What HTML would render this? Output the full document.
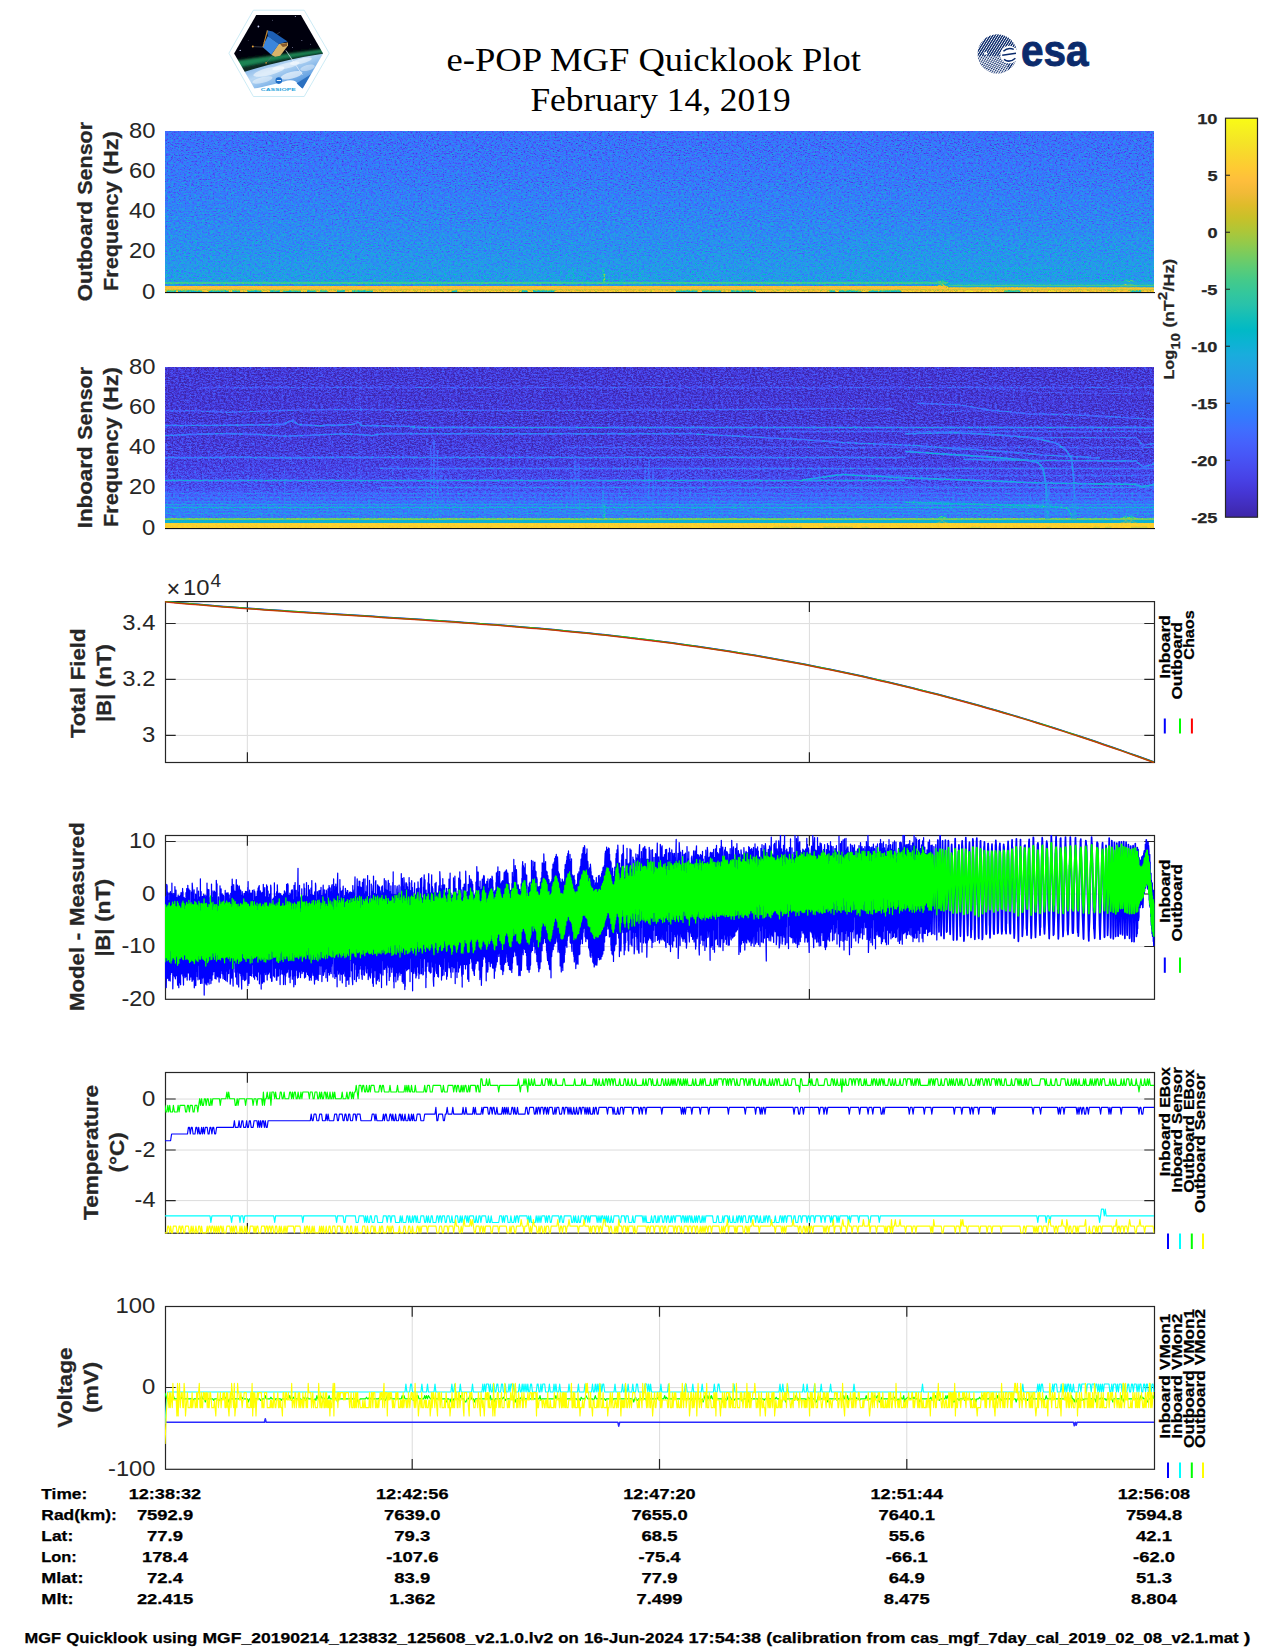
<!DOCTYPE html>
<html lang="en"><head><meta charset="utf-8"><title>e-POP MGF Quicklook Plot - February 14, 2019</title>
<style>
html,body{margin:0;padding:0;background:#fff;}
body{width:1275px;height:1650px;overflow:hidden;font-family:"Liberation Sans",sans-serif;}
svg{display:block;position:absolute;left:0;top:0;}
svg text{font-family:"Liberation Sans",sans-serif;}
svg text.serif{font-family:"Liberation Serif",serif;}
</style></head><body>
<svg width="1275" height="1650" viewBox="0 0 1275 1650">
<defs>
<linearGradient id="cbar" x1="0" y1="0" x2="0" y2="1"><stop offset="0.0000" stop-color="#f9fb15"/><stop offset="0.0312" stop-color="#f6ef20"/><stop offset="0.0625" stop-color="#f5e327"/><stop offset="0.0938" stop-color="#f9d62d"/><stop offset="0.1250" stop-color="#feca33"/><stop offset="0.1562" stop-color="#febe3c"/><stop offset="0.1875" stop-color="#f1ba37"/><stop offset="0.2188" stop-color="#debc2a"/><stop offset="0.2500" stop-color="#c8c129"/><stop offset="0.2812" stop-color="#afc637"/><stop offset="0.3125" stop-color="#94ca4a"/><stop offset="0.3438" stop-color="#77cc60"/><stop offset="0.3750" stop-color="#5ccc76"/><stop offset="0.4062" stop-color="#44ca8a"/><stop offset="0.4375" stop-color="#34c79c"/><stop offset="0.4688" stop-color="#28c2ab"/><stop offset="0.5000" stop-color="#12beb9"/><stop offset="0.5312" stop-color="#01b9c6"/><stop offset="0.5625" stop-color="#0cb3d3"/><stop offset="0.5938" stop-color="#1aacdd"/><stop offset="0.6250" stop-color="#21a3e3"/><stop offset="0.6562" stop-color="#269ae9"/><stop offset="0.6875" stop-color="#2c90f0"/><stop offset="0.7188" stop-color="#2e85f8"/><stop offset="0.7500" stop-color="#347afd"/><stop offset="0.7812" stop-color="#3f6efe"/><stop offset="0.8125" stop-color="#4562fc"/><stop offset="0.8438" stop-color="#4757f7"/><stop offset="0.8750" stop-color="#484cef"/><stop offset="0.9062" stop-color="#4741e5"/><stop offset="0.9375" stop-color="#4536d5"/><stop offset="0.9688" stop-color="#422ebf"/><stop offset="1.0000" stop-color="#3e26a8"/></linearGradient>
<linearGradient id="sg1" gradientUnits="userSpaceOnUse" x1="0" y1="131" x2="0" y2="292"><stop offset="0.0000" stop-color="#424242"/><stop offset="0.2422" stop-color="#474747"/><stop offset="0.4907" stop-color="#505050"/><stop offset="0.7081" stop-color="#595959"/><stop offset="0.8323" stop-color="#5f5f5f"/><stop offset="0.9255" stop-color="#636363"/><stop offset="0.9342" stop-color="#606060"/><stop offset="0.9373" stop-color="#959595"/><stop offset="0.9478" stop-color="#959595"/><stop offset="0.9503" stop-color="#5f5f5f"/><stop offset="0.9609" stop-color="#5f5f5f"/><stop offset="0.9634" stop-color="#d8d8d8"/><stop offset="0.9839" stop-color="#d8d8d8"/><stop offset="0.9857" stop-color="#bababa"/><stop offset="0.9882" stop-color="#bababa"/><stop offset="0.9901" stop-color="#dbdbdb"/><stop offset="1.0000" stop-color="#dedede"/></linearGradient>
<linearGradient id="sg2" gradientUnits="userSpaceOnUse" x1="0" y1="367" x2="0" y2="528"><stop offset="0.0000" stop-color="#1a1a1a"/><stop offset="0.3913" stop-color="#1b1b1b"/><stop offset="0.5776" stop-color="#202020"/><stop offset="0.7019" stop-color="#272727"/><stop offset="0.7640" stop-color="#303030"/><stop offset="0.8261" stop-color="#3a3a3a"/><stop offset="0.8882" stop-color="#434343"/><stop offset="0.9366" stop-color="#4c4c4c"/><stop offset="0.9398" stop-color="#a8a8a8"/><stop offset="0.9503" stop-color="#a8a8a8"/><stop offset="0.9528" stop-color="#717171"/><stop offset="0.9665" stop-color="#717171"/><stop offset="0.9696" stop-color="#e6e6e6"/><stop offset="0.9876" stop-color="#e8e8e8"/><stop offset="1.0000" stop-color="#dbdbdb"/></linearGradient>
<filter id="nz1" filterUnits="userSpaceOnUse" x="165" y="131" width="989" height="161" color-interpolation-filters="sRGB">
<feTurbulence type="fractalNoise" baseFrequency="0.38 0.62" numOctaves="2" seed="7" result="t1"/>
<feTurbulence type="fractalNoise" baseFrequency="0.83 0.97" numOctaves="1" seed="18" result="t2"/>
<feComposite in="t1" in2="t2" operator="arithmetic" k1="0" k2="0.62" k3="0.62" k4="-0.12" result="t"/>
<feColorMatrix in="t" type="matrix" values="1 0 0 0 0  1 0 0 0 0  1 0 0 0 0  0 0 0 0 1" result="g"/>
<feComponentTransfer in="g" result="n"><feFuncR type="table" tableValues="0.294 0.316 0.354 0.420 0.481 0.536 0.588 0.633 0.663 0.679 0.690"/><feFuncG type="table" tableValues="0.294 0.316 0.354 0.420 0.481 0.536 0.588 0.633 0.663 0.679 0.690"/><feFuncB type="table" tableValues="0.294 0.316 0.354 0.420 0.481 0.536 0.588 0.633 0.663 0.679 0.690"/></feComponentTransfer>
<feComposite in="SourceGraphic" in2="n" operator="arithmetic" k1="0" k2="1" k3="1" k4="-0.5" result="s"/>
<feComponentTransfer in="s"><feFuncR type="table" tableValues="0.242 0.250 0.258 0.265 0.271 0.275 0.278 0.280 0.281 0.281 0.280 0.276 0.270 0.260 0.244 0.221 0.196 0.183 0.179 0.176 0.169 0.154 0.146 0.138 0.125 0.111 0.095 0.069 0.030 0.004 0.007 0.043 0.096 0.141 0.172 0.194 0.216 0.247 0.291 0.341 0.391 0.446 0.504 0.562 0.617 0.672 0.724 0.774 0.820 0.863 0.903 0.939 0.973 0.996 0.997 0.995 0.989 0.979 0.968 0.961 0.960 0.963 0.969 0.977"/><feFuncG type="table" tableValues="0.150 0.165 0.182 0.198 0.215 0.234 0.256 0.278 0.301 0.323 0.345 0.367 0.389 0.412 0.436 0.460 0.485 0.507 0.529 0.550 0.570 0.590 0.609 0.628 0.646 0.663 0.680 0.695 0.708 0.720 0.731 0.741 0.750 0.758 0.767 0.776 0.784 0.792 0.797 0.801 0.803 0.802 0.799 0.794 0.788 0.779 0.770 0.760 0.750 0.741 0.733 0.729 0.730 0.743 0.766 0.789 0.814 0.839 0.864 0.889 0.913 0.937 0.961 0.984"/><feFuncB type="table" tableValues="0.660 0.708 0.751 0.795 0.836 0.871 0.899 0.922 0.941 0.958 0.972 0.983 0.991 0.995 0.999 0.997 0.989 0.980 0.968 0.952 0.936 0.922 0.908 0.897 0.888 0.876 0.860 0.839 0.816 0.792 0.766 0.739 0.712 0.684 0.655 0.625 0.592 0.557 0.519 0.479 0.435 0.391 0.348 0.304 0.261 0.223 0.191 0.165 0.153 0.160 0.177 0.210 0.239 0.237 0.220 0.203 0.189 0.177 0.164 0.154 0.142 0.127 0.106 0.081"/><feFuncA type="linear" slope="0" intercept="1"/></feComponentTransfer>
</filter>
<filter id="nz2" filterUnits="userSpaceOnUse" x="165" y="367" width="989" height="161" color-interpolation-filters="sRGB">
<feTurbulence type="fractalNoise" baseFrequency="0.38 0.62" numOctaves="2" seed="23" result="t1"/>
<feTurbulence type="fractalNoise" baseFrequency="0.83 0.97" numOctaves="1" seed="34" result="t2"/>
<feComposite in="t1" in2="t2" operator="arithmetic" k1="0" k2="0.62" k3="0.62" k4="-0.12" result="t"/>
<feColorMatrix in="t" type="matrix" values="1 0 0 0 0  1 0 0 0 0  1 0 0 0 0  0 0 0 0 1" result="g"/>
<feComponentTransfer in="g" result="n"><feFuncR type="table" tableValues="0.360 0.370 0.391 0.428 0.475 0.528 0.575 0.612 0.638 0.654 0.659"/><feFuncG type="table" tableValues="0.360 0.370 0.391 0.428 0.475 0.528 0.575 0.612 0.638 0.654 0.659"/><feFuncB type="table" tableValues="0.360 0.370 0.391 0.428 0.475 0.528 0.575 0.612 0.638 0.654 0.659"/></feComponentTransfer>
<feComposite in="SourceGraphic" in2="n" operator="arithmetic" k1="0" k2="1" k3="1" k4="-0.5" result="s"/>
<feComponentTransfer in="s"><feFuncR type="table" tableValues="0.242 0.250 0.258 0.265 0.271 0.275 0.278 0.280 0.281 0.281 0.280 0.276 0.270 0.260 0.244 0.221 0.196 0.183 0.179 0.176 0.169 0.154 0.146 0.138 0.125 0.111 0.095 0.069 0.030 0.004 0.007 0.043 0.096 0.141 0.172 0.194 0.216 0.247 0.291 0.341 0.391 0.446 0.504 0.562 0.617 0.672 0.724 0.774 0.820 0.863 0.903 0.939 0.973 0.996 0.997 0.995 0.989 0.979 0.968 0.961 0.960 0.963 0.969 0.977"/><feFuncG type="table" tableValues="0.150 0.165 0.182 0.198 0.215 0.234 0.256 0.278 0.301 0.323 0.345 0.367 0.389 0.412 0.436 0.460 0.485 0.507 0.529 0.550 0.570 0.590 0.609 0.628 0.646 0.663 0.680 0.695 0.708 0.720 0.731 0.741 0.750 0.758 0.767 0.776 0.784 0.792 0.797 0.801 0.803 0.802 0.799 0.794 0.788 0.779 0.770 0.760 0.750 0.741 0.733 0.729 0.730 0.743 0.766 0.789 0.814 0.839 0.864 0.889 0.913 0.937 0.961 0.984"/><feFuncB type="table" tableValues="0.660 0.708 0.751 0.795 0.836 0.871 0.899 0.922 0.941 0.958 0.972 0.983 0.991 0.995 0.999 0.997 0.989 0.980 0.968 0.952 0.936 0.922 0.908 0.897 0.888 0.876 0.860 0.839 0.816 0.792 0.766 0.739 0.712 0.684 0.655 0.625 0.592 0.557 0.519 0.479 0.435 0.391 0.348 0.304 0.261 0.223 0.191 0.165 0.153 0.160 0.177 0.210 0.239 0.237 0.220 0.203 0.189 0.177 0.164 0.154 0.142 0.127 0.106 0.081"/><feFuncA type="linear" slope="0" intercept="1"/></feComponentTransfer>
</filter>
</defs>
<g filter="url(#nz1)">
<rect x="165" y="131" width="989" height="161" fill="url(#sg1)"/>
<rect x="565" y="275" width="2" height="8.5" fill="#757575" fill-opacity="0.35"/>
<rect x="568" y="271" width="2" height="12.5" fill="#838383" fill-opacity="0.5"/>
<rect x="572" y="267" width="2" height="16.5" fill="#8a8a8a" fill-opacity="0.5"/>
<rect x="577" y="273" width="2" height="10.5" fill="#7c7c7c" fill-opacity="0.4"/>
<rect x="583" y="276" width="2" height="7.5" fill="#757575" fill-opacity="0.3"/>
<rect x="602.3" y="268" width="2.4" height="15.5" fill="#999999" fill-opacity="0.6"/>
<rect x="603.6" y="274" width="1.8" height="9.5" fill="#bdbdbd" fill-opacity="0.7"/>
<rect x="608" y="274" width="2" height="9.5" fill="#7c7c7c" fill-opacity="0.35"/>
<rect x="612" y="271" width="2" height="12.5" fill="#838383" fill-opacity="0.4"/>
<rect x="621" y="273" width="2" height="10.5" fill="#7c7c7c" fill-opacity="0.35"/>
<rect x="630" y="275" width="2" height="8.5" fill="#7c7c7c" fill-opacity="0.35"/>
<rect x="638.9" y="269" width="2.2" height="14.5" fill="#838383" fill-opacity="0.4"/>
<rect x="644" y="274" width="2" height="9.5" fill="#757575" fill-opacity="0.3"/>
<rect x="654" y="275" width="2" height="8.5" fill="#757575" fill-opacity="0.3"/>
<rect x="436" y="276" width="2" height="7.5" fill="#757575" fill-opacity="0.3"/>
<rect x="431" y="278" width="2" height="5.5" fill="#757575" fill-opacity="0.25"/>
<rect x="660" y="277" width="2" height="6.5" fill="#757575" fill-opacity="0.25"/>
<rect x="850" y="236" width="304" height="46" fill="#6a6a6a" fill-opacity="0.22"/>
<rect x="948" y="281.4" width="206" height="3.2" fill="#606060"/>
<rect x="948" y="284.6" width="206" height="1.4" fill="#999999"/>
<rect x="948" y="286.0" width="206" height="1.3" fill="#666666"/>
<rect x="960" y="267" width="102" height="3" fill="#717171" fill-opacity="0.16"/>
<rect x="960" y="268" width="102" height="1" fill="#777777" fill-opacity="0.53"/>
<rect x="930" y="269" width="170" height="3" fill="#626262" fill-opacity="0.14"/>
<rect x="930" y="270" width="170" height="1" fill="#686868" fill-opacity="0.47"/>
<rect x="930" y="282" width="224" height="3" fill="#a8a8a8" fill-opacity="0.13"/>
<rect x="930" y="283" width="224" height="1" fill="#adadad" fill-opacity="0.42"/>
<path d="M936 282.8L940 281.4L942 280.4L944 281.4L948 282.8" fill="none" stroke="#9d9d9d" stroke-width="1.5" stroke-opacity="0.9" stroke-linejoin="round"/>
<path d="M936 287L940 285.6L942 284.6L944 285.6L948 287" fill="none" stroke="#d0d0d0" stroke-width="1.6" stroke-opacity="0.9" stroke-linejoin="round"/>
<path d="M1120 282.8L1124 281.4L1126 280.4L1128 281.4L1132 282.8" fill="none" stroke="#9d9d9d" stroke-width="1.5" stroke-opacity="0.9" stroke-linejoin="round"/>
<path d="M1120 287L1124 285.6L1126 284.6L1128 285.6L1132 287" fill="none" stroke="#d0d0d0" stroke-width="1.6" stroke-opacity="0.9" stroke-linejoin="round"/>
<path d="M1125 282.8L1129 281.4L1131 280.4L1133 281.4L1137 282.8" fill="none" stroke="#9d9d9d" stroke-width="1.5" stroke-opacity="0.9" stroke-linejoin="round"/>
<path d="M1125 287L1129 285.6L1131 284.6L1133 285.6L1137 287" fill="none" stroke="#d0d0d0" stroke-width="1.6" stroke-opacity="0.9" stroke-linejoin="round"/>
<rect x="167" y="290.4" width="8.9" height="1.7" fill="#888888" fill-opacity="0.9"/>
<rect x="178" y="290.4" width="24.2" height="1.7" fill="#7f7f7f" fill-opacity="0.9"/>
<rect x="208.3" y="290.4" width="20.8" height="1.7" fill="#808080" fill-opacity="0.9"/>
<rect x="232.1" y="290.4" width="8.1" height="1.7" fill="#767676" fill-opacity="0.9"/>
<rect x="247.6" y="290.4" width="13.7" height="1.7" fill="#787878" fill-opacity="0.9"/>
<rect x="270.1" y="290.4" width="10" height="1.7" fill="#7e7e7e" fill-opacity="0.9"/>
<rect x="283.1" y="290.4" width="17.8" height="1.7" fill="#818181" fill-opacity="0.9"/>
<rect x="306.9" y="290.4" width="9.8" height="1.7" fill="#7a7a7a" fill-opacity="0.9"/>
<rect x="320.1" y="290.4" width="7.2" height="1.7" fill="#8a8a8a" fill-opacity="0.9"/>
<rect x="336.8" y="290.4" width="8.1" height="1.7" fill="#797979" fill-opacity="0.9"/>
<rect x="352" y="290.4" width="21.1" height="1.7" fill="#818181" fill-opacity="0.9"/>
<rect x="451.5" y="290.4" width="5.9" height="1.7" fill="#7a7a7a" fill-opacity="0.9"/>
<rect x="521.5" y="290.4" width="6.1" height="1.7" fill="#757575" fill-opacity="0.9"/>
<rect x="533" y="290.4" width="21.5" height="1.7" fill="#797979" fill-opacity="0.9"/>
<rect x="621.8" y="290.4" width="1.7" height="1.7" fill="#f4f4f4" fill-opacity="0.8"/>
<rect x="675.9" y="290.4" width="21.6" height="1.7" fill="#797979" fill-opacity="0.9"/>
<rect x="702" y="290.4" width="19.5" height="1.7" fill="#7c7c7c" fill-opacity="0.9"/>
<rect x="730.7" y="290.4" width="25" height="1.7" fill="#888888" fill-opacity="0.9"/>
<rect x="829.3" y="290.4" width="5.8" height="1.7" fill="#797979" fill-opacity="0.9"/>
<rect x="838.7" y="290.4" width="21.8" height="1.7" fill="#7e7e7e" fill-opacity="0.9"/>
<rect x="868.7" y="290.4" width="9.8" height="1.7" fill="#7a7a7a" fill-opacity="0.9"/>
<rect x="879.3" y="290.4" width="21.8" height="1.7" fill="#797979" fill-opacity="0.9"/>
<rect x="965.2" y="290.4" width="7.4" height="1.7" fill="#f4f4f4" fill-opacity="0.8"/>
<rect x="989.5" y="290.4" width="5.8" height="1.7" fill="#f4f4f4" fill-opacity="0.8"/>
<rect x="1004.2" y="290.4" width="16" height="1.7" fill="#888888" fill-opacity="0.9"/>
<rect x="1047.6" y="290.4" width="8.5" height="1.7" fill="#f4f4f4" fill-opacity="0.8"/>
<rect x="1114.7" y="290.4" width="5.8" height="1.7" fill="#f4f4f4" fill-opacity="0.8"/>
<rect x="1130.5" y="290.4" width="10.6" height="1.7" fill="#7c7c7c" fill-opacity="0.9"/>
</g>
<rect x="165" y="281.9" width="781" height="1.8" fill="#3eca8f" fill-opacity="0.8"/>
<rect x="950" y="284.7" width="204" height="1.3" fill="#48cb86" fill-opacity="0.8"/>
<rect x="950" y="281.6" width="204" height="2.6" fill="#21a4e3" fill-opacity="0.8"/>
<rect x="950" y="286" width="204" height="1.2" fill="#1caadf" fill-opacity="0.8"/>
<rect x="165" y="286.1" width="781" height="3.5" fill="#febf3b" fill-opacity="0.8"/>
<rect x="950" y="287.4" width="204" height="2.3" fill="#febf3b" fill-opacity="0.8"/>
<rect x="165" y="289.6" width="989" height="0.6" fill="#b7c532" fill-opacity="0.8"/>
<rect x="165" y="292" width="990" height="1.1" fill="#111"/>
<g filter="url(#nz2)">
<rect x="165" y="367" width="989" height="161" fill="url(#sg2)"/>
<rect x="359.2" y="367" width="1.5" height="153" fill="#373737" fill-opacity="0.45"/>
<rect x="284" y="472" width="1.3" height="48" fill="#505050" fill-opacity="0.5"/>
<rect x="430.2" y="445" width="1.6" height="74" fill="#575757" fill-opacity="0.4"/>
<rect x="433.2" y="440" width="1.6" height="79" fill="#5f5f5f" fill-opacity="0.5"/>
<rect x="436.7" y="450" width="1.6" height="69" fill="#575757" fill-opacity="0.45"/>
<rect x="440.2" y="470" width="1.6" height="49" fill="#575757" fill-opacity="0.35"/>
<rect x="425.2" y="480" width="1.6" height="39" fill="#505050" fill-opacity="0.3"/>
<rect x="570.2" y="470" width="1.6" height="49" fill="#575757" fill-opacity="0.35"/>
<rect x="574.2" y="455" width="1.6" height="64" fill="#5f5f5f" fill-opacity="0.45"/>
<rect x="578.2" y="462" width="1.6" height="57" fill="#5f5f5f" fill-opacity="0.45"/>
<rect x="582.2" y="480" width="1.6" height="39" fill="#575757" fill-opacity="0.3"/>
<rect x="602.2" y="490" width="1.6" height="29" fill="#7c7c7c" fill-opacity="0.5"/>
<rect x="603.7" y="505" width="1.6" height="14" fill="#b6b6b6" fill-opacity="0.6"/>
<rect x="621.2" y="495" width="1.6" height="24" fill="#5f5f5f" fill-opacity="0.3"/>
<rect x="644.2" y="470" width="1.6" height="49" fill="#575757" fill-opacity="0.4"/>
<rect x="648.2" y="460" width="1.6" height="59" fill="#5b5b5b" fill-opacity="0.45"/>
<rect x="652.2" y="470" width="1.6" height="49" fill="#575757" fill-opacity="0.4"/>
<rect x="657.2" y="485" width="1.6" height="34" fill="#575757" fill-opacity="0.3"/>
<rect x="667.2" y="470" width="1.6" height="49" fill="#505050" fill-opacity="0.35"/>
<rect x="200" y="386" width="954" height="3" fill="#3a3a3a" fill-opacity="0.19"/>
<rect x="200" y="387" width="954" height="1" fill="#404040" fill-opacity="0.63"/>
<rect x="410" y="426" width="744" height="3" fill="#545454" fill-opacity="0.32"/>
<rect x="410" y="427" width="744" height="1" fill="#5a5a5a" fill-opacity="1.00"/>
<rect x="560" y="446" width="594" height="3" fill="#3e3e3e" fill-opacity="0.21"/>
<rect x="560" y="447" width="594" height="1" fill="#444444" fill-opacity="0.68"/>
<rect x="165" y="456" width="740" height="3" fill="#4c4c4c" fill-opacity="0.29"/>
<rect x="165" y="457" width="740" height="1" fill="#525252" fill-opacity="0.95"/>
<rect x="380" y="467" width="774" height="3" fill="#494949" fill-opacity="0.26"/>
<rect x="380" y="468" width="774" height="1" fill="#4f4f4f" fill-opacity="0.84"/>
<rect x="165" y="479" width="740" height="3" fill="#5f5f5f" fill-opacity="0.32"/>
<rect x="165" y="480" width="740" height="1" fill="#656565" fill-opacity="1.00"/>
<rect x="380" y="486" width="774" height="3" fill="#4c4c4c" fill-opacity="0.26"/>
<rect x="380" y="487" width="774" height="1" fill="#525252" fill-opacity="0.84"/>
<rect x="165" y="492" width="989" height="3" fill="#494949" fill-opacity="0.19"/>
<rect x="165" y="493" width="989" height="1" fill="#4f4f4f" fill-opacity="0.63"/>
<rect x="165" y="496" width="989" height="3" fill="#4c4c4c" fill-opacity="0.19"/>
<rect x="165" y="497" width="989" height="1" fill="#525252" fill-opacity="0.63"/>
<rect x="165" y="500" width="989" height="3" fill="#505050" fill-opacity="0.19"/>
<rect x="165" y="501" width="989" height="1" fill="#565656" fill-opacity="0.63"/>
<rect x="165" y="503" width="989" height="3" fill="#626262" fill-opacity="0.26"/>
<rect x="165" y="504" width="989" height="1" fill="#686868" fill-opacity="0.84"/>
<rect x="165" y="506" width="989" height="3" fill="#6d6d6d" fill-opacity="0.30"/>
<rect x="165" y="507" width="989" height="1" fill="#737373" fill-opacity="1.00"/>
<rect x="165" y="509" width="989" height="3" fill="#5b5b5b" fill-opacity="0.19"/>
<rect x="165" y="510" width="989" height="1" fill="#616161" fill-opacity="0.63"/>
<rect x="165" y="512" width="989" height="3" fill="#5f5f5f" fill-opacity="0.19"/>
<rect x="165" y="513" width="989" height="1" fill="#656565" fill-opacity="0.63"/>
<rect x="780" y="430" width="374" height="3" fill="#454545" fill-opacity="0.19"/>
<rect x="780" y="431" width="374" height="1" fill="#4b4b4b" fill-opacity="0.63"/>
<rect x="850" y="474" width="304" height="3" fill="#454545" fill-opacity="0.16"/>
<rect x="850" y="475" width="304" height="1" fill="#4b4b4b" fill-opacity="0.53"/>
<path d="M165 411L190 410.6L230 412.3L292 410.2L340 409.5L415 410.2L560 410.4L665 410L760 409.2L842 408.6L894 408.7" fill="none" stroke="#454545" stroke-width="1.4" stroke-opacity="0.8" stroke-linejoin="round"/>
<path d="M917 403.2L957 404.8L993 410.5L1032 414L1081 415L1130 418L1154 419" fill="none" stroke="#494949" stroke-width="1.4" stroke-opacity="0.85" stroke-linejoin="round"/>
<path d="M941 411.9L1000 409.8" fill="none" stroke="#3e3e3e" stroke-width="1.2" stroke-opacity="0.6" stroke-linejoin="round"/>
<path d="M165 425.6L230 425.2L283 424.6L289 421.5L293 420.8L298 424.4L320 425.8L352 424.6L358 422L362 425.6L415 426.6" fill="none" stroke="#505050" stroke-width="1.5" stroke-opacity="1.0" stroke-linejoin="round"/>
<path d="M165 435.6L195 434.2L230 433.6L262 434.6L285 436.2L310 435.2L345 433.8L372 435.4L380 434L415 433.7L690 433.7L725 435.6L802 439.5L842 442.5L915 445.6L960 449L1010 452L1042 455L1100 458" fill="none" stroke="#505050" stroke-width="1.5" stroke-opacity="0.95" stroke-linejoin="round"/>
<path d="M165 457.8L240 457.2L290 458.6L340 457L415 457.3" fill="none" stroke="#494949" stroke-width="1.3" stroke-opacity="0.6" stroke-linejoin="round"/>
<path d="M964 385.6L1042 392.5L1120 393.5L1154 394" fill="none" stroke="#3a3a3a" stroke-width="1.2" stroke-opacity="0.6" stroke-linejoin="round"/>
<path d="M905 433.7L954 432.7L993 434.6L1032 437.6L1056 443L1066 450L1071.7 459L1073.6 477L1074.6 500L1075.6 520" fill="none" stroke="#5b5b5b" stroke-width="1.6" stroke-opacity="0.9" stroke-linejoin="round"/>
<path d="M905 451.3L960 455.2L993 457.2L1026 460L1038 462.5L1043 468L1046 484.6L1047 520" fill="none" stroke="#6a6a6a" stroke-width="1.7" stroke-opacity="0.95" stroke-linejoin="round"/>
<path d="M1032 437.6L1136 437.6L1143 445.4L1154 443.5" fill="none" stroke="#505050" stroke-width="1.4" stroke-opacity="0.85" stroke-linejoin="round"/>
<path d="M964 459.5L1040 460.5L1136 461L1143 467L1154 464" fill="none" stroke="#5f5f5f" stroke-width="1.5" stroke-opacity="0.9" stroke-linejoin="round"/>
<path d="M802 480L842 474.5L905 477.8L983 480.7L1042 483L1136 484.3L1142 486.6L1154 484.6" fill="none" stroke="#717171" stroke-width="1.7" stroke-opacity="0.95" stroke-linejoin="round"/>
<path d="M905 502.3L964 503.7L1042 506.2L1062 507.5L1068 509L1071.7 516L1072.5 520" fill="none" stroke="#838383" stroke-width="1.6" stroke-opacity="0.9" stroke-linejoin="round"/>
<rect x="1045" y="486" width="5" height="34" fill="#5b5b5b" fill-opacity="0.45"/>
<rect x="1072" y="505" width="5" height="15" fill="#626262" fill-opacity="0.5"/>
<path d="M936 519.2L940 517.5L942 516.3L944 517.5L948 519.2" fill="none" stroke="#a8a8a8" stroke-width="1.5" stroke-opacity="0.9" stroke-linejoin="round"/>
<path d="M936 523.6L940 522L942 520.8L944 522L948 523.6" fill="none" stroke="#dbdbdb" stroke-width="1.7" stroke-opacity="0.9" stroke-linejoin="round"/>
<path d="M1120 519.2L1124 517.5L1126 516.3L1128 517.5L1132 519.2" fill="none" stroke="#a8a8a8" stroke-width="1.5" stroke-opacity="0.9" stroke-linejoin="round"/>
<path d="M1120 523.6L1124 522L1126 520.8L1128 522L1132 523.6" fill="none" stroke="#dbdbdb" stroke-width="1.7" stroke-opacity="0.9" stroke-linejoin="round"/>
<path d="M1125.5 519.2L1129.5 517.5L1131.5 516.3L1133.5 517.5L1137.5 519.2" fill="none" stroke="#a8a8a8" stroke-width="1.5" stroke-opacity="0.9" stroke-linejoin="round"/>
<path d="M1125.5 523.6L1129.5 522L1131.5 520.8L1133.5 522L1137.5 523.6" fill="none" stroke="#dbdbdb" stroke-width="1.7" stroke-opacity="0.9" stroke-linejoin="round"/>
<rect x="342.6" y="526.2" width="2.1" height="1.7" fill="#f8f8f8" fill-opacity="0.7"/>
<rect x="621.3" y="526.2" width="7.1" height="1.7" fill="#f8f8f8" fill-opacity="0.7"/>
<rect x="578.9" y="526.2" width="5.4" height="1.7" fill="#f8f8f8" fill-opacity="0.7"/>
<rect x="177.6" y="526.2" width="5.4" height="1.7" fill="#f8f8f8" fill-opacity="0.7"/>
<rect x="1092.7" y="526.2" width="8" height="1.7" fill="#f8f8f8" fill-opacity="0.7"/>
<rect x="884" y="526.2" width="2.8" height="1.7" fill="#f8f8f8" fill-opacity="0.7"/>
<rect x="1045.5" y="526.2" width="8" height="1.7" fill="#f8f8f8" fill-opacity="0.7"/>
<rect x="327.6" y="526.2" width="6.4" height="1.7" fill="#f8f8f8" fill-opacity="0.7"/>
<rect x="185.2" y="526.2" width="2.8" height="1.7" fill="#f8f8f8" fill-opacity="0.7"/>
<rect x="476.6" y="526.2" width="3.1" height="1.7" fill="#f8f8f8" fill-opacity="0.7"/>
<rect x="912.6" y="526.2" width="7.7" height="1.7" fill="#f8f8f8" fill-opacity="0.7"/>
<rect x="504.5" y="526.2" width="4.2" height="1.7" fill="#f8f8f8" fill-opacity="0.7"/>
<rect x="275" y="526.2" width="2.6" height="1.7" fill="#f8f8f8" fill-opacity="0.7"/>
<rect x="867" y="526.2" width="6.2" height="1.7" fill="#f8f8f8" fill-opacity="0.7"/>
<rect x="219.8" y="526.2" width="5.4" height="1.7" fill="#f8f8f8" fill-opacity="0.7"/>
<rect x="560.7" y="526.2" width="7.9" height="1.7" fill="#f8f8f8" fill-opacity="0.7"/>
<rect x="872.1" y="526.2" width="6.2" height="1.7" fill="#f8f8f8" fill-opacity="0.7"/>
<rect x="709.1" y="526.2" width="8.6" height="1.7" fill="#f8f8f8" fill-opacity="0.7"/>
<rect x="1136.9" y="526.2" width="4.4" height="1.7" fill="#f8f8f8" fill-opacity="0.7"/>
<rect x="401.3" y="526.2" width="7.6" height="1.7" fill="#f8f8f8" fill-opacity="0.7"/>
<rect x="227.7" y="526.2" width="4.6" height="1.7" fill="#f8f8f8" fill-opacity="0.7"/>
<rect x="234" y="526.2" width="4.2" height="1.7" fill="#f8f8f8" fill-opacity="0.7"/>
<rect x="234.3" y="526.2" width="4" height="1.7" fill="#f8f8f8" fill-opacity="0.7"/>
<rect x="943.2" y="526.2" width="8.3" height="1.7" fill="#f8f8f8" fill-opacity="0.7"/>
<rect x="945.7" y="526.2" width="5.9" height="1.7" fill="#f8f8f8" fill-opacity="0.7"/>
<rect x="771.8" y="526.2" width="4.5" height="1.7" fill="#f8f8f8" fill-opacity="0.7"/>
<rect x="331.3" y="526.2" width="5.1" height="1.7" fill="#f8f8f8" fill-opacity="0.7"/>
<rect x="886.8" y="526.2" width="2.4" height="1.7" fill="#f8f8f8" fill-opacity="0.7"/>
<rect x="185.4" y="526.2" width="7.4" height="1.7" fill="#f8f8f8" fill-opacity="0.7"/>
<rect x="460.5" y="526.2" width="6.9" height="1.7" fill="#f8f8f8" fill-opacity="0.7"/>
<rect x="888.6" y="526.2" width="8.5" height="1.7" fill="#f8f8f8" fill-opacity="0.7"/>
<rect x="559.3" y="526.2" width="4.5" height="1.7" fill="#f8f8f8" fill-opacity="0.7"/>
<rect x="959.5" y="526.2" width="7.4" height="1.7" fill="#f8f8f8" fill-opacity="0.7"/>
<rect x="807.8" y="526.2" width="7.7" height="1.7" fill="#f8f8f8" fill-opacity="0.7"/>
<rect x="797.6" y="526.2" width="8.7" height="1.7" fill="#f8f8f8" fill-opacity="0.7"/>
<rect x="493.9" y="526.2" width="7.2" height="1.7" fill="#f8f8f8" fill-opacity="0.7"/>
<rect x="1100.6" y="526.2" width="4.3" height="1.7" fill="#f8f8f8" fill-opacity="0.7"/>
<rect x="767.5" y="526.2" width="4.6" height="1.7" fill="#f8f8f8" fill-opacity="0.7"/>
<rect x="619.6" y="526.2" width="2.5" height="1.7" fill="#f8f8f8" fill-opacity="0.7"/>
<rect x="184.1" y="526.2" width="7.3" height="1.7" fill="#f8f8f8" fill-opacity="0.7"/>
<rect x="611" y="526.2" width="6.4" height="1.7" fill="#f8f8f8" fill-opacity="0.7"/>
<rect x="893.9" y="526.2" width="4.9" height="1.7" fill="#f8f8f8" fill-opacity="0.7"/>
<rect x="527.1" y="526.2" width="3.2" height="1.7" fill="#f8f8f8" fill-opacity="0.7"/>
<rect x="947" y="526.2" width="7.8" height="1.7" fill="#f8f8f8" fill-opacity="0.7"/>
<rect x="888.2" y="526.2" width="8.1" height="1.7" fill="#f8f8f8" fill-opacity="0.7"/>
<rect x="803.3" y="526.2" width="6.9" height="1.7" fill="#f8f8f8" fill-opacity="0.7"/>
<rect x="355.1" y="526.2" width="7.4" height="1.7" fill="#f8f8f8" fill-opacity="0.7"/>
<rect x="494.1" y="526.2" width="5.1" height="1.7" fill="#f8f8f8" fill-opacity="0.7"/>
<rect x="479.1" y="526.2" width="6" height="1.7" fill="#f8f8f8" fill-opacity="0.7"/>
<rect x="813.8" y="526.2" width="6" height="1.7" fill="#f8f8f8" fill-opacity="0.7"/>
<rect x="478.4" y="526.2" width="3.5" height="1.7" fill="#f8f8f8" fill-opacity="0.7"/>
<rect x="997.3" y="526.2" width="4.1" height="1.7" fill="#f8f8f8" fill-opacity="0.7"/>
<rect x="596.6" y="526.2" width="2.6" height="1.7" fill="#f8f8f8" fill-opacity="0.7"/>
<rect x="461.5" y="526.2" width="2.6" height="1.7" fill="#f8f8f8" fill-opacity="0.7"/>
<rect x="503.6" y="526.2" width="7" height="1.7" fill="#f8f8f8" fill-opacity="0.7"/>
<rect x="1124.4" y="526.2" width="6.4" height="1.7" fill="#f8f8f8" fill-opacity="0.7"/>
<rect x="430.3" y="526.2" width="6.6" height="1.7" fill="#f8f8f8" fill-opacity="0.7"/>
<rect x="782.6" y="526.2" width="7.8" height="1.7" fill="#f8f8f8" fill-opacity="0.7"/>
<rect x="690.7" y="526.2" width="8.4" height="1.7" fill="#f8f8f8" fill-opacity="0.7"/>
<rect x="574.3" y="526.2" width="4" height="1.7" fill="#f8f8f8" fill-opacity="0.7"/>
<rect x="837.4" y="526.7" width="15.9" height="1.3" fill="#8a8a8a" fill-opacity="0.8"/>
<rect x="970.5" y="526.7" width="9.9" height="1.3" fill="#8a8a8a" fill-opacity="0.8"/>
<rect x="823.4" y="526.7" width="12.1" height="1.3" fill="#8a8a8a" fill-opacity="0.8"/>
<rect x="791.1" y="526.7" width="10.7" height="1.3" fill="#8a8a8a" fill-opacity="0.8"/>
<rect x="1131.3" y="526.7" width="16.1" height="1.3" fill="#8a8a8a" fill-opacity="0.8"/>
<rect x="1046.4" y="526.7" width="4.8" height="1.3" fill="#8a8a8a" fill-opacity="0.8"/>
<rect x="861.7" y="526.7" width="8.1" height="1.3" fill="#8a8a8a" fill-opacity="0.8"/>
<rect x="1092.7" y="526.7" width="7.4" height="1.3" fill="#8a8a8a" fill-opacity="0.8"/>
<rect x="1105" y="526.7" width="6.3" height="1.3" fill="#8a8a8a" fill-opacity="0.8"/>
<rect x="773.3" y="526.7" width="16.4" height="1.3" fill="#8a8a8a" fill-opacity="0.8"/>
</g>
<rect x="165" y="518.5" width="989" height="1.6" fill="#78cc5f" fill-opacity="0.75"/>
<rect x="165" y="520.2" width="989" height="2.6" fill="#09b4d1" fill-opacity="0.75"/>
<rect x="165" y="523" width="989" height="5.0" fill="#fbd32e" fill-opacity="0.75"/>
<rect x="165" y="528" width="990" height="1.1" fill="#111"/>
<rect x="1225.5" y="118.2" width="32" height="399" fill="url(#cbar)" stroke="#262626" stroke-width="1.2"/>
<text x="1197.2" y="123.8" font-size="15.38" font-weight="bold" stroke="#262626" stroke-width="0.25" textLength="20.3" lengthAdjust="spacingAndGlyphs" fill="#262626">10</text>
<rect x="1225.5" y="174.7" width="4.5" height="1.1" fill="#262626"/>
<text x="1207.4" y="180.8" font-size="15.38" font-weight="bold" stroke="#262626" stroke-width="0.25" textLength="10.1" lengthAdjust="spacingAndGlyphs" fill="#262626">5</text>
<rect x="1225.5" y="231.7" width="4.5" height="1.1" fill="#262626"/>
<text x="1207.4" y="237.8" font-size="15.38" font-weight="bold" stroke="#262626" stroke-width="0.25" textLength="10.1" lengthAdjust="spacingAndGlyphs" fill="#262626">0</text>
<rect x="1225.5" y="288.7" width="4.5" height="1.1" fill="#262626"/>
<text x="1201.3" y="294.8" font-size="15.38" font-weight="bold" stroke="#262626" stroke-width="0.25" textLength="16.2" lengthAdjust="spacingAndGlyphs" fill="#262626">-5</text>
<rect x="1225.5" y="345.7" width="4.5" height="1.1" fill="#262626"/>
<text x="1191.2" y="351.8" font-size="15.38" font-weight="bold" stroke="#262626" stroke-width="0.25" textLength="26.3" lengthAdjust="spacingAndGlyphs" fill="#262626">-10</text>
<rect x="1225.5" y="402.7" width="4.5" height="1.1" fill="#262626"/>
<text x="1191.2" y="408.8" font-size="15.38" font-weight="bold" stroke="#262626" stroke-width="0.25" textLength="26.3" lengthAdjust="spacingAndGlyphs" fill="#262626">-15</text>
<rect x="1225.5" y="459.7" width="4.5" height="1.1" fill="#262626"/>
<text x="1191.2" y="465.8" font-size="15.38" font-weight="bold" stroke="#262626" stroke-width="0.25" textLength="26.3" lengthAdjust="spacingAndGlyphs" fill="#262626">-20</text>
<text x="1191.2" y="522.8" font-size="15.38" font-weight="bold" stroke="#262626" stroke-width="0.25" textLength="26.3" lengthAdjust="spacingAndGlyphs" fill="#262626">-25</text>
<text x="128.9" y="137.7" font-size="21.98" textLength="26.5" lengthAdjust="spacingAndGlyphs" fill="#262626">80</text>
<text x="128.9" y="177.9" font-size="21.98" textLength="26.5" lengthAdjust="spacingAndGlyphs" fill="#262626">60</text>
<text x="128.9" y="218.2" font-size="21.98" textLength="26.5" lengthAdjust="spacingAndGlyphs" fill="#262626">40</text>
<text x="128.9" y="258.4" font-size="21.98" textLength="26.5" lengthAdjust="spacingAndGlyphs" fill="#262626">20</text>
<text x="142.1" y="298.7" font-size="21.98" textLength="13.3" lengthAdjust="spacingAndGlyphs" fill="#262626">0</text>
<text x="128.9" y="373.7" font-size="21.98" textLength="26.5" lengthAdjust="spacingAndGlyphs" fill="#262626">80</text>
<text x="128.9" y="413.9" font-size="21.98" textLength="26.5" lengthAdjust="spacingAndGlyphs" fill="#262626">60</text>
<text x="128.9" y="454.2" font-size="21.98" textLength="26.5" lengthAdjust="spacingAndGlyphs" fill="#262626">40</text>
<text x="128.9" y="494.4" font-size="21.98" textLength="26.5" lengthAdjust="spacingAndGlyphs" fill="#262626">20</text>
<text x="142.1" y="534.7" font-size="21.98" textLength="13.3" lengthAdjust="spacingAndGlyphs" fill="#262626">0</text>
<text transform="translate(91.9 211.6) rotate(-90)" y="0" font-size="19.78" font-weight="bold" stroke="#262626" stroke-width="0.25" fill="#262626"><tspan x="-89.6" textLength="99.9" lengthAdjust="spacingAndGlyphs">Outboard</tspan> <tspan x="16.8" textLength="72.9" lengthAdjust="spacingAndGlyphs">Sensor</tspan></text>
<text transform="translate(118 211) rotate(-90)" y="0" font-size="19.78" font-weight="bold" stroke="#262626" stroke-width="0.25" fill="#262626"><tspan x="-80" textLength="109.7" lengthAdjust="spacingAndGlyphs">Frequency</tspan> <tspan x="36.3" textLength="43.7" lengthAdjust="spacingAndGlyphs">(Hz)</tspan></text>
<text transform="translate(91.9 447.6) rotate(-90)" y="0" font-size="19.78" font-weight="bold" stroke="#262626" stroke-width="0.25" fill="#262626"><tspan x="-80.7" textLength="81.9" lengthAdjust="spacingAndGlyphs">Inboard</tspan> <tspan x="7.8" textLength="72.9" lengthAdjust="spacingAndGlyphs">Sensor</tspan></text>
<text transform="translate(118 447) rotate(-90)" y="0" font-size="19.78" font-weight="bold" stroke="#262626" stroke-width="0.25" fill="#262626"><tspan x="-80" textLength="109.7" lengthAdjust="spacingAndGlyphs">Frequency</tspan> <tspan x="36.3" textLength="43.7" lengthAdjust="spacingAndGlyphs">(Hz)</tspan></text>
<text transform="translate(1174.2 379.6) rotate(-90)" x="0" y="0" font-size="15.38" font-weight="bold" stroke="#262626" stroke-width="0.25" textLength="29.7" lengthAdjust="spacingAndGlyphs" fill="#262626">Log</text>
<text transform="translate(1179.8 349.4) rotate(-90)" x="0" y="0" font-size="12.31" font-weight="bold" stroke="#262626" stroke-width="0.25" textLength="16.2" lengthAdjust="spacingAndGlyphs" fill="#262626">10</text>
<text transform="translate(1174.2 327.5) rotate(-90)" x="0" y="0" font-size="15.38" font-weight="bold" stroke="#262626" stroke-width="0.25" textLength="27.0" lengthAdjust="spacingAndGlyphs" fill="#262626">(nT</text>
<text transform="translate(1166.8 300.1) rotate(-90)" x="0" y="0" font-size="12.31" font-weight="bold" stroke="#262626" stroke-width="0.25" textLength="8.1" lengthAdjust="spacingAndGlyphs" fill="#262626">2</text>
<text transform="translate(1174.2 291.4) rotate(-90)" x="0" y="0" font-size="15.38" font-weight="bold" stroke="#262626" stroke-width="0.25" textLength="32.7" lengthAdjust="spacingAndGlyphs" fill="#262626">/Hz)</text>
<text transform="translate(84.9 683.3) rotate(-90)" y="0" font-size="19.78" font-weight="bold" stroke="#262626" stroke-width="0.25" fill="#262626"><tspan x="-54.8" textLength="51.2" lengthAdjust="spacingAndGlyphs">Total</tspan> <tspan x="3" textLength="51.8" lengthAdjust="spacingAndGlyphs">Field</tspan></text>
<text transform="translate(111 683) rotate(-90)" y="0" font-size="19.78" font-weight="bold" stroke="#262626" stroke-width="0.25" fill="#262626"><tspan x="-38.9" textLength="28.0" lengthAdjust="spacingAndGlyphs">|B|</tspan> <tspan x="-4.4" textLength="43.3" lengthAdjust="spacingAndGlyphs">(nT)</tspan></text>
<text transform="translate(84.4 916.6) rotate(-90)" y="0" font-size="19.78" font-weight="bold" stroke="#262626" stroke-width="0.25" fill="#262626"><tspan x="-94.4" textLength="64.1" lengthAdjust="spacingAndGlyphs">Model</tspan> <tspan x="-23.8" textLength="7.8" lengthAdjust="spacingAndGlyphs">-</tspan> <tspan x="-9.5" textLength="103.9" lengthAdjust="spacingAndGlyphs">Measured</tspan></text>
<text transform="translate(110.3 917.7) rotate(-90)" y="0" font-size="19.78" font-weight="bold" stroke="#262626" stroke-width="0.25" fill="#262626"><tspan x="-38.9" textLength="28.0" lengthAdjust="spacingAndGlyphs">|B|</tspan> <tspan x="-4.4" textLength="43.3" lengthAdjust="spacingAndGlyphs">(nT)</tspan></text>
<text transform="translate(98.3 1152.5) rotate(-90)" x="-67.4" y="0" font-size="19.78" font-weight="bold" stroke="#262626" stroke-width="0.25" textLength="134.9" lengthAdjust="spacingAndGlyphs" fill="#262626">Temperature</text>
<text transform="translate(124.2 1152.5) rotate(-90)" x="-20.1" y="0" font-size="19.78" font-weight="bold" stroke="#262626" stroke-width="0.25" textLength="40.3" lengthAdjust="spacingAndGlyphs" fill="#262626">(°C)</text>
<text transform="translate(72.2 1387.5) rotate(-90)" x="-40.3" y="0" font-size="19.78" font-weight="bold" stroke="#262626" stroke-width="0.25" textLength="80.5" lengthAdjust="spacingAndGlyphs" fill="#262626">Voltage</text>
<text transform="translate(98.1 1387.5) rotate(-90)" x="-25.6" y="0" font-size="19.78" font-weight="bold" stroke="#262626" stroke-width="0.25" textLength="51.2" lengthAdjust="spacingAndGlyphs" fill="#262626">(mV)</text>
<text x="166.6" y="597.4" font-size="23.5" fill="#262626">×</text>
<text x="183" y="595.3" font-size="21.98" textLength="26.5" lengthAdjust="spacingAndGlyphs" fill="#262626">10</text>
<text x="210.6" y="586.6" font-size="17.58" textLength="10.6" lengthAdjust="spacingAndGlyphs" fill="#262626">4</text>
<text transform="translate(1169.8 678.8) rotate(-90)" x="0" y="0" font-size="15.38" font-weight="bold" stroke="#000" stroke-width="0.25" textLength="63.7" lengthAdjust="spacingAndGlyphs" fill="#000">Inboard</text>
<text transform="translate(1181.8 699.6) rotate(-90)" x="0" y="0" font-size="15.38" font-weight="bold" stroke="#000" stroke-width="0.25" textLength="77.7" lengthAdjust="spacingAndGlyphs" fill="#000">Outboard</text>
<text transform="translate(1193.8 659.8) rotate(-90)" x="0" y="0" font-size="15.38" font-weight="bold" stroke="#000" stroke-width="0.25" textLength="49.6" lengthAdjust="spacingAndGlyphs" fill="#000">Chaos</text>
<rect x="1163.8" y="718.5" width="2" height="15" fill="#0000ff"/>
<rect x="1179" y="718.5" width="2" height="15" fill="#00ff00"/>
<rect x="1190.9" y="718.5" width="2" height="15" fill="#ff0000"/>
<text transform="translate(1169.8 923) rotate(-90)" x="0" y="0" font-size="15.38" font-weight="bold" stroke="#000" stroke-width="0.25" textLength="63.7" lengthAdjust="spacingAndGlyphs" fill="#000">Inboard</text>
<text transform="translate(1181.8 941.6) rotate(-90)" x="0" y="0" font-size="15.38" font-weight="bold" stroke="#000" stroke-width="0.25" textLength="77.7" lengthAdjust="spacingAndGlyphs" fill="#000">Outboard</text>
<rect x="1163.8" y="957.5" width="2" height="15.3" fill="#0000ff"/>
<rect x="1179" y="957.5" width="2" height="15.3" fill="#00ff00"/>
<text transform="translate(1169.8 1176.5) rotate(-90)" y="0" font-size="15.38" font-weight="bold" stroke="#000" stroke-width="0.25" fill="#000"><tspan x="0" textLength="63.7" lengthAdjust="spacingAndGlyphs">Inboard</tspan> <tspan x="68.8" textLength="40.5" lengthAdjust="spacingAndGlyphs">EBox</tspan></text>
<text transform="translate(1181.8 1192.7) rotate(-90)" y="0" font-size="15.38" font-weight="bold" stroke="#000" stroke-width="0.25" fill="#000"><tspan x="0" textLength="63.7" lengthAdjust="spacingAndGlyphs">Inboard</tspan> <tspan x="68.8" textLength="56.7" lengthAdjust="spacingAndGlyphs">Sensor</tspan></text>
<text transform="translate(1193.8 1192.7) rotate(-90)" y="0" font-size="15.38" font-weight="bold" stroke="#000" stroke-width="0.25" fill="#000"><tspan x="0" textLength="77.7" lengthAdjust="spacingAndGlyphs">Outboard</tspan> <tspan x="82.7" textLength="40.5" lengthAdjust="spacingAndGlyphs">EBox</tspan></text>
<text transform="translate(1205.4 1213) rotate(-90)" y="0" font-size="15.38" font-weight="bold" stroke="#000" stroke-width="0.25" fill="#000"><tspan x="0" textLength="77.7" lengthAdjust="spacingAndGlyphs">Outboard</tspan> <tspan x="82.7" textLength="56.7" lengthAdjust="spacingAndGlyphs">Sensor</tspan></text>
<rect x="1167" y="1233.5" width="2" height="15.5" fill="#0000ff"/>
<rect x="1179" y="1233.5" width="2" height="15.5" fill="#00ffff"/>
<rect x="1190.8" y="1233.5" width="2" height="15.5" fill="#00ff00"/>
<rect x="1202" y="1233.5" width="2" height="15.5" fill="#ffff00"/>
<text transform="translate(1169.8 1438.8) rotate(-90)" y="0" font-size="15.38" font-weight="bold" stroke="#000" stroke-width="0.25" fill="#000"><tspan x="0" textLength="63.7" lengthAdjust="spacingAndGlyphs">Inboard</tspan> <tspan x="68.8" textLength="56.3" lengthAdjust="spacingAndGlyphs">VMon1</tspan></text>
<text transform="translate(1181.8 1438.8) rotate(-90)" y="0" font-size="15.38" font-weight="bold" stroke="#000" stroke-width="0.25" fill="#000"><tspan x="0" textLength="63.7" lengthAdjust="spacingAndGlyphs">Inboard</tspan> <tspan x="68.8" textLength="56.3" lengthAdjust="spacingAndGlyphs">VMon2</tspan></text>
<text transform="translate(1193.8 1448) rotate(-90)" y="0" font-size="15.38" font-weight="bold" stroke="#000" stroke-width="0.25" fill="#000"><tspan x="0" textLength="77.7" lengthAdjust="spacingAndGlyphs">Outboard</tspan> <tspan x="82.7" textLength="56.3" lengthAdjust="spacingAndGlyphs">VMon1</tspan></text>
<text transform="translate(1205.4 1448) rotate(-90)" y="0" font-size="15.38" font-weight="bold" stroke="#000" stroke-width="0.25" fill="#000"><tspan x="0" textLength="77.7" lengthAdjust="spacingAndGlyphs">Outboard</tspan> <tspan x="82.7" textLength="56.3" lengthAdjust="spacingAndGlyphs">VMon2</tspan></text>
<rect x="1167" y="1462.5" width="2" height="15.5" fill="#0000ff"/>
<rect x="1179" y="1462.5" width="2" height="15.5" fill="#00ffff"/>
<rect x="1190.8" y="1462.5" width="2" height="15.5" fill="#00ff00"/>
<rect x="1202" y="1462.5" width="2" height="15.5" fill="#ffff00"/>
<text x="41.3" y="1498.6" font-size="15.38" font-weight="bold" stroke="#000" stroke-width="0.25" textLength="45.9" lengthAdjust="spacingAndGlyphs" fill="#000">Time:</text>
<text x="128.7" y="1498.6" font-size="15.38" font-weight="bold" stroke="#000" stroke-width="0.25" textLength="72.5" lengthAdjust="spacingAndGlyphs" fill="#000">12:38:32</text>
<text x="376" y="1498.6" font-size="15.38" font-weight="bold" stroke="#000" stroke-width="0.25" textLength="72.5" lengthAdjust="spacingAndGlyphs" fill="#000">12:42:56</text>
<text x="623.2" y="1498.6" font-size="15.38" font-weight="bold" stroke="#000" stroke-width="0.25" textLength="72.5" lengthAdjust="spacingAndGlyphs" fill="#000">12:47:20</text>
<text x="870.5" y="1498.6" font-size="15.38" font-weight="bold" stroke="#000" stroke-width="0.25" textLength="72.5" lengthAdjust="spacingAndGlyphs" fill="#000">12:51:44</text>
<text x="1117.7" y="1498.6" font-size="15.38" font-weight="bold" stroke="#000" stroke-width="0.25" textLength="72.5" lengthAdjust="spacingAndGlyphs" fill="#000">12:56:08</text>
<text x="41.3" y="1519.6" font-size="15.38" font-weight="bold" stroke="#000" stroke-width="0.25" textLength="75.5" lengthAdjust="spacingAndGlyphs" fill="#000">Rad(km):</text>
<text x="136.9" y="1519.6" font-size="15.38" font-weight="bold" stroke="#000" stroke-width="0.25" textLength="56.3" lengthAdjust="spacingAndGlyphs" fill="#000">7592.9</text>
<text x="384.1" y="1519.6" font-size="15.38" font-weight="bold" stroke="#000" stroke-width="0.25" textLength="56.3" lengthAdjust="spacingAndGlyphs" fill="#000">7639.0</text>
<text x="631.4" y="1519.6" font-size="15.38" font-weight="bold" stroke="#000" stroke-width="0.25" textLength="56.3" lengthAdjust="spacingAndGlyphs" fill="#000">7655.0</text>
<text x="878.6" y="1519.6" font-size="15.38" font-weight="bold" stroke="#000" stroke-width="0.25" textLength="56.3" lengthAdjust="spacingAndGlyphs" fill="#000">7640.1</text>
<text x="1125.9" y="1519.6" font-size="15.38" font-weight="bold" stroke="#000" stroke-width="0.25" textLength="56.3" lengthAdjust="spacingAndGlyphs" fill="#000">7594.8</text>
<text x="41.3" y="1540.6" font-size="15.38" font-weight="bold" stroke="#000" stroke-width="0.25" textLength="31.9" lengthAdjust="spacingAndGlyphs" fill="#000">Lat:</text>
<text x="147" y="1540.6" font-size="15.38" font-weight="bold" stroke="#000" stroke-width="0.25" textLength="36.0" lengthAdjust="spacingAndGlyphs" fill="#000">77.9</text>
<text x="394.3" y="1540.6" font-size="15.38" font-weight="bold" stroke="#000" stroke-width="0.25" textLength="36.0" lengthAdjust="spacingAndGlyphs" fill="#000">79.3</text>
<text x="641.5" y="1540.6" font-size="15.38" font-weight="bold" stroke="#000" stroke-width="0.25" textLength="36.0" lengthAdjust="spacingAndGlyphs" fill="#000">68.5</text>
<text x="888.8" y="1540.6" font-size="15.38" font-weight="bold" stroke="#000" stroke-width="0.25" textLength="36.0" lengthAdjust="spacingAndGlyphs" fill="#000">55.6</text>
<text x="1136" y="1540.6" font-size="15.38" font-weight="bold" stroke="#000" stroke-width="0.25" textLength="36.0" lengthAdjust="spacingAndGlyphs" fill="#000">42.1</text>
<text x="41.3" y="1561.6" font-size="15.38" font-weight="bold" stroke="#000" stroke-width="0.25" textLength="35.5" lengthAdjust="spacingAndGlyphs" fill="#000">Lon:</text>
<text x="141.9" y="1561.6" font-size="15.38" font-weight="bold" stroke="#000" stroke-width="0.25" textLength="46.1" lengthAdjust="spacingAndGlyphs" fill="#000">178.4</text>
<text x="386.2" y="1561.6" font-size="15.38" font-weight="bold" stroke="#000" stroke-width="0.25" textLength="52.2" lengthAdjust="spacingAndGlyphs" fill="#000">-107.6</text>
<text x="638.5" y="1561.6" font-size="15.38" font-weight="bold" stroke="#000" stroke-width="0.25" textLength="42.0" lengthAdjust="spacingAndGlyphs" fill="#000">-75.4</text>
<text x="885.7" y="1561.6" font-size="15.38" font-weight="bold" stroke="#000" stroke-width="0.25" textLength="42.0" lengthAdjust="spacingAndGlyphs" fill="#000">-66.1</text>
<text x="1133" y="1561.6" font-size="15.38" font-weight="bold" stroke="#000" stroke-width="0.25" textLength="42.0" lengthAdjust="spacingAndGlyphs" fill="#000">-62.0</text>
<text x="41.3" y="1582.6" font-size="15.38" font-weight="bold" stroke="#000" stroke-width="0.25" textLength="42.1" lengthAdjust="spacingAndGlyphs" fill="#000">Mlat:</text>
<text x="147" y="1582.6" font-size="15.38" font-weight="bold" stroke="#000" stroke-width="0.25" textLength="36.0" lengthAdjust="spacingAndGlyphs" fill="#000">72.4</text>
<text x="394.3" y="1582.6" font-size="15.38" font-weight="bold" stroke="#000" stroke-width="0.25" textLength="36.0" lengthAdjust="spacingAndGlyphs" fill="#000">83.9</text>
<text x="641.5" y="1582.6" font-size="15.38" font-weight="bold" stroke="#000" stroke-width="0.25" textLength="36.0" lengthAdjust="spacingAndGlyphs" fill="#000">77.9</text>
<text x="888.8" y="1582.6" font-size="15.38" font-weight="bold" stroke="#000" stroke-width="0.25" textLength="36.0" lengthAdjust="spacingAndGlyphs" fill="#000">64.9</text>
<text x="1136" y="1582.6" font-size="15.38" font-weight="bold" stroke="#000" stroke-width="0.25" textLength="36.0" lengthAdjust="spacingAndGlyphs" fill="#000">51.3</text>
<text x="41.3" y="1603.6" font-size="15.38" font-weight="bold" stroke="#000" stroke-width="0.25" textLength="32.3" lengthAdjust="spacingAndGlyphs" fill="#000">Mlt:</text>
<text x="136.9" y="1603.6" font-size="15.38" font-weight="bold" stroke="#000" stroke-width="0.25" textLength="56.3" lengthAdjust="spacingAndGlyphs" fill="#000">22.415</text>
<text x="389.2" y="1603.6" font-size="15.38" font-weight="bold" stroke="#000" stroke-width="0.25" textLength="46.1" lengthAdjust="spacingAndGlyphs" fill="#000">1.362</text>
<text x="636.4" y="1603.6" font-size="15.38" font-weight="bold" stroke="#000" stroke-width="0.25" textLength="46.1" lengthAdjust="spacingAndGlyphs" fill="#000">7.499</text>
<text x="883.7" y="1603.6" font-size="15.38" font-weight="bold" stroke="#000" stroke-width="0.25" textLength="46.1" lengthAdjust="spacingAndGlyphs" fill="#000">8.475</text>
<text x="1130.9" y="1603.6" font-size="15.38" font-weight="bold" stroke="#000" stroke-width="0.25" textLength="46.1" lengthAdjust="spacingAndGlyphs" fill="#000">8.804</text>
<text y="1643.2" font-size="15.38" font-weight="bold" stroke="#000" stroke-width="0.25" fill="#000"><tspan x="24.6" textLength="36.5" lengthAdjust="spacingAndGlyphs">MGF</tspan> <tspan x="66.2" textLength="81.1" lengthAdjust="spacingAndGlyphs">Quicklook</tspan> <tspan x="152.4" textLength="45.0" lengthAdjust="spacingAndGlyphs">using</tspan> <tspan x="202.5" textLength="350.7" lengthAdjust="spacingAndGlyphs">MGF_20190214_123832_125608_v2.1.0.lv2</tspan> <tspan x="558.3" textLength="20.5" lengthAdjust="spacingAndGlyphs">on</tspan> <tspan x="583.9" textLength="99.5" lengthAdjust="spacingAndGlyphs">16-Jun-2024</tspan> <tspan x="688.4" textLength="72.7" lengthAdjust="spacingAndGlyphs">17:54:38</tspan> <tspan x="766.3" textLength="95.3" lengthAdjust="spacingAndGlyphs">(calibration</tspan> <tspan x="866.6" textLength="38.9" lengthAdjust="spacingAndGlyphs">from</tspan> <tspan x="910.6" textLength="328.1" lengthAdjust="spacingAndGlyphs">cas_mgf_7day_cal_2019_02_08_v2.1.mat</tspan> <tspan x="1243.8" textLength="6.7" lengthAdjust="spacingAndGlyphs">)</tspan></text>
<text class="serif" x="446.6" y="71.2" font-size="34.4" textLength="414.4" lengthAdjust="spacingAndGlyphs" fill="#000">e-POP MGF Quicklook Plot</text>
<text class="serif" x="530.4" y="110.9" font-size="34.4" textLength="260.2" lengthAdjust="spacingAndGlyphs" fill="#000">February 14, 2019</text>
<rect x="165" y="623" width="989" height="1.1" fill="#dfdfdf"/>
<rect x="165" y="678.9" width="989" height="1.1" fill="#dfdfdf"/>
<rect x="165" y="734.9" width="989" height="1.1" fill="#dfdfdf"/>
<rect x="246.8" y="601.6" width="1.1" height="160.9" fill="#dfdfdf"/>
<rect x="808.9" y="601.6" width="1.1" height="160.9" fill="#dfdfdf"/>
<path d="M165.5 623.5h10.2M1154.5 623.5h-10.2M165.5 679.4h10.2M1154.5 679.4h-10.2M165.5 735.4h10.2M1154.5 735.4h-10.2M247.4 601.6v10.3M247.4 762.5v-10.3M809.4 601.6v10.3M809.4 762.5v-10.3" stroke="#262626" stroke-width="1.2" fill="none"/>
<rect x="165.5" y="601.6" width="989" height="160.9" fill="none" stroke="#262626" stroke-width="1.2"/>
<text x="122.3" y="630.2" font-size="21.98" textLength="33.1" lengthAdjust="spacingAndGlyphs" fill="#262626">3.4</text>
<text x="122.3" y="686.1" font-size="21.98" textLength="33.1" lengthAdjust="spacingAndGlyphs" fill="#262626">3.2</text>
<text x="142.1" y="742.1" font-size="21.98" textLength="13.3" lengthAdjust="spacingAndGlyphs" fill="#262626">3</text>
<clipPath id="c_tf"><rect x="165" y="601" width="989.6" height="162.3"/></clipPath>
<g clip-path="url(#c_tf)">
<path d="M165 601.7L173.3 602.5L181.6 603.3L189.9 604L198.2 604.7L206.6 605.4L214.9 606.1L223.2 606.8L231.5 607.4L239.8 608L248.1 608.6L256.4 609.2L264.7 609.8L273 610.4L281.4 610.9L289.7 611.5L298 612L306.3 612.6L314.6 613.1L322.9 613.6L331.2 614.2L339.5 614.7L347.8 615.2L356.2 615.7L364.5 616.2L372.8 616.7L381.1 617.3L389.4 617.8L397.7 618.3L406 618.8L414.3 619.4L422.6 619.9L430.9 620.5L439.3 621L447.6 621.6L455.9 622.2L464.2 622.8L472.5 623.4L480.8 624L489.1 624.6L497.4 625.2L505.7 625.9L514.1 626.6L522.4 627.3L530.7 628L539 628.7L547.3 629.4L555.6 630.2L563.9 631L572.2 631.8L580.5 632.6L588.9 633.4L597.2 634.3L605.5 635.2L613.8 636.1L622.1 637L630.4 638L638.7 639L647 640L655.3 641L663.7 642.1L672 643.2L680.3 644.3L688.6 645.5L696.9 646.6L705.2 647.9L713.5 649.1L721.8 650.4L730.1 651.6L738.5 653L746.8 654.3L755.1 655.7L763.4 657.1L771.7 658.6L780 660.1L788.3 661.6L796.6 663.1L804.9 664.7L813.3 666.3L821.6 668L829.9 669.7L838.2 671.4L846.5 673.1L854.8 674.9L863.1 676.7L871.4 678.6L879.7 680.5L888.1 682.4L896.4 684.4L904.7 686.4L913 688.4L921.3 690.5L929.6 692.6L937.9 694.7L946.2 696.9L954.5 699.1L962.8 701.3L971.2 703.6L979.5 705.9L987.8 708.3L996.1 710.6L1004.4 713.1L1012.7 715.5L1021 718L1029.3 720.5L1037.6 723.1L1046 725.7L1054.3 728.3L1062.6 731L1070.9 733.7L1079.2 736.4L1087.5 739.1L1095.8 741.9L1104.1 744.8L1112.4 747.6L1120.8 750.5L1129.1 753.5L1137.4 756.4L1145.7 759.4L1154 762.4" fill="none" stroke="#0000ff" stroke-width="1.5" stroke-linejoin="round" transform="translate(0 -0.35)"/>
<path d="M165 601.7L173.3 602.5L181.6 603.3L189.9 604L198.2 604.7L206.6 605.4L214.9 606.1L223.2 606.8L231.5 607.4L239.8 608L248.1 608.6L256.4 609.2L264.7 609.8L273 610.4L281.4 610.9L289.7 611.5L298 612L306.3 612.6L314.6 613.1L322.9 613.6L331.2 614.2L339.5 614.7L347.8 615.2L356.2 615.7L364.5 616.2L372.8 616.7L381.1 617.3L389.4 617.8L397.7 618.3L406 618.8L414.3 619.4L422.6 619.9L430.9 620.5L439.3 621L447.6 621.6L455.9 622.2L464.2 622.8L472.5 623.4L480.8 624L489.1 624.6L497.4 625.2L505.7 625.9L514.1 626.6L522.4 627.3L530.7 628L539 628.7L547.3 629.4L555.6 630.2L563.9 631L572.2 631.8L580.5 632.6L588.9 633.4L597.2 634.3L605.5 635.2L613.8 636.1L622.1 637L630.4 638L638.7 639L647 640L655.3 641L663.7 642.1L672 643.2L680.3 644.3L688.6 645.5L696.9 646.6L705.2 647.9L713.5 649.1L721.8 650.4L730.1 651.6L738.5 653L746.8 654.3L755.1 655.7L763.4 657.1L771.7 658.6L780 660.1L788.3 661.6L796.6 663.1L804.9 664.7L813.3 666.3L821.6 668L829.9 669.7L838.2 671.4L846.5 673.1L854.8 674.9L863.1 676.7L871.4 678.6L879.7 680.5L888.1 682.4L896.4 684.4L904.7 686.4L913 688.4L921.3 690.5L929.6 692.6L937.9 694.7L946.2 696.9L954.5 699.1L962.8 701.3L971.2 703.6L979.5 705.9L987.8 708.3L996.1 710.6L1004.4 713.1L1012.7 715.5L1021 718L1029.3 720.5L1037.6 723.1L1046 725.7L1054.3 728.3L1062.6 731L1070.9 733.7L1079.2 736.4L1087.5 739.1L1095.8 741.9L1104.1 744.8L1112.4 747.6L1120.8 750.5L1129.1 753.5L1137.4 756.4L1145.7 759.4L1154 762.4" fill="none" stroke="#00ff00" stroke-width="1.5" stroke-linejoin="round" transform="translate(0 -0.15)"/>
<path d="M165 601.7L173.3 602.5L181.6 603.3L189.9 604L198.2 604.7L206.6 605.4L214.9 606.1L223.2 606.8L231.5 607.4L239.8 608L248.1 608.6L256.4 609.2L264.7 609.8L273 610.4L281.4 610.9L289.7 611.5L298 612L306.3 612.6L314.6 613.1L322.9 613.6L331.2 614.2L339.5 614.7L347.8 615.2L356.2 615.7L364.5 616.2L372.8 616.7L381.1 617.3L389.4 617.8L397.7 618.3L406 618.8L414.3 619.4L422.6 619.9L430.9 620.5L439.3 621L447.6 621.6L455.9 622.2L464.2 622.8L472.5 623.4L480.8 624L489.1 624.6L497.4 625.2L505.7 625.9L514.1 626.6L522.4 627.3L530.7 628L539 628.7L547.3 629.4L555.6 630.2L563.9 631L572.2 631.8L580.5 632.6L588.9 633.4L597.2 634.3L605.5 635.2L613.8 636.1L622.1 637L630.4 638L638.7 639L647 640L655.3 641L663.7 642.1L672 643.2L680.3 644.3L688.6 645.5L696.9 646.6L705.2 647.9L713.5 649.1L721.8 650.4L730.1 651.6L738.5 653L746.8 654.3L755.1 655.7L763.4 657.1L771.7 658.6L780 660.1L788.3 661.6L796.6 663.1L804.9 664.7L813.3 666.3L821.6 668L829.9 669.7L838.2 671.4L846.5 673.1L854.8 674.9L863.1 676.7L871.4 678.6L879.7 680.5L888.1 682.4L896.4 684.4L904.7 686.4L913 688.4L921.3 690.5L929.6 692.6L937.9 694.7L946.2 696.9L954.5 699.1L962.8 701.3L971.2 703.6L979.5 705.9L987.8 708.3L996.1 710.6L1004.4 713.1L1012.7 715.5L1021 718L1029.3 720.5L1037.6 723.1L1046 725.7L1054.3 728.3L1062.6 731L1070.9 733.7L1079.2 736.4L1087.5 739.1L1095.8 741.9L1104.1 744.8L1112.4 747.6L1120.8 750.5L1129.1 753.5L1137.4 756.4L1145.7 759.4L1154 762.4" fill="none" stroke="#ff0000" stroke-width="1.5" stroke-linejoin="round" stroke-opacity="0.75" transform="translate(0 0.15)"/>
</g>
<rect x="165" y="841" width="989" height="1.1" fill="#dfdfdf"/>
<rect x="165" y="893.5" width="989" height="1.1" fill="#dfdfdf"/>
<rect x="165" y="946" width="989" height="1.1" fill="#dfdfdf"/>
<rect x="246.8" y="835.5" width="1.1" height="163.8" fill="#dfdfdf"/>
<rect x="808.9" y="835.5" width="1.1" height="163.8" fill="#dfdfdf"/>
<path d="M165.5 841.5h10.2M1154.5 841.5h-10.2M165.5 894h10.2M1154.5 894h-10.2M165.5 946.5h10.2M1154.5 946.5h-10.2M247.4 835.5v10.3M247.4 999.3v-10.3M809.4 835.5v10.3M809.4 999.3v-10.3" stroke="#262626" stroke-width="1.2" fill="none"/>
<rect x="165.5" y="835.5" width="989" height="163.8" fill="none" stroke="#262626" stroke-width="1.2"/>
<text x="128.9" y="848.2" font-size="21.98" textLength="26.5" lengthAdjust="spacingAndGlyphs" fill="#262626">10</text>
<text x="142.1" y="900.7" font-size="21.98" textLength="13.3" lengthAdjust="spacingAndGlyphs" fill="#262626">0</text>
<text x="121.4" y="953.2" font-size="21.98" textLength="34.0" lengthAdjust="spacingAndGlyphs" fill="#262626">-10</text>
<text x="121.4" y="1006" font-size="21.98" textLength="34.0" lengthAdjust="spacingAndGlyphs" fill="#262626">-20</text>
<clipPath id="c_mm"><rect x="165" y="834.9" width="989.6" height="165.2"/></clipPath>
<g clip-path="url(#c_mm)">
<path d="M165 978.5L165.2 896.4L165.8 967.4L166 897.7L166 897.7L166.2 987.5L166.5 972.2L166.7 884.3L167.1 885.9L167.3 973.5L167.6 978.3L167.8 892.3L168.2 894.6L168.4 975.4L168.6 904.1L168.8 980.5L169.3 900.3L169.5 973.1L169.7 893.1L169.9 978.9L170.2 981L170.4 891.7L170.6 974.6L170.8 900.5L171.2 893.7L171.3 969L171.8 972.5L171.9 883.2L172.1 968.7L172.3 893.8L172.6 897.1L172.8 988.8L173.2 970.5L173.4 902.6L173.8 893.5L174 972.1L174.3 975.6L174.5 897.3L174.7 976.8L174.9 886.7L175.2 904.5L175.4 978.8L175.8 963.2L176 890.2L176 892.1L176.2 975.7L176.5 975.4L176.7 897.6L177 898.1L177.2 966.9L177.6 985.1L177.8 897.8L178.2 895.1L178.4 985.5L178.5 899.6L178.8 987.7L179.3 896.3L179.5 982.8L179.5 982.8L179.7 899.5L180.2 967.2L180.4 895.3L180.6 984.7L180.8 895.8L181.1 892.5L181.3 974.1L181.7 972.3L181.9 893L182.1 973.5L182.2 912.7L182.6 888.5L182.8 975.9L183 891.8L183.2 974.9L183.5 985.1L183.8 901.9L184.1 897.3L184.3 975.1L184.5 899.6L184.7 974.7L185 977.7L185.2 898.5L185.8 976.5L186 892.7L186.3 893.4L186.5 967.6L186.7 888.6L186.9 974.7L187.2 980.1L187.4 892.7L187.6 970.4L187.8 885.3L188.4 972.9L188.5 898.7L188.7 967.9L188.9 889L189.3 898.6L189.5 979.9L189.8 979.8L190 900.5L190 890.5L190.2 964.2L190.6 976.9L190.8 907.1L191.3 970L191.5 892.1L191.5 892.1L191.7 975.4L192.1 981.4L192.2 883.2L192.6 889.1L192.8 980.1L193 908.5L193.2 979L193.5 971.8L193.7 895L194.1 889.9L194.3 987.8L194.6 978.5L194.8 903.5L195.2 899.2L195.4 985.1L195.6 894.1L195.8 985.5L196.3 895.1L196.5 971.1L196.5 971.1L196.7 902.6L197.1 887.7L197.2 976.6L197.8 900.5L198 979.8L198 978.5L198.5 891.1L198.5 891.1L198.7 965L199.2 906.6L199.5 979.1L199.7 897.1L199.8 976.7L200.2 969.2L200.4 878.8L200.6 983.4L200.8 902L201.1 891.7L201.3 975.7L201.5 896.7L201.7 969.9L202 983.3L202.2 903.9L202.6 896.4L202.8 978L203.2 971.5L203.3 900.4L203.5 963.9L203.7 894.2L204.2 995L204.4 899.4L204.6 982.8L204.8 896.9L205.2 895.2L205.4 978.4L205.6 896.8L205.8 984L206.1 981.5L206.3 900.2L206.7 895.6L206.9 984.9L207 883.1L207.2 978.7L207.8 889.3L208 982.1L208 978.4L208.1 889.5L208.7 971.8L208.9 889.7L209.1 984.1L209.2 897.4L209.8 978.3L210 903.1L210 903.1L210.2 967.8L210.8 897.3L210.9 983.5L211.3 970.8L211.5 884.1L211.5 884.1L211.7 978.9L212 980.1L212.2 897.9L212.8 974.8L213 890.9L213.3 897.9L213.5 969.5L213.7 892.5L213.9 971.5L214.2 968.2L214.5 891.1L214.8 893L215 978.4L215 978.3L215.2 894.5L215.8 967.6L215.9 892.2L216.1 979L216.3 880.3L216.7 895.9L216.8 964.6L217 883.9L217.2 975.3L217.6 976.9L217.8 904.9L218.3 969.2L218.5 896.9L218.5 896.9L218.7 971.6L219.1 982.1L219.3 903.2L219.8 968.9L220 885.8L220 891L220.2 975.9L220.5 978L220.8 898.9L221.1 888.9L221.3 970.5L221.5 900.5L222 973.5L222 973.5L222.2 893.9L222.6 899.3L222.8 971.8L223.1 978.7L223.3 895.2L223.7 896.4L223.9 969.6L224.1 906.8L224.2 970.5L224.6 979.4L224.8 903.5L225 977.3L225.2 890.4L225.7 980.6L225.9 896.4L226.1 967.4L226.3 893.3L226.8 971L227 892.9L227 892.9L227.2 981.6L227.5 976.6L227.8 895.1L228.1 892.8L228.3 969.5L228.5 894.6L228.7 973.5L229.2 895.2L229.4 968.9L229.8 962.8L230 899.2L230 899.2L230.2 984.1L230.5 980.6L230.7 893.4L231.3 965.5L231.5 886.3L231.7 978.1L231.9 898.4L232 967.1L232.2 879L232.5 893.1L232.8 976.1L233.1 986.1L233.3 898.1L233.5 968.8L233.7 884.7L234 897.1L234.2 962.6L234.8 891.1L235 972.1L235 972.1L235.2 893.8L235.7 976.9L235.9 898.5L236.3 879.6L236.5 966L236.8 983.7L237 896.6L237.2 984.6L237.4 885.1L237.8 893.6L237.9 971.8L238.3 971.6L238.5 895.8L238.7 986.9L238.9 886.3L239.1 970.2L239.2 885.9L239.6 889.8L239.8 972.3L240.1 973.3L240.3 899.9L240.7 890.2L240.9 975.8L241.1 895.2L241.3 976L241.7 989.1L241.8 901.4L242 969L242.2 891.6L242.6 899.5L242.8 967.6L243.1 979.5L243.3 906.1L243.7 895.7L243.9 975L244 893.6L244.2 971.6L244.6 980.6L244.8 893.4L245.2 894.9L245.3 967L245.5 891.3L245.7 979.8L246.1 978.6L246.3 895.6L246.6 891.7L246.8 967.5L247 897.1L247.2 972.1L247.8 887.5L247.9 985.4L248.1 881.6L248.3 965.7L248.5 900.1L248.7 979.9L249 983.3L249.2 896.6L249.6 890.2L249.8 975.4L250 897.3L250.5 975.4L250.5 975.4L250.7 893.2L251.3 966.2L251.4 893L251.6 976.1L251.8 904.2L252 973.6L252.2 901.5L252.5 890.3L252.8 964.6L253.3 900.8L253.5 977L253.5 977L254 895.6L254 889.8L254.2 966.6L254.6 979.2L254.8 891.7L255.1 898.2L255.3 975.4L255.7 971.6L255.9 902.4L256.2 896.7L256.4 976.6L256.8 972.1L257 898.9L257.4 891.1L257.5 964.6L257.5 979.9L257.8 900.6L258.1 888.1L258.3 971.9L258.7 967.3L258.8 886.9L259.2 885.7L259.4 983.8L259.8 967.6L260 895.5L260.1 973.9L260.3 890.8L260.5 973.7L260.7 892.2L261.2 989L261.5 893.6L261.6 971.4L261.8 900.9L262.2 892.4L262.4 983.2L262.7 982.8L262.9 898.5L263 961.2L263.3 884.3L263.6 899.5L263.8 981.5L264.2 981.8L264.4 892.7L264.8 887.6L265 971.9L265.1 897.5L265.3 972.6L265.5 898.3L265.7 974.5L266.2 896.4L266.5 971.9L266.6 884.8L266.8 962.6L267.2 980L267.3 886.4L267.5 974.8L267.7 896.3L268.1 891L268.3 968.3L268.7 973.9L268.8 897.6L269.2 898.4L269.4 972.2L269.6 894L269.8 969.4L270.3 910.5L270.5 974.9L270.5 977.8L270.7 885L271 888.1L271.2 964.8L271.6 981.3L271.8 907.3L272 981.2L272.5 903.1L272.5 899.5L272.8 959.1L273.3 898.1L273.5 975.9L273.5 971.1L274 899.6L274.2 966.3L274.4 882.8L274.6 977L274.8 893.4L275.3 968L275.5 896.5L275.5 896.5L275.7 966L276.2 897.9L276.4 980.1L276.6 891.9L276.8 980.3L277.2 970.4L277.3 884.8L277.7 896.9L277.9 975.3L278.1 893.7L278.2 976.2L278.6 975.7L278.8 901.1L279.2 893.1L279.4 967.8L279.8 969.1L279.9 894.4L280.1 984.6L280.3 907.6L280.5 974.4L280.7 893.7L281 898L281.2 969.7L281.8 895.7L282 973.8L282 965.9L282.5 903.3L282.7 974L282.9 895.9L283.3 902.6L283.5 984.6L283.6 894.4L283.8 975.2L284.2 973.3L284.4 890.8L284.7 899.8L284.9 971.3L285.3 984.6L285.5 893L285.5 893L285.7 976.2L286.2 891.4L286.4 972L286.6 884.3L286.8 972.8L287.3 889.8L287.5 971.9L287.5 971.9L287.7 883.7L288.1 885.5L288.2 969.1L288.8 895.4L289 977.2L289 977.2L289.2 899L289.8 969.8L289.9 893L290.1 982.7L290.3 902.1L290.5 975.9L290.7 894.8L291.2 969.6L291.4 890.6L291.8 902.3L292 970.1L292.1 889.6L292.3 979.2L292.5 890.6L292.7 976.4L293.1 969.1L293.2 900.1L293.8 986.8L294 885.3L294 885.3L294.2 969.5L294.8 898.4L294.9 975.7L295.1 882.6L295.3 984.5L295.5 897.7L295.7 975.7L296.2 890.4L296.4 965.3L296.6 905.5L296.8 970L297.3 896.8L297.5 978.1L297.5 978.1L297.7 892.7L298 868.3L298.2 977.3L298.6 974.1L298.8 892.3L299.3 971.9L299.5 901.7L299.5 885.3L299.7 969.6L300.3 900L300.5 977.5L300.5 977.5L300.7 899.2L301 897L301.2 970.7L301.8 888.8L302 973.5L302.3 972.2L302.5 899.4L302.7 971.2L302.9 899.3L303.2 896L303.4 971.1L303.8 971.6L304 883.8L304 883.8L304.5 973.9L304.5 977.9L304.7 888.4L305.3 972.3L305.5 896L305.6 977L305.8 899.5L306.2 897.2L306.4 970L306.5 882.5L306.8 972.1L307.3 906.6L307.5 974.4L307.5 974.4L307.7 896.9L308.2 973.7L308.4 885.3L308.6 975.8L308.8 893.9L309.2 897.9L309.4 980.2L309.5 889.9L309.7 968.1L310.3 895L310.5 977.4L310.8 968.2L311 888.2L311 888.2L311.2 980.2L311.6 970.9L311.8 880.6L312.3 971.5L312.5 894.8L312.5 894.8L312.7 970.9L313 975.3L313.2 900.3L313.6 895.3L313.8 956.7L314 904.7L314.2 974.2L314.5 984.1L314.7 891.9L315.3 979.7L315.5 883.2L315.8 885.9L316 969.5L316.2 899.8L316.4 974.8L316.8 979.3L317 901.6L317.1 964.8L317.3 891.5L317.7 896.7L317.9 975.8L318.2 980.4L318.4 897.6L318.6 974.3L318.8 890.8L319 962.3L319.5 893.7L319.7 965.6L319.9 890.4L320.1 974.4L320.3 901.3L320.8 961.3L321 887.4L321 887.4L321.2 965.9L321.7 895.7L321.9 981.5L322.3 964.3L322.5 896.5L322.7 961L322.8 895.4L323.2 885.2L323.4 975.4L323.8 973.5L324 895L324.3 889.8L324.5 969L324.5 971.8L324.7 893.8L325.2 969L325.4 895.6L325.8 893.9L326 977.7L326 977.7L326.2 890.1L326.5 891.5L326.8 968.3L327.3 898.9L327.5 981.2L327.5 976.6L328 891.6L328 888.9L328.2 968.7L328.6 972.4L328.8 893.5L329.1 885.5L329.3 975.2L329.7 973.3L329.9 887.6L330.2 888.4L330.5 971.4L330.8 966.6L331 892.8L331.2 973.6L331.4 891.7L331.5 966.2L331.7 886.1L332.1 884.7L332.3 963.6L332.5 905.3L333 972.1L333 977.1L333.2 905L333.6 878.9L333.8 957.5L334.3 886.3L334.5 973.8L334.7 910.4L334.9 978.4L335.2 970.3L335.5 891.8L335.8 884.1L336 976.4L336 976.4L336.2 886.8L336.7 977L336.9 899.3L337.1 986.8L337.3 887.9L337.7 873.2L337.8 970.1L338.2 969.8L338.4 893.8L338.6 974L338.8 903.6L339.3 972.1L339.5 899.5L339.7 967.1L339.9 879.7L340.1 980.2L340.2 887.8L340.8 973.9L341 893.1L341.2 973.7L341.4 891L341.5 974.3L341.7 895.7L342.3 982.8L342.5 890.1L342.7 974.1L342.9 892.8L343.2 886.2L343.4 973.8L343.8 969.1L344 897.5L344.3 902.5L344.5 968.6L344.7 895.7L344.9 976L345.2 958.7L345.4 888.3L345.8 893.9L346 986.4L346 974.9L346.2 892.6L346.8 964.4L346.9 892.4L347.1 980.3L347.3 890.5L347.5 955.2L347.7 890.6L348.2 979.7L348.4 895L348.8 896.5L348.9 984.3L349.1 893.2L349.3 958L349.7 961.8L349.8 892L350 976.7L350.2 891.9L350.8 960.1L351 896.9L351.3 892.3L351.5 970.1L351.5 970.8L351.7 892.6L352.1 895L352.2 978L352.7 984.6L352.8 885.5L353 963.6L353.2 889.9L353.6 894.8L353.8 962.4L354.3 904.7L354.5 979.5L354.5 979.5L354.7 890.5L355 876.9L355.2 964.7L355.8 896.9L356 969.4L356.2 908.7L356.3 981.6L356.7 969.6L356.9 891.4L357.2 878.8L357.5 976L357.5 976L357.6 886.3L358.2 972.8L358.4 887.2L358.8 894.5L359 978.5L359.1 881.2L359.3 960.3L359.8 881.3L360 967.6L360 969.1L360.2 903.4L360.6 887.1L360.8 965.4L361.3 887.5L361.5 974.4L361.7 894.1L361.9 975L362.2 979.3L362.4 882.6L362.6 969.7L362.9 890.9L363 963.9L363.2 882.5L363.5 879L363.8 974.8L364.3 894.3L364.5 975.2L364.5 975.2L365 884L365 878.9L365.2 965.6L365.8 891.8L366 968.7L366.3 972L366.5 898.5L366.7 972.9L366.9 886.8L367.2 885.3L367.4 968.7L367.6 875.6L367.8 965.3L368 896.9L368.2 979.5L368.5 972.7L368.7 896.7L369.3 968.5L369.5 880.4L369.5 884.3L369.7 976L370.2 902.7L370.4 977.9L370.8 972.5L371 895.4L371.1 967.5L371.3 884L371.5 960.8L371.7 892.9L372.2 972.8L372.5 891.7L372.6 983.2L372.8 891.4L373.2 885.5L373.3 986.3L373.5 876.1L373.7 960.8L374.1 977.3L374.3 893.6L374.5 969.3L374.7 895L375.2 970.6L375.4 882.3L375.8 880.7L375.9 976.4L376.3 983.9L376.5 894.4L376.5 894.4L376.7 980.4L377.2 894.4L377.4 980.1L377.6 884.8L377.8 960.6L378 886.6L378.5 978.7L378.5 978.7L378.7 886.1L379.2 981.3L379.5 887.1L379.8 893.2L380 969.9L380 972.7L380.2 890.9L380.6 896.9L380.8 973.8L381.3 897.2L381.5 987.6L381.5 987.6L381.7 886.9L382.2 960.7L382.4 885.8L382.8 902.5L383 975L383 975L383.2 892.9L383.7 969.2L383.9 893.8L384.1 962.7L384.3 878.7L384.8 969.3L385 896.2L385.2 967.6L385.4 889.2L385.5 961.7L385.8 880.7L386.1 881.8L386.3 963.4L386.7 985L386.9 890.2L387 972.8L387.2 896.1L387.8 965L388 886.2L388.3 880.4L388.5 966.1L388.5 967.2L388.7 888L389.1 883.3L389.2 980.4L389.8 893.2L390 976.5L390 976.5L390.2 891.5L390.8 966.9L390.9 885.9L391.3 905.6L391.5 969.2L391.7 894.4L391.8 972.3L392 895.2L392.2 960.9L392.8 882.5L393 967.2L393.2 871.8L393.3 961L393.7 981.7L393.9 896L394 987.8L394.2 894.5L394.8 966.8L395 885.5L395 885.5L395.2 976.2L395.8 895L395.9 981.8L396.1 894.5L396.3 969.3L396.7 972.7L396.8 889.6L397.2 886.1L397.4 963.4L397.8 980L398 893L398.2 976.9L398.3 892.9L398.5 972.9L398.7 895L399.1 885.1L399.3 971.8L399.8 894.8L400 975.2L400 975.2L400.2 895.6L400.8 968L400.9 886.7L401.1 973.3L401.3 873.7L401.5 968.1L401.7 882.8L402.2 981.6L402.4 878.3L402.8 899.5L403 976.2L403.3 983.3L403.5 886.2L403.7 979.6L403.9 877.6L404.3 884.3L404.5 965.9L404.8 989.5L405 891.9L405.2 986.2L405.4 889.4L405.5 969.1L405.8 884.2L406.1 882.7L406.2 961.6L406.7 970.7L406.8 883.9L407 969.6L407.2 888.7L407.6 886.9L407.8 969.3L408.1 963.6L408.3 893.2L408.7 889.6L408.9 968.6L409.1 877.5L409.2 964.1L409.8 882.9L410 981.6L410 981.6L410.2 905.1L410.8 958L410.9 890.7L411.3 895.9L411.5 971.6L411.5 963.5L411.7 880.7L412.2 972.1L412.4 887.7L412.6 990.8L412.8 900.5L413.2 896.7L413.3 973.4L413.7 971.4L413.9 892.7L414.1 962.5L414.2 894L414.6 882.8L414.8 963L415.2 973.6L415.4 895.1L415.7 899.2L415.9 977.9L416.3 975.5L416.5 888.8L416.7 975.2L416.8 891.4L417 967.3L417.2 888.6L417.8 966.6L418 881.9L418.3 893L418.5 972.8L418.7 890.8L418.9 978.6L419 888L419.2 973.8L419.8 914.2L420 973.8L420 973.8L420.5 889.5L420.5 878.7L420.7 958.4L421.2 887.2L421.5 973.7L421.7 877.7L421.8 963.5L422.2 967.3L422.4 898.2L422.8 901L422.9 974.9L423.3 974.3L423.5 887.1L423.7 957.2L423.8 885.9L424.2 874.8L424.4 958.7L424.8 951.3L425 879.9L425 879.9L425.2 971.2L425.7 892.9L425.9 987.6L426.1 890.2L426.2 977.8L426.8 893.7L427 966.3L427 966.3L427.2 898.2L427.8 955.9L428 882.7L428.1 961.8L428.2 891.7L428.7 873.7L428.9 971L429.2 963.6L429.4 884.1L429.6 971.6L429.8 896.7L430.3 973.1L430.5 897.7L430.5 893L430.7 965.7L431.1 972.3L431.2 892.9L431.7 874.8L431.8 959.8L432.2 961.9L432.4 886.8L432.5 966.9L432.8 888.6L433.1 897.1L433.3 979.6L433.7 986.2L433.8 894.3L434.2 893L434.4 976.7L434.8 967.9L435 883.5L435.4 892L435.5 955.1L435.7 886.8L435.9 963.1L436.1 882.3L436.2 970.4L436.7 973.3L436.8 893.2L437.2 895L437.4 974L437.6 893.2L437.8 976.4L438.3 895.2L438.5 977.1L438.5 969.6L438.7 891.4L439 885.8L439.2 964.3L439.6 960.9L439.8 871.7L440.2 880.1L440.3 963.8L440.7 966.4L440.9 888.9L441.2 895.8L441.5 980L441.8 966.1L442 885.4L442 885.4L442.2 973.4L442.5 975.6L442.8 878.7L443.3 966.5L443.5 887.2L443.7 969.3L443.8 884.8L444 975.1L444.2 902L444.6 884.9L444.8 957.9L445 892.4L445.5 969L445.5 971.3L445.7 894.3L446.2 968.3L446.4 888.4L446.6 979.2L446.8 891.5L447.2 899.9L447.3 976.3L447.8 964.5L447.9 893.4L448.1 961.9L448.3 888.7L448.5 958L449 880.5L449 879.2L449.2 967.8L449.8 884.5L450 958L450.1 873.1L450.3 966.4L450.7 972.3L450.9 893.1L451.1 977.5L451.2 898.8L451.8 966.3L452 897.3L452.2 965.4L452.3 895.1L452.7 904.8L452.9 972.1L453.3 956.9L453.5 877.8L453.7 967.7L453.8 881.1L454.2 888.4L454.4 958.6L454.8 968L454.9 876.2L455.2 983.5L455.3 893.2L455.7 893.6L455.9 969.6L456 888.5L456.2 971.7L456.8 893.8L457 977.6L457 976.3L457.2 898.4L457.5 901.4L457.7 961.1L458.2 890.9L458.5 972.1L458.7 878.2L458.8 966.2L459.2 952.4L459.4 879L459.5 967.8L459.8 871.9L460.3 950.4L460.5 880.2L460.5 880.2L460.7 965L461.2 889.9L461.5 968.9L461.8 976.1L462 898.3L462.2 987L462.3 898.3L462.5 974.2L462.7 894.3L463.1 887.5L463.2 974.2L463.8 887.1L464 964.4L464 964.4L464.2 884.1L464.5 886.9L464.8 964.3L465.3 883.9L465.5 968.9L465.5 968.9L465.7 871.2L466 883.4L466.2 963.7L466.6 964.7L466.8 892.8L467.3 964.5L467.5 891.9L467.5 891.9L467.7 979.1L468.1 973.5L468.2 884.4L468.8 981.4L469 890.6L469.2 962.3L469.4 875.6L469.6 963.6L469.8 888.8L470.3 958.7L470.5 882.9L470.7 953.7L470.8 879.1L471.2 880.3L471.4 955.1L471.8 962.2L472 881.7L472 882.1L472.2 968.5L472.7 884.4L472.9 970.6L473.1 890.5L473.2 970.9L473.8 895.2L474 974.1L474.2 899.2L474.4 975.4L474.5 895L474.8 969.2L475.1 964.2L475.3 893L475.8 963.4L476 885.1L476 882.1L476.2 963.3L476.8 866.7L477 956.6L477.1 871.6L477.3 960.9L477.5 875.6L477.7 956.8L478.2 872.1L478.5 961.1L478.8 957.2L479 887L479 887L479.2 970L479.8 895L479.9 979.5L480.1 881.1L480.3 974.8L480.7 977.2L480.8 892.2L481.2 889.3L481.4 985.3L481.8 965.6L482 886.4L482.3 879.2L482.5 966.3L482.5 966.3L482.7 882.9L483.2 959.2L483.4 877.6L483.8 875.5L484 956.4L484 956.4L484.2 875.8L484.5 884L484.8 957L485.3 884.7L485.5 958.2L485.7 884.2L485.8 962.4L486 892.6L486.2 980.8L486.8 881.3L486.9 971.6L487.3 971.8L487.5 894.6L487.7 972L487.9 878.9L488 969.7L488.2 901.6L488.6 888.5L488.8 961.3L489.2 958.7L489.4 884.3L489.8 879.6L489.9 962.8L490.3 966.6L490.5 878.6L490.7 953.9L490.8 880.6L491.2 879.6L491.4 963.2L491.8 954.9L492 876.2L492.3 877.5L492.5 967.6L492.7 880.1L492.9 968.2L493 886.9L493.2 965.8L493.8 897.2L494 968.2L494.2 892.1L494.3 978.3L494.7 963.3L494.9 890.6L495.1 971L495.3 890.3L495.8 967.2L496 882.6L496.2 965.1L496.4 872.8L496.8 874.5L497 961.8L497.3 961.7L497.5 871.4L497.7 939L497.9 866.9L498 953.9L498.2 876.6L498.6 876.7L498.8 956.4L499.3 871.5L499.5 950.2L499.5 953L499.7 871.6L500.3 964.3L500.5 884.5L500.5 895.6L501 969.2L501 969.2L501.2 883.1L501.8 969.5L501.9 881.7L502.3 887.4L502.5 970.5L502.7 880.5L502.8 974.6L503.2 958.9L503.4 883.4L503.6 971L503.8 885.4L504.2 872.6L504.4 964.2L504.7 958.2L504.9 878.1L505.1 955.4L505.2 871.2L505.8 962.5L506 873.8L506.2 949.1L506.4 869.9L506.8 872.5L506.9 949.6L507.3 957.2L507.5 877L507.7 961.7L507.8 873.1L508.2 882.3L508.4 965.4L508.8 960.8L509 883.5L509.3 890.6L509.5 969.5L509.5 969.5L509.7 890.1L510 892.7L510.2 965.5L510.6 970L510.8 890.3L511 969.6L511.2 890.1L511.8 972.4L511.9 883.5L512.1 968.8L512.3 872.4L512.5 963L512.7 882.7L513 877.4L513.2 949.8L513.6 956.6L513.8 859.4L514 950.9L514.5 873.1L514.7 943.4L514.9 870.3L515 952.1L515.2 865.6L515.6 876.6L515.8 955.8L516.2 955L516.4 869.6L516.8 881L516.9 958.5L517.3 964.9L517.5 885.1L517.8 887.3L518 964.6L518 964.6L518.2 884.9L518.6 889.3L518.8 975.5L519.3 891.5L519.5 969.6L519.7 889.4L519.9 972.8L520.2 975.6L520.4 891.7L520.8 892.4L521 956.4L521.2 884L521.4 970.3L521.8 956.3L521.9 878.4L522.1 952.4L522.3 868.7L522.7 861.6L522.9 942.7L523.2 954.7L523.4 865.8L523.6 948.4L523.8 867L524.3 937.6L524.5 868.6L524.5 868.6L524.7 949.4L525.2 863.7L525.4 952.4L525.6 873.9L525.8 951.7L526 880.5L526.5 955.5L526.7 875.2L526.9 966.1L527.1 885.6L527.3 969.6L527.7 967.4L527.8 895L528.2 893.8L528.4 969.8L528.6 887L528.8 960.7L529.1 972.3L529.3 883.6L529.7 891.2L529.9 969.3L530 882.1L530.2 965.7L530.6 964.5L530.8 885.8L531.3 952.1L531.5 873.4L531.5 860.4L531.7 950.5L532.2 871L532.5 950.4L532.5 949.1L533 861.2L533 861.2L533.2 941.8L533.8 867.1L534 946.4L534.3 944.7L534.5 862.4L534.7 945.9L534.9 862L535 952.8L535.2 870.7L535.8 948.8L536 871.5L536 874.1L536.5 954.6L536.7 877.3L536.9 961.5L537.1 878.8L537.2 957.1L537.8 887L538 964.9L538.2 891.6L538.4 967.7L538.6 886.8L538.8 971.7L539.1 968.1L539.3 892L539.7 886.5L539.9 968.5L540.2 957.4L540.4 882.2L540.8 884.3L541 961.8L541 954.7L541.2 878.1L541.7 945.7L541.9 872.1L542.1 950.7L542.2 862.9L542.8 938.8L543 863.5L543 863.5L543.2 943.7L543.6 939L543.8 853.9L544.1 862.5L544.3 936.5L544.5 866L544.7 938.4L545.2 863.6L545.4 942.5L545.6 861.7L545.8 942.8L546.3 871.1L546.5 950.4L546.7 879.3L546.9 952.4L547.1 871.8L547.2 954.4L547.6 960.4L547.8 875.5L548.2 883.3L548.4 960.9L548.8 964.5L548.9 879.5L549.3 888.9L549.5 969.1L549.7 888.2L549.9 969.7L550 883.7L550.2 966L550.8 882.2L551 977.8L551 961.3L551.2 881.5L551.7 956.6L551.9 879.5L552.1 951.9L552.2 869.2L552.8 949.3L553 864.1L553 864.1L553.2 949.5L553.8 868.8L553.9 946.1L554.1 862.2L554.3 942L554.7 943.4L554.8 858.3L555.2 864.3L555.4 943.2L555.6 856.5L555.8 937.9L556.3 854.4L556.5 935.6L556.7 862L556.9 939.7L557.2 941.9L557.5 856.8L557.8 865.1L558 952L558 952L558.2 872.2L558.5 871.9L558.7 949.6L559.3 873.8L559.5 952.6L559.5 952.2L560 878.5L560 878.5L560.2 965.9L560.8 882L561 964L561.3 971.9L561.5 883.3L561.5 883.3L561.7 962.9L562 967.4L562.2 879L562.6 881.6L562.8 970.6L563 884.6L563.2 963L563.7 881.9L563.9 960.3L564.3 962.1L564.5 879.7L564.7 954.5L564.8 869.3L565 952.6L565.2 864.6L565.8 945.7L566 866.9L566.1 941.3L566.3 863.4L566.7 860.1L566.9 947.3L567 856.3L567.2 940.5L567.6 931.2L567.8 853.7L568.2 855.6L568.3 936L568.5 850.9L568.7 933.5L569.2 859.9L569.5 932.8L569.8 935.7L570 854.3L570 854.3L570.2 942.4L570.6 943.1L570.8 861.9L571.3 942.9L571.5 858.8L571.5 858.8L571.7 947.2L572 951.4L572.2 874.9L572.6 877.3L572.8 943.1L573.3 876.3L573.5 954.3L573.7 878.5L573.9 956.5L574.1 875.3L574.3 961.9L574.8 880L575 959.5L575.2 888.3L575.4 959.8L575.5 885.5L575.8 968.6L576.3 884.9L576.5 964L576.5 964L576.7 884.3L577.2 963.1L577.4 885.8L577.8 873.8L578 964.2L578 958.3L578.2 875.7L578.7 954.6L578.9 871.8L579.1 954.7L579.2 873.2L579.8 954.1L580 867.9L580.2 943.9L580.4 866.3L580.5 944.1L580.8 867.5L581.1 859.1L581.3 939L581.7 931L581.9 855L582.2 853.6L582.4 943.5L582.8 932.8L583 849.8L583.2 932.2L583.3 847.7L583.5 928.7L583.7 853.1L584.2 928.1L584.5 845.6L584.8 848.2L585 936.4L585.2 854.4L585.4 937.3L585.5 856.7L585.8 941.6L586.1 936L586.3 854.3L586.7 852.8L586.9 937L587 848.9L587.2 938.6L587.6 938L587.8 861.4L588.1 866.8L588.3 939.8L588.5 869L588.7 947.9L589.2 876.7L589.5 950.1L589.6 867.8L589.8 947.5L590.2 956.1L590.4 864.2L590.8 869.6L590.9 957.4L591.1 871.7L591.3 950.4L591.7 952.3L591.8 875.8L592.2 877.1L592.4 955.9L592.6 875.9L592.8 962L593.3 879.8L593.5 963.2L593.5 963.2L593.7 882.3L594.1 880.7L594.2 966.9L594.6 961.4L594.8 885.2L595.2 885L595.3 960.9L595.5 883L595.7 964.9L596.3 877.5L596.5 959.6L596.7 885.1L596.8 965.1L597.2 960.1L597.4 883.1L597.6 956.8L597.8 883.2L598.3 957.3L598.5 875.8L598.5 875.8L598.7 955.6L599.2 875.3L599.4 959.7L599.6 878.8L599.8 959.2L600 879.3L600.2 955.3L600.7 877.1L600.9 959.2L601.3 953.7L601.5 874L601.8 873.2L602 956.3L602 956.3L602.2 871.3L602.8 954L603 867.7L603.1 947.3L603.3 867.2L603.9 950.6L604 881.2L604.2 938.6L604.4 865.4L604.6 942.1L604.8 862.3L605.2 853.1L605.3 935.9L605.5 851.1L605.7 933.3L606.3 858.3L606.5 935.4L606.6 847L606.8 926.2L607 854.2L607.2 925L607.8 849.5L608 929L608.3 926L608.5 848L608.5 848L608.7 927.8L609.2 848.5L609.4 936.9L609.6 854.3L609.8 932.7L610.2 936.3L610.3 862.1L610.7 861.1L610.9 945.3L611.1 862.6L611.2 950.4L611.8 875.9L612 953.9L612 953.9L612.2 874L612.6 868.1L612.8 954.9L613.3 876.7L613.5 961.4L613.5 961.4L613.7 876.6L614.2 950.9L614.4 871.4L614.6 950.2L614.8 867L615 945.4L615.5 870.5L615.7 939.4L615.9 858.4L616.1 944L616.2 853.6L616.8 926.6L617 849.8L617.2 931.6L617.4 849.8L617.6 933.3L617.8 845L618.1 852.4L618.3 929.8L618.5 863.1L618.7 938.1L619.2 866.5L619.4 956.5L619.6 863L619.8 947.2L620.2 950.2L620.3 867.8L620.7 879.5L620.9 951L621.2 942.7L621.5 859.9L621.6 932.9L621.8 854.8L622 929L622.2 855.8L622.6 853.6L622.8 927.1L623.1 932.3L623.3 845.1L623.7 864.9L623.9 943.7L624 868.1L624.2 954.7L624.8 878.2L625 950.2L625.3 940.5L625.5 871.4L625.7 942.6L625.9 859.3L626.3 864.1L626.4 932.1L626.8 920.6L627 848.3L627 848.3L627.2 931.5L627.8 868.2L627.9 940.5L628.1 864L628.3 950.2L628.7 951L628.8 874.9L629 944.4L629.2 863.1L629.8 929.9L630 848.8L630.2 929.3L630.3 851L630.7 850.9L630.9 943.2L631.1 850L631.2 944.7L631.8 869.5L632 946.1L632 946.1L632.2 869.9L632.7 938.1L632.9 857L633.1 932L633.3 859.1L633.8 922.1L634 862.4L634 860.4L634.2 953.8L634.6 946.8L634.8 880.5L635 932.4L635.5 862.1L635.7 931.3L635.9 854L636.1 936.4L636.2 864L636.6 858.1L636.8 937.2L637.2 949.8L637.3 862.1L637.6 938.1L637.8 854.6L638.3 931.6L638.5 856.5L638.5 856.5L638.6 952.1L639 953.3L639.2 852.8L639.6 844.6L639.8 921.9L640 865.9L640.5 942.1L640.5 942.1L641 858.6L641.2 927.1L641.4 851.6L641.8 870.6L642 952L642 950.4L642.2 859.2L642.8 915.7L642.9 849.5L643.3 848L643.5 942.9L643.5 935.5L643.6 863L644.2 936.6L644.4 847.2L644.6 934.9L644.8 846.3L645.1 862.3L645.3 940.9L645.7 943L645.9 849.2L646 933.6L646.2 866.6L646.6 859.6L646.8 957.2L647.2 938.3L647.3 859.1L647.5 942.3L647.7 861.4L648.1 859.7L648.3 940.2L648.6 939.1L648.8 863.6L649 937L649.2 847.3L649.5 855.2L649.8 931.7L650.1 938.3L650.3 863.7L650.9 937.7L651 858.6L651 850.1L651.2 940L651.8 872.2L652 947.6L652 936.4L652.5 858.1L652.5 849.7L652.7 938.8L653.1 942.3L653.3 863L653.5 930.2L654 857.3L654 857.3L654.2 925.1L654.8 868.1L655 941.6L655.3 926.5L655.5 853.7L655.9 854.2L656 932.1L656 935.4L656.2 855.5L656.8 935.4L657 853.8L657.3 843L657.5 940.4L657.5 940.4L657.7 860.6L658.2 939.3L658.4 858L658.8 856.8L659 932.4L659.2 860.8L659.4 943L659.8 937.4L659.9 864.5L660.1 938.7L660.3 844.4L660.7 848.2L660.9 934.4L661 850.1L661.2 939.9L661.6 931.2L661.8 848.9L662.1 845.8L662.3 929.5L662.5 860.5L662.7 938.2L663.1 939.8L663.2 857.2L663.6 861.1L663.8 937.9L664.2 939.3L664.4 854.7L664.5 941.1L664.7 858.1L665.3 927.8L665.5 849.6L665.5 859.6L665.7 946L666 947.5L666.2 857.4L666.6 849.3L666.8 930.9L667.3 864L667.5 942.5L667.5 942.5L667.7 860.4L668.2 924.4L668.4 852.8L668.8 854.4L669 944.1L669.4 944.8L669.5 865.3L669.5 848.1L669.7 925.8L670.3 852.5L670.5 951.6L670.5 951.6L671 865.5L671 863L671.2 931.3L671.8 849.8L672 944.3L672.2 868.4L672.3 938L672.7 946.9L672.9 853.3L673.2 856.9L673.4 933.3L673.6 868.2L673.8 940.9L674.4 853.4L674.5 931.9L674.7 858.4L674.9 934.4L675.1 858.2L675.3 936.7L675.6 930.6L675.8 854.3L676.2 839.4L676.4 947.2L676.6 861.1L676.8 935L677.3 868.4L677.5 933L677.5 933L677.7 860.7L678 853.4L678.2 958.4L678.6 945.3L678.8 862.7L679 930.6L679.2 842.5L679.6 851L679.8 931.4L680.1 945.6L680.3 875.2L680.5 927.7L680.7 852.2L681 857.9L681.2 930.6L681.6 936.9L681.8 866L682.3 938.5L682.5 850.3L682.5 850.3L682.7 934.3L683 941.3L683.2 865.8L683.8 938.8L684 854.6L684.3 854.3L684.5 934.3L684.7 863.5L684.9 936.1L685.3 942.1L685.5 853L685.5 853L686 932.4L686.2 868.6L686.4 948.1L686.8 942.6L687 846.6L687.3 859.2L687.5 928.4L687.7 858.9L687.8 929L688 860L688.2 931.8L688.8 851.8L689 934.1L689.4 941.9L689.5 865.6L689.7 936.2L689.9 863.1L690.1 932L690.3 871.9L690.6 869.5L690.8 928.9L691.2 933.8L691.4 857.6L691.6 936.4L691.8 856L692.1 863.4L692.3 933.4L692.7 939.4L692.9 866.4L693 936L693.2 863.9L693.6 850.9L693.8 935.4L694.1 942L694.3 861.6L694.5 927.7L694.7 859.9L695.1 851L695.3 932.8L695.6 949.1L695.8 864.6L696 946.5L696.2 850.8L696.5 845.8L696.8 926.5L697.1 938.7L697.3 862.4L697.5 936.9L697.7 854.5L698 861L698.2 917L698.8 855.1L699 948.1L699.3 955L699.5 858.8L699.5 857L699.7 923.1L700.1 943.6L700.2 863.1L700.6 854.5L700.8 935L701.2 923.7L701.4 855.5L701.8 865.3L701.9 940.2L702.3 932.7L702.5 851.4L702.5 856.5L703 940.5L703 945.2L703.2 859L703.8 940.7L704 868.8L704.1 937L704.3 862.7L704.7 862.3L704.9 950.4L705 856.3L705.2 939.3L705.6 935.3L705.8 850.2L706.2 864.4L706.4 946.8L706.5 860.5L706.7 930.9L707.1 925.6L707.3 847.3L707.7 851.2L707.8 937.6L708 857.8L708.2 936.8L708.6 928L708.8 858.1L709.1 857.2L709.3 930.5L709.5 861.3L709.7 932.3L710.1 960.3L710.2 853.5L710.6 852.3L710.8 937.8L711 857L711.2 947.1L711.5 930.5L711.7 853.3L712.1 852.6L712.3 945.3L712.8 860.8L713 949.4L713 949.4L713.2 859.7L713.6 849.3L713.8 929.8L714.3 864.8L714.5 952.2L714.5 952.2L714.7 857.5L715.2 939.8L715.4 848.8L715.8 857.4L716 936.2L716.3 938.8L716.5 855.5L716.5 845.4L716.7 931L717.2 865.4L717.5 944.7L717.5 934.8L717.6 852.6L718.2 917.5L718.4 853.9L718.8 860.9L719 946.8L719.3 924.8L719.5 863.9L719.8 848.7L720 919.1L720.2 864.8L720.4 946.9L720.8 939.1L721 846L721.2 930L721.3 840.3L721.8 857.2L721.9 938.7L722.2 936L722.5 860.3L722.8 847.1L723 950.5L723 950.5L723.2 856.7L723.8 942.4L723.9 860.2L724.1 941.2L724.3 852.5L724.7 849.8L724.8 932.1L725.2 934.8L725.4 847.4L725.6 939.3L725.8 857.3L726.2 851.4L726.4 944.3L726.5 858.4L726.7 936L727.2 851.9L727.5 928.3L727.6 853.1L727.8 937L728.2 945.2L728.4 861.5L728.5 938.9L728.8 864.2L729.1 854.3L729.3 945L729.5 861.9L729.7 935.2L730.2 848.7L730.4 926.4L730.6 854.7L730.8 938.1L731.2 939.9L731.3 858.9L731.5 936.3L731.7 840.3L732.1 853.9L732.3 926.4L732.6 938L732.8 865L733 937.3L733.2 850.6L733.5 846.8L733.7 927.2L734.1 936.5L734.3 859.3L734.8 935.6L735 859.7L735.2 920.9L735.4 848.6L735.8 859.4L736 931.9L736.3 930.6L736.5 847.6L736.7 930.5L736.9 843.6L737.3 865.4L737.4 929.6L737.8 924.5L738 855.6L738.2 925.1L738.4 850.7L738.8 857.7L738.9 954.4L739.3 934.6L739.5 854.1L739.5 854.1L740 933.9L740.2 859.8L740.4 952.1L740.8 931.9L741 849.9L741.3 853.4L741.5 942L741.5 944.1L741.7 856.1L742.2 937.3L742.5 854.8L742.6 940.4L742.8 857L743.2 862L743.4 942.6L743.7 936.1L743.9 847.7L744.3 861.8L744.5 932.4L744.6 856.7L744.8 950.1L745.2 931.5L745.4 853.7L745.6 935.6L745.8 852.7L746.1 851.3L746.3 942.2L746.5 854.6L746.7 942.9L747.2 852.7L747.4 938.2L747.8 938.7L748 861.1L748.2 939.8L748.3 854.2L748.5 932.7L748.7 846.7L749.3 942L749.5 847.7L749.7 941L749.8 859L750 930.5L750.2 856.2L750.6 849.6L750.8 938.8L751.1 945.7L751.3 867.9L751.7 848.5L751.9 933.4L752 851.3L752.2 943.1L752.6 932.5L752.8 868.1L753.2 849.3L753.4 932.2L753.5 847.3L753.7 936.3L754.1 946.4L754.3 858.6L754.8 931.5L755 843.9L755 843.9L755.2 929.2L755.6 944L755.8 854.8L756.1 848.7L756.3 927.2L756.5 849.6L756.7 937.1L757 942.3L757.2 860.7L757.6 846.9L757.8 931.2L758.3 851.1L758.5 937.5L758.5 944.5L758.7 859L759.3 926.9L759.5 857.1L759.8 861.7L760 946.6L760 946.6L760.2 866.9L760.8 930.7L760.9 848.4L761.3 852.7L761.5 941.9L761.5 941.9L762 852.1L762 844.7L762.2 925.9L762.8 856.5L763 942.2L763.1 851.6L763.3 942.8L763.7 934.3L763.9 845.7L764.3 856.9L764.5 938L764.5 934.9L765 848.7L765.2 928L765.4 843.5L765.8 849.5L765.9 938.6L766.3 961L766.5 853.4L766.7 937.7L766.8 852.6L767.2 859.4L767.4 932L767.8 937.4L768 858.7L768.3 849.4L768.5 931.1L768.7 864.2L768.9 938.7L769.2 940.7L769.5 845.8L769.8 848L770 922.1L770.2 848.3L770.4 931.3L770.8 940.9L770.9 853.2L771.3 837.1L771.5 934.3L771.5 934.3L771.7 856.9L772 853.8L772.2 936.1L772.6 929.8L772.8 855.6L773.1 855.2L773.3 933.5L773.7 942.4L773.9 844.5L774.1 932L774.2 845.2L774.6 843.3L774.8 924.8L775 861.2L775.2 928.1L775.5 931.7L775.8 851.7L776.1 840.9L776.3 944.7L776.7 939.3L776.8 861.4L777 928.8L777.2 848.8L777.6 853.7L777.8 934.3L778.1 935.9L778.3 853.1L778.5 928.8L778.7 840.8L779.1 848.1L779.2 947.9L779.6 945.2L779.8 863.1L780 943.2L780.2 848L780.5 827.2L780.8 930.8L781.1 935.6L781.3 850.8L781.7 848.9L781.8 933.4L782.2 944.1L782.4 856.3L782.6 941.3L782.8 852L783.3 923.7L783.5 845.3L783.5 845.3L783.7 933.3L784.1 937.2L784.2 858L784.6 834.8L784.8 927.8L785 854.4L785.2 944.7L785.5 943.7L785.8 859.8L786.1 850.3L786.3 926.6L786.8 849L787 942.7L787 942.7L787.2 854.1L787.8 914.4L788 851.9L788.3 854.9L788.5 948.5L788.5 948.5L788.7 859.6L789.2 925.2L789.5 847.5L789.8 860.8L790 936.4L790.2 848.8L790.3 934.2L790.5 838.9L790.7 925.6L791.1 937.7L791.3 863.2L791.8 937.7L792 847.9L792 847.9L792.2 936.7L792.8 865.4L792.9 942.9L793.3 934.7L793.5 857.7L793.7 934.4L793.9 852.4L794.2 862.6L794.4 942.2L794.8 942.2L795 834L795 849.8L795.2 936.7L795.7 855.9L795.9 943.6L796.2 935.5L796.5 838.5L796.8 848.2L797 935.9L797.2 855.1L797.4 947.3L797.8 937.5L797.9 836.4L798.3 850.3L798.5 935.8L798.7 858.8L798.9 944.7L799.2 919L799.4 842.5L799.8 841.7L800 931.1L800.3 941.6L800.5 850.8L800.5 850.8L800.7 931.3L801 937.2L801.2 852.5L801.8 930.6L802 858.6L802.2 929L802.4 858.4L802.8 849.2L802.9 933L803.1 858.2L803.3 932.9L803.7 928.9L803.8 850.2L804.2 853.6L804.4 934.6L804.6 851.9L804.8 942.1L805.2 935.5L805.3 851.2L805.7 849L805.9 927.7L806.1 861.6L806.2 937.8L806.8 838.3L807 928.8L807.2 854.4L807.4 942.1L807.5 844.6L807.8 935L808.1 941.2L808.3 847.9L808.7 850L808.9 941.8L809.2 952.4L809.4 863.3L809.6 930.6L809.8 854.9L810.1 854L810.3 931.2L810.7 930.8L810.9 854.1L811.1 932.2L811.2 851.6L811.6 846.2L811.8 931.7L812.2 934.2L812.3 849L812.5 937.1L812.8 834.9L813.1 853L813.3 936.4L813.7 947.6L813.8 856.5L814 933.9L814.2 842.5L814.6 837.7L814.8 925.2L815.1 938.9L815.3 860.1L815.5 930.7L815.7 850.2L816 850.6L816.2 932.5L816.6 942.1L816.8 858.4L817.2 850.6L817.4 934L817.5 837.5L817.8 935L818.1 942L818.3 855L818.5 929.9L818.7 846.4L819.2 946L819.4 854.1L819.6 938L819.8 854.6L820.1 842.9L820.3 931.1L820.7 945.7L820.9 855.3L821 935.4L821.2 843.7L821.6 848.1L821.8 932.7L822 851.6L822.5 929.3L822.7 857.5L822.9 940.5L823.3 926.5L823.5 849.7L823.7 940.4L823.8 852.7L824 930L824.2 856.3L824.6 844.7L824.8 947.2L825.3 856.4L825.5 949.6L825.5 949.6L825.7 858.5L826.2 931.2L826.4 849.5L826.6 946.8L826.8 861.7L827 927.5L827.5 854.3L827.5 843.5L827.7 937.8L828.1 939.9L828.3 853.9L828.7 845.6L828.8 936.6L829 851.4L829.2 926.8L829.6 941.1L829.8 851.1L830.3 926.9L830.5 841.7L830.5 841.7L830.7 932L831.2 863.7L831.4 928.9L831.6 846.2L831.8 922.7L832 860.4L832.5 938.2L832.5 940.8L832.7 862.1L833.1 846.6L833.3 924.3L833.8 854.6L834 939.7L834 939.7L834.2 851.9L834.8 922.1L834.9 848.6L835.1 933.1L835.3 861.9L835.5 932L835.7 848.8L836.2 927.6L836.4 845.7L836.8 861.6L837 944L837 937.3L837.5 853.2L837.5 852L837.7 919.6L838.3 865.4L838.5 933.8L838.8 920.7L839 836.3L839 836.3L839.2 923.4L839.6 946.8L839.8 870.2L840.3 932.6L840.5 843.6L840.5 847L840.7 925.4L841 940.5L841.2 855.4L841.6 841.3L841.8 931.7L842 853L842.5 931.4L842.7 852.7L842.9 941.2L843.1 839.8L843.2 928L843.5 854.6L844 950L844 950L844.5 858.7L844.5 838.9L844.8 928.8L845.1 939.8L845.3 850.9L845.5 933.6L846 838.3L846 838.3L846.2 930.6L846.8 849.4L847 940.4L847.3 934.3L847.5 847.5L847.7 919.5L847.9 846.9L848.2 852.8L848.4 936.2L848.8 926.6L849 852L849 852L849.2 931.8L849.5 954.7L849.8 860.8L850.2 929.1L850.5 844.1L850.5 850L850.7 931.5L851.2 859.9L851.4 947.6L851.8 929.1L852 845.4L852.2 932.1L852.3 845.6L852.5 931.5L852.7 858.5L853.2 929.5L853.4 847.8L853.8 858.1L854 938.1L854 938.1L854.2 849.1L854.5 844.8L854.7 916.8L855.3 859.9L855.5 928.5L855.8 941L856 851.1L856 851.1L856.2 921.6L856.8 858L857 934L857.3 931.3L857.5 849.2L857.7 924.3L857.9 848.9L858.2 856.2L858.4 942.9L858.8 931.2L859 845.7L859 845.7L859.2 926.5L859.7 854.7L859.9 937.7L860.3 928.7L860.5 842.7L860.8 849.3L861 928.8L861 932.9L861.2 852.7L861.8 927.6L862 846.6L862.3 856.8L862.5 938.9L862.5 938.9L862.7 862.5L863.2 927.8L863.4 848.7L863.8 854.1L864 934.5L864 934.5L864.2 853.7L864.7 922.1L864.9 846.7L865.3 854.5L865.5 927L865.8 927.7L866 851.2L866.2 920.4L866.4 841.6L866.8 849.5L867 939.4L867.3 935.3L867.5 849.2L867.7 927.8L867.9 834.7L868.2 845.7L868.4 952.4L868.8 939.9L869 850.1L869.3 846.7L869.5 933.5L869.5 940.2L869.7 856.7L870.1 850.4L870.2 937.7L870.8 847.6L871 942.6L871 942.6L871.2 862.9L871.8 927.7L872 846.9L872.3 862.9L872.5 945.1L872.5 945.1L872.7 859.9L873.2 919.5L873.4 844.1L873.8 860.1L874 926.7L874.3 938.4L874.5 849.8L874.5 848.7L874.7 917.3L875.3 861.3L875.5 948.8L875.5 937.6L876 846.2L876 846.2L876.2 931.3L876.8 859L876.9 935L877.3 927.1L877.5 843.9L877.5 843.9L877.7 930.2L878.2 855.9L878.4 934.9L878.6 852.8L878.8 936.7L879.3 854.8L879.5 932.7L879.7 843.5L879.9 936.3L880.2 933L880.5 839.5L880.8 859.9L881 937.8L881.2 853.5L881.4 943.7L881.8 929.4L881.9 843.5L882 856.1L882.5 941.6L882.5 941.6L882.7 848.7L883.2 931L883.4 841.8L883.8 859.9L884 938.8L884 928.3L884.5 847.8L884.5 847.8L884.7 925.8L885.2 851.1L885.5 942L885.8 926.2L886 844.3L886 844.3L886.2 935.2L886.5 944.7L886.7 855.9L887.3 930.1L887.5 850.4L887.8 847.8L888 929.3L888.2 845.7L888.4 944.2L888.8 921L889 839.7L889 851.4L889.1 932.4L889.7 854.3L889.9 932.9L890.2 932.4L890.4 844.5L890.8 861L891 938.8L891 938.8L891.2 856.8L891.5 849.4L891.8 930.7L892.3 845L892.5 937.5L892.5 937.5L893 842.9L893 842.4L893.2 927.5L893.6 936.5L893.8 850.9L894.3 925.9L894.5 840.9L894.5 840.9L894.7 932.9L895.2 858.4L895.4 937.6L895.8 926.9L896 842.2L896 842.2L896.5 931.9L896.5 937.1L896.7 858.9L897.3 928.9L897.5 853.4L897.8 854.2L898 941.3L898 941.3L898.2 852.9L898.6 848.3L898.8 927L899 862.2L899.5 943.4L899.5 943.4L899.7 842.7L900.2 928.5L900.4 842L900.6 940L900.8 856.8L901 930L901.2 842.6L901.7 849L901.8 928.4L902.3 944.2L902.5 850.2L902.8 926.4L903 833.4L903 837.3L903.2 932.2L903.7 933.8L903.9 855.8L904.1 923.6L904.4 834.2L904.5 855.1L904.7 932.7L905.2 931.5L905.5 845.7L905.8 930.3L906 844.6L906 844.6L906.3 938.3L906.6 855L906.9 928.8L907.1 844.5L907.5 934.7L907.5 926.8L907.8 851L908 931.1L908.4 844.1L908.7 929.9L909 848.4L909 848.4L909.3 934.3L909.7 840.6L910 927L910 927.5L910.3 849.9L910.8 935L911 855L911.1 845.5L911.5 927.1L911.5 922.7L911.8 853.7L912.2 936.2L912.5 842.9L912.5 842.9L913 941.5L913 933.8L913.4 843.1L913.7 937.6L914 859.2L914.1 826.7L914.5 937.9L914.5 937.9L915 846.5L915 854.7L915.4 933.1L915.5 906L915.8 837.7L916.2 938.3L916.5 884.5L916.6 839.3L917 917.1L917.2 937.6L917.5 855.6L917.5 851.4L918 930.2L918 930.2L918.5 840.5L918.5 844.2L919 941.8L919 936.1L919.5 839.6L919.5 844.4L920 933.3L920 929.2L920.5 848.7L920.5 848.7L920.9 926.6L921 918.9L921.5 844.9L921.5 844.9L922 935.7L922.1 938.1L922.5 840.9L922.5 840.9L923 939.2L923 941.8L923.5 851.4L923.6 837.7L924 911.4L924.2 933.3L924.5 877.4L924.8 847.1L925 877.9L925 877.9L925.3 933.4L925.5 897.7L925.9 853.6L926 865.8L926.4 929.1L926.5 925.9L927 849.9L927 849.9L927.5 916.4L927.6 935.6L928 881.3L928.2 842.1L928.5 883.2L928.5 883.2L928.8 932.3L929 929.9L929.5 844.1L929.5 839.9L930 920.8L930.1 931.5L930.5 897.5L930.5 897.5L931 845.4L931 849L931.5 931.7L931.5 934.5L932 877L932 877L932.2 845L932.5 860.5L933 930.3L933 933.7L933.5 897L933.5 897L933.9 846.5L934 850.8L934.5 900.1L934.5 900.1L934.8 934.5L935 925.8L935.5 871.9L935.5 871.9L935.8 844.6L936 849.6L936.5 915.4L936.5 915.4L936.8 940L937 927.1L937.5 859.2L937.5 859.2L937.8 840.2L938 857.7L938.5 906.4L938.5 906.4" fill="none" stroke="#0000ff" stroke-width="1.25" stroke-linejoin="round"/>
<path d="M937.5 859.2L937.5 859.2L937.8 840.2L938 857.7L938.5 906.4L938.5 906.4L939 931.9L939 931.9L939.5 890L939.5 893.5L940 843.5L940.1 834.9L940.5 877.5L940.5 877.5L941 930.9L941.1 935.8L941.5 921.9L941.5 921.9L942 882.5L942 882.5L942.5 842.3L942.6 840.9L943 864.8L943 864.8L943.5 919.1L943.5 919.1L944 938.6L944 938.6L944.5 893.9L944.5 893.9L945 854.6L945 854.6L945.4 840.2L945.5 846.1L946 885.9L946 885.9L946.5 929.9L946.6 932.2L946.9 927.1L947 931.4L947.5 898.7L947.5 898.7L948 852L948 852L948.3 840.7L948.5 841.8L949 876.8L949 876.8L949.5 912.4L949.5 911.7L950 932.3L950.2 934.3L950.5 921.2L950.5 921.2L951 875.6L951 875.6L951.5 847.6L951.7 844.3L952 851.3L952 851.3L952.5 878.5L952.5 878.5L953 926.3L953 926.3L953.4 940.1L953.5 937.3L954 910.2L954 910.4L954.5 879.6L954.5 879.6L955 844.3L955.2 838.5L955.5 853.4L955.5 853.4L956 888.3L956 888.3L956.5 918.9L956.5 918.9L956.9 939.9L957 939.2L957.5 908.1L957.5 908.1L958 868.2L958 868.2L958.3 851.5L958.5 853.2L958.9 844.9L959 846.8L959.5 887.5L959.5 887.5L960 925.2L960 925.2L960.4 936.3L960.6 930.4L961 917.6L961 917.6L961.5 875.8L961.5 875.8L961.9 844.9L962.2 840.9L962.5 850.1L962.5 845.8L963 882.8L963 882.8L963.5 918.2L963.5 918.2L963.9 941.1L964.1 939.2L964.5 910.6L964.5 910.6L965 880.4L965 880.4L965.5 851.4L965.5 851.4L965.8 837.5L966 843.2L966.5 878.4L966.5 878.4L967 914.4L967 913.8L967.5 932.3L967.7 935.6L968 924.6L968 925.3L968.5 883L968.5 883L969 853.5L969 853.5L969.3 844.4L969.5 842L970 864.9L970 864.9L970.5 910.3L970.5 910.3L971 937.4L971 937.4L971.5 926.4L971.6 929.8L972 904.9L972 904.9L972.5 858.1L972.5 858.7L972.8 838.8L973.1 841L973.5 859L973.5 859L974 892.1L974 892.1L974.5 927.8L974.5 927.8L974.8 939.3L975 937.1L975.5 903.1L975.6 905L976 879L976 879L976.5 842.2L976.8 838L977 847.1L977 847.1L977.5 881L977.5 881L978 913.4L978 913.4L978.5 936.7L978.8 938.4L979 926.4L979 926.4L979.5 887.6L979.5 887.6L980 860.6L980 860.6L980.4 841.4L980.6 840.8L981 859.4L981 859.4L981.5 897.7L981.5 897.7L982 922.9L982 921.3L982.3 939.4L982.6 937.3L983 913.6L983 913.6L983.5 871.2L983.5 871.2L984 846.7L984.1 849.6L984.4 841.9L984.5 842.8L985 875.7L985 875.5L985.5 914.2L985.5 914.2L986 929.9L986 929.9L986.2 934.3L986.5 933.2L987 899.2L987 899.2L987.5 856.7L987.5 856.7L988 843.7L988.2 843.5L988.5 850.2L988.5 850.2L989 886.9L989 886.9L989.5 925.3L989.6 924L990 937.9L990 937.9L990.5 922.8L990.5 923.5L991 885.2L991 885.2L991.5 854.1L991.5 854.1L992 844.1L992 844.6L992.5 859.7L992.5 859.7L993 890.7L993 890.7L993.5 928.5L993.5 928.5L993.8 933.9L994.1 934.2L994.5 918.7L994.5 918.7L995 882.5L995 882.5L995.5 844.7L995.6 850.2L995.8 840.4L996.2 845.9L996.5 857.1L996.5 857.1L997 893.9L997 893.9L997.5 925.6L997.5 925.6L997.7 933.4L998.1 932.6L998.5 917.5L998.5 917.5L999 879.4L999 879.4L999.5 847.3L999.5 847.3L999.9 843.4L1000 846L1000.5 861.9L1000.5 861.9L1001 899.3L1001 899.3L1001.5 928.7L1001.8 934L1002 927.9L1002.1 932.2L1002.5 914.5L1002.5 914.9L1003 879.8L1003 879.8L1003.5 847.5L1003.7 844.3L1003.9 848.3L1004 846.2L1004.5 857.9L1004.5 857.9L1005 896.3L1005 896.3L1005.5 929.9L1005.6 926.3L1005.8 930.9L1006.1 933.7L1006.3 922.3L1006.5 923.4L1007 882L1007 882L1007.5 852L1007.5 852L1007.9 845.7L1008.1 841.3L1008.5 850.3L1008.5 850.3L1009 893L1009 893L1009.5 923.4L1009.5 922.6L1010 932.8L1010.3 933.7L1010.5 929.2L1010.5 929.2L1011 887.3L1011 887.3L1011.5 860.6L1011.5 860.6L1011.9 844.2L1012.1 839.9L1012.2 847.7L1012.5 847.1L1013 886.2L1013 886.2L1013.5 914.1L1013.5 914.1L1014 931.9L1014 931.9L1014.2 938.1L1014.5 933L1015 897.2L1015 897.2L1015.5 871.5L1015.5 871.5L1016 847.6L1016 847.6L1016.4 838.8L1016.5 841.9L1017 870.1L1017 870.1L1017.4 901.9L1017.5 901.7L1018 928.1L1018 928.1L1018.4 941.4L1018.5 937L1019 907.1L1019 907.1L1019.5 880.9L1019.5 880.9L1020 855.3L1020 855.3L1020.5 839.6L1020.5 840.8L1021 862.2L1021 861.6L1021.5 883.9L1021.5 883.9L1022 919.6L1022 919.6L1022.3 936.3L1022.5 935.2L1023 924L1023 924.4L1023.5 899.3L1023.5 899.3L1024 861.8L1024 861.8L1024.5 845.5L1024.9 850.2L1025 845L1025 847.3L1025.5 868.2L1025.5 868.2L1026 903.4L1026 903.4L1026.5 929.2L1026.7 928.7L1027 935.2L1027 935.2L1027.5 917L1027.5 917L1028 882L1028 882L1028.5 854.7L1028.5 855L1028.9 842.2L1029.2 839.3L1029.5 852.9L1029.5 852.9L1030 883.3L1030 883.3L1030.5 908.4L1030.5 908.4L1031 931.8L1031 931.8L1031.2 938.3L1031.5 934.2L1032 905.7L1032 905.7L1032.5 877.2L1032.5 877.2L1033 849.5L1033 849.5L1033.3 837.3L1033.5 837.9L1034 862.9L1034 862.9L1034.5 884.3L1034.5 884.3L1035 923.4L1035 923.4L1035.5 937.4L1035.5 937.4L1036 924.5L1036 924.5L1036.5 905.3L1036.5 905.3L1037 863.6L1037 863.6L1037.5 844.5L1037.9 842.9L1038 850.4L1038.1 843.9L1038.5 858.4L1038.5 858.4L1039 901.3L1039 900.6L1039.5 921L1039.5 921L1040 935.1L1040 935.1L1040.5 920.4L1040.5 927.3L1041 893.5L1041 893.5L1041.5 869.5L1041.5 869.5L1042 843.2L1042 844L1042.2 837.7L1042.5 841.8L1043 864L1043 864L1043.5 891L1043.5 891L1044 926.3L1044 926.3L1044.5 933.9L1044.5 933.9L1045 923.8L1045 923.8L1045.5 899.4L1045.5 899.4L1046 864.2L1046 864.2L1046.5 843.9L1046.7 841.2L1047 847.6L1047.1 842.9L1047.5 857.2L1047.5 857.2L1048 898.2L1048 898.2L1048.5 920L1048.5 919.4L1049 931.5L1049.2 938.6L1049.5 929.9L1049.5 929.9L1050 897.8L1050 897.8L1050.5 873.8L1050.5 873.8L1051 848.1L1051 848.1L1051.3 835.5L1051.6 842L1052 859.9L1052 859.2L1052.5 884.6L1052.5 884.6L1053 917.7L1053 917.7L1053.4 935.3L1053.6 927.5L1053.8 934.5L1054 927.9L1054.5 915.1L1054.5 915.1L1055 873.7L1055 875L1055.4 853.1L1055.5 853.5L1055.9 840.7L1056.1 836.7L1056.5 850.2L1056.5 850.2L1057 880.7L1057 880.7L1057.5 905.9L1057.5 903.4L1058 928L1058 928L1058.3 938.9L1058.5 936.7L1059 917L1059 917L1059.5 889.6L1059.5 889.6L1060 858.7L1060 858.7L1060.4 838.9L1060.7 838.1L1061 849.3L1061 848.7L1061.5 861.2L1061.5 861.2L1062 900.1L1062 900.1L1062.5 921.6L1062.5 921.6L1063 935.6L1063 936.5L1063.5 929.1L1063.5 929.1L1064 903.8L1064 903.8L1064.5 876.2L1064.5 876.2L1065 849L1065 849L1065.5 837L1065.5 837L1066 855.7L1066 855.6L1066.5 874.5L1066.5 874.5L1067 906.3L1067 906.1L1067.5 930.4L1067.5 929.9L1068 934.6L1068 934.1L1068.5 923.1L1068.5 923.1L1069 896.2L1069 896.2L1069.5 870.9L1069.5 870.9L1070 851.8L1070 851.8L1070.3 837.1L1070.5 840.5L1071 859.1L1071 859.1L1071.5 878.3L1071.5 878.3L1072 910.6L1072 910.6L1072.4 930.5L1072.6 933.1L1072.7 927L1073.2 933.2L1073.5 925.4L1073.5 925.4L1074 895.5L1074 895.5L1074.5 871.6L1074.5 871.6L1075 851.4L1075 851.4L1075.4 838.3L1075.5 837.6L1076 853.2L1076 853.2L1076.5 870.6L1076.5 870.6L1077 902L1077 902L1077.5 928L1077.5 928L1077.8 932.7L1078 928.3L1078.3 936.2L1078.5 932.1L1079 911L1079 911L1079.5 880.2L1079.5 880.2L1080 863.4L1080 863.6L1080.4 841.5L1080.8 839.2L1081 849L1081 848.4L1081.5 863.9L1081.5 862.6L1082 888.1L1082 888.1L1082.5 915.4L1082.5 915.4L1083 927.1L1083 927.1L1083.4 938.1L1083.6 939.1L1084 921L1084 921.8L1084.5 897.2L1084.5 897.2L1085 876.4L1085 876.4L1085.5 845.6L1085.5 848.2L1085.8 840.5L1086 841.4L1086.5 847.3L1086.6 845.4L1087 865.8L1087 865.3L1087.5 896.2L1087.5 896.2L1088 910.7L1088 910.7L1088.5 935.4L1088.8 941L1089 930.8L1089 932.3L1089.5 922L1089.5 922.7L1090 903.4L1090 903.4L1090.5 869.8L1090.5 869.8L1091 854.6L1091 854.6L1091.5 840.9L1091.6 837.2L1091.9 843.6L1092 843L1092.5 865.5L1092.5 865.5L1093 886.7L1093 884.9L1093.4 910.8L1093.5 910.3L1093.9 929.2L1094 927.6L1094.5 935.3L1094.7 938.4L1095 929.3L1095 930L1095.5 907.4L1095.5 907.4L1096 887.7L1096 887.7L1096.5 860L1096.5 860L1097 843.4L1097.1 842.1L1097.2 847.1L1097.7 843.1L1098 852.9L1098 852.9L1098.5 877.6L1098.5 877.6L1099 901.6L1099 901.6L1099.5 925.2L1099.5 925.2L1100 938.8L1100.1 939.2L1100.5 924.5L1100.5 924.5L1101 908.3L1101 908.3L1101.5 876.5L1101.5 876.5L1102 852.8L1102 853.5L1102.4 844.1L1102.6 842.7L1103 854.3L1103 854.3L1103.5 891.1L1103.5 891.1L1104 921L1104 921L1104.4 937.3L1104.7 936.7L1105 915.9L1105 915.9L1105.5 873.4L1105.5 873.4L1106 845.3L1106 845.3L1106.5 850.5L1106.5 850.5L1107 897.7L1107 897.7L1107.5 932.6L1107.6 935.4L1108 926.9L1108 926.9L1108.5 887.2L1108.5 887.2L1109 845.9L1109.2 838L1109.5 853.9L1109.5 853.9L1110 900L1110 900L1110.5 931.4L1110.7 937.9L1111 925L1111 925L1111.5 867.1L1111.5 867.1L1111.8 840.7L1112 842.3L1112.5 874.4L1112.5 874.4L1113 925.5L1113 925.5L1113.3 938.9L1113.5 933.2L1114 874.8L1114 874.8L1114.4 842.4L1114.5 846.2L1115 875.7L1115 875.7L1115.5 926.4L1115.5 926.4L1115.7 936.4L1116 926.7L1116.5 860.6L1116.5 860.6L1116.8 843.1L1117 851.8L1117.5 896.1L1117.5 896.1L1118 935.7L1118.2 936.2L1118.5 904.4L1118.5 904.4L1119 844.6L1119.2 841.8L1119.5 867.2L1119.5 867.2L1120 920.3L1120 920.3L1120.4 934L1120.5 929.1L1121 878.5L1121 878.5L1121.4 841.9L1121.5 843.8L1122 887.8L1122 887.8L1122.5 932L1122.6 934.9L1123 912.7L1123 912.7L1123.5 854.1L1123.5 854.1L1123.7 841.7L1124 850.6L1124.5 913.5L1124.5 913.5L1124.9 938.4L1125 933.5L1125.5 891.3L1125.5 891.3L1126 845.9L1126.1 842L1126.5 869.6L1126.5 869.6L1127 931.9L1127.2 935.2L1127.5 920.5L1127.5 920.5L1128 866.9L1128 866.9L1128.4 844.5L1128.5 846.8L1129 896.9L1129 896.9L1129.5 938.3L1129.7 936.7L1130 896.8L1130 896.8L1130.5 849.6L1130.7 846L1131 862.2L1131 862.2L1131.5 921.2L1131.5 921.2L1131.8 941.4L1132 932.7L1132.5 874.3L1132.5 874.3L1132.9 847.5L1133.1 845.7L1133.5 884.3L1133.5 884.3L1134 934.8L1134.1 941.7L1134.5 918L1134.5 918L1135 852.9L1135.3 843.6L1135.5 856.5L1135.5 856.5L1136 907.7L1136 907.7L1136.4 936.5L1136.5 934.8L1137 892.3L1137.1 933.4L1137.3 847.5L1137.5 928.5L1137.7 853L1138.1 849.7L1138.3 920.4L1138.8 916.7L1139 857.9L1139.2 906.9L1139.4 861.5L1139.8 860.8L1140 907.5L1140.2 862.7L1140.4 905.3L1140.6 860.3L1140.8 900.4L1141 860.3L1141.2 904.3L1141.6 903.8L1141.8 857.1L1142.2 861.1L1142.5 900.7L1142.6 856.3L1142.8 907.4L1143.2 895.6L1143.5 855.5L1143.6 893.5L1143.9 853.2L1144.1 893.2L1144.3 851L1144.5 891L1144.7 850.5L1145.3 887.9L1145.5 844.3L1145.5 844.3L1145.7 884.3L1146.3 839.9L1146.5 882L1146.5 884.4L1146.8 843.5L1147.1 845.1L1147.4 885.1L1147.8 889L1148 842.3L1148.2 886.6L1148.4 845.5L1148.8 851.6L1149 891.7L1149.2 854.9L1149.4 900.1L1149.6 854.5L1149.8 905.4L1150 862.2L1150.2 906.9L1150.8 873.3L1151 916.6L1151.2 880.4L1151.4 925.1L1151.7 885.7L1151.9 929L1152.1 883L1152.2 933.4L1152.5 889.3L1152.7 936.2L1153.3 894.8L1153.5 941.2L1153.7 890.9L1153.9 945.9" fill="none" stroke="#0000ff" stroke-width="1.7" stroke-linejoin="round"/>
<path d="M165.1 962.2L165.2 909.5L165.6 904.8L165.8 954L166.2 957.5L166.3 908.3L166.5 957.5L166.7 908.5L167.1 906.8L167.3 960.6L167.6 958.5L167.8 905.7L168.2 906L168.4 959.4L168.8 959.5L169 904.2L169.3 902.9L169.5 961.8L169.5 961.8L169.7 906.7L170 906.6L170.2 950.6L170.8 910.9L171 963.1L171 956.4L171.2 905.9L171.5 906.1L171.7 960.3L172.1 958.6L172.2 906.8L172.6 902.1L172.8 956.3L173 907L173.2 957.4L173.8 904.3L174 956.9L174.3 959.2L174.5 906.6L174.7 954.5L174.8 901.4L175.2 910.5L175.4 963.1L175.8 955.2L176 906.6L176.3 908.4L176.5 955.3L176.5 955.3L176.7 908.8L177.2 956.7L177.4 901.6L177.6 965.3L177.8 907.8L178 956.4L178.2 903.3L178.8 963.3L178.9 908.9L179.1 954.7L179.3 906L179.7 906.6L179.9 958.3L180 907.3L180.2 958.4L180.8 909L181 956.8L181.3 956.9L181.5 908.2L181.7 954.4L181.9 905.6L182.2 903L182.4 956.4L182.8 959.1L183 901L183 901L183.2 956.7L183.5 959.6L183.8 907.5L184.1 903.5L184.3 953.6L184.5 910.8L184.7 954.8L185.2 909.4L185.4 952.5L185.6 906L185.8 959.4L186.1 954.7L186.3 905L186.7 902.3L186.9 955.7L187 909.5L187.2 958.8L187.6 951.8L187.8 904.3L188.2 910.5L188.4 959.7L188.7 954.9L188.9 900.4L189.3 911.1L189.5 962.5L189.5 962.5L189.7 905.5L190 903.8L190.2 957.6L190.6 961.4L190.8 913.5L191.1 902.7L191.3 948.6L191.5 907.2L191.7 958.7L192.1 960.4L192.2 905.6L192.6 904.3L192.8 950.9L193.2 961.1L193.3 905.6L193.5 958.1L193.8 906.4L194.1 904.7L194.3 963.5L194.7 960.3L194.8 901.3L195.2 907.7L195.4 958.4L195.8 958.6L196 902.7L196.3 904.9L196.5 959.7L196.5 959.7L196.7 911.6L197.2 960.7L197.4 905L197.8 908.5L198 961.5L198 961.5L198.5 912.4L198.7 955.7L198.9 901.4L199.3 915.3L199.5 959L199.5 956.3L200 903.6L200 903.5L200.2 953.1L200.6 959.1L200.8 911.3L201.3 955.7L201.5 903.4L201.5 903.4L201.7 954.9L202.2 912.5L202.4 958L202.6 904L202.8 956.7L203.2 959.4L203.3 910.1L203.5 955.4L203.7 906.8L204.1 898.8L204.3 956.6L204.6 960.5L204.8 904.8L205 954.8L205.2 903.9L205.8 966.1L206 908.4L206.1 958L206.3 903.4L206.7 905.4L206.9 953.3L207.2 958L207.4 908.1L207.6 962.5L207.8 907.5L208.2 908.8L208.3 961L208.7 959.9L208.9 904.5L209.2 910.7L209.5 956.4L209.8 955.4L210 904.8L210.2 955.9L210.4 895.8L210.8 907.6L211 959.7L211.3 958.1L211.5 903L211.5 903L211.7 955.8L212 959.2L212.2 910.5L212.8 952.9L213 902.2L213 903.6L213.5 952.9L213.7 907.3L213.9 956.9L214.2 951.2L214.5 904.7L214.6 959.3L214.8 909.9L215 955.6L215.2 907.6L215.8 952.4L215.9 904.5L216.3 907.8L216.5 961L216.5 958.2L216.7 908.8L217 904.7L217.2 954.4L217.8 912.2L218 959.3L218 957.4L218.5 906.3L218.5 906.3L218.7 956.5L219.1 959L219.3 909.9L219.6 900.6L219.8 951.5L220 902.5L220.2 958.4L220.5 959.8L220.8 906.6L221.1 904.6L221.3 954.7L221.7 957.3L221.8 902.7L222 956.6L222.2 902L222.6 902.2L222.8 956.1L223.1 957.9L223.3 906.7L223.5 957L223.7 901.2L224 907.8L224.2 956.5L224.6 962.8L224.8 910.2L225.2 904.4L225.4 953.5L225.5 903L225.8 957.4L226.3 906L226.5 955.8L226.7 901L226.8 956.1L227.2 956.8L227.4 909.5L227.6 954.2L227.8 905.4L228.1 902.6L228.3 958.5L228.7 954.7L228.9 909.2L229 955.5L229.2 905.5L229.6 902.5L229.8 956.7L230 907.5L230.2 961.1L230.5 953.3L230.7 904.4L231.3 957.8L231.5 907.6L231.7 957.3L231.8 910L232 957.3L232.2 898.4L232.8 968.5L233 911.9L233.1 957.7L233.3 905.9L233.5 952.4L233.7 899.8L234.2 957.9L234.4 907L234.6 960.5L234.8 904L235.2 901.6L235.3 952.2L235.5 906.2L235.8 958.2L236.1 962.9L236.3 904.8L236.6 904.5L236.8 952.6L237.2 959.1L237.4 909.9L237.6 954.2L237.8 908.7L238.1 904.2L238.3 958.1L238.5 907.4L238.7 963.4L239 955.6L239.2 907L239.8 959.9L240 906.3L240.2 961.6L240.4 904.1L240.7 903.6L240.9 954.1L241.1 905.3L241.2 953.9L241.6 960.7L241.8 909.7L242.2 904.2L242.4 952.1L242.5 906.5L242.8 953.7L243.3 905.3L243.5 957.5L243.5 957.5L243.7 898.9L244 907.2L244.2 955L244.6 958.9L244.8 908.3L245.2 902L245.3 950.6L245.5 908.5L245.7 957.5L246.1 961.5L246.3 907.4L246.6 902.6L246.8 955.3L247 904.1L247.2 954.5L247.5 958.2L247.8 907.4L248.1 904.1L248.3 953.1L248.5 904.5L248.7 958.3L249 956.9L249.2 906.6L249.6 907L249.8 949.8L250.2 963.2L250.3 911.1L250.5 958.9L250.7 906.7L251.1 901.7L251.2 955.3L251.8 911.2L252 962.6L252 962.6L252.2 910.2L252.5 901.5L252.8 957.3L253.3 907.8L253.5 958.5L253.5 954.9L253.7 906.2L254.2 952.7L254.4 901.8L254.6 957.1L254.8 911.3L255.2 904.9L255.3 957.8L255.7 953L255.9 906.3L256.2 911.1L256.5 956.2L256.8 954L257 903.1L257 903.1L257.5 955L257.8 911.2L257.9 962.1L258.3 955.9L258.5 906.3L258.7 951.6L258.8 904.5L259.2 909.5L259.4 955.6L259.8 959L260 903.3L260.3 904L260.5 957.1L260.7 907.7L260.9 960.3L261.2 954.9L261.5 910L261.6 956.7L261.8 906.4L262.2 906.6L262.4 957.8L262.7 959.2L262.9 904.4L263.3 906.1L263.5 952.4L263.6 907.2L263.8 953.6L264.2 961.6L264.4 909.9L264.6 957.1L264.8 903L265.1 903.8L265.3 955.2L265.5 904.1L265.7 962.1L266 958.1L266.2 902.7L266.6 903.7L266.8 950.1L267 906.1L267.2 958.7L267.5 959.2L267.8 906.7L268.1 907.4L268.3 953.1L268.5 908.3L269 959.8L269 959.8L269.2 905.1L269.8 953.3L269.9 903.1L270.3 909.8L270.5 959.1L270.5 959.1L270.7 906.7L271.2 950.9L271.4 903.9L271.8 906.2L272 958.8L272 958.4L272.2 908L272.7 951.3L272.9 900.5L273.3 908.1L273.5 956.1L273.8 957.3L274 909.6L274.2 952.9L274.4 905L274.6 957.1L274.8 905.9L275.3 957L275.5 907.1L275.5 907.1L275.7 955.5L276.2 903.9L276.4 951.7L276.6 906.4L276.8 961L277.2 956.6L277.3 907.6L277.7 905.1L277.9 956.5L278.1 902.7L278.2 962.4L278.6 962.4L278.8 905.8L279 956.9L279.2 898.8L279.6 908.3L279.8 952.1L280.1 960.7L280.3 916.2L280.5 952.9L280.7 906.7L281.2 951L281.4 906.1L281.8 912L282 959.3L282 957.2L282.2 906.2L282.7 951.7L282.9 903.4L283.1 961.5L283.2 905.9L283.8 956.2L284 908L284.2 951.3L284.4 906L284.8 907.6L284.9 958.7L285.3 957L285.5 905.3L285.7 958.7L285.9 897.8L286 956.1L286.2 905.4L286.6 909L286.8 955.9L287.1 954.2L287.3 904.5L287.7 901.6L287.9 957.3L288.1 904.5L288.2 958.7L288.6 960.7L288.8 905.4L289 951.3L289.2 901.9L289.5 904.4L289.8 951.5L290.1 960.4L290.3 910.7L290.7 902.8L290.8 959L291 906L291.2 952.7L291.8 910.2L292 960.6L292 957.3L292.5 903.9L292.5 903.9L292.7 952.3L293.2 910L293.5 957L293.8 960.7L294 904.4L294.2 954.5L294.4 902.8L294.5 954.2L294.8 911.5L295.3 957.2L295.5 909.8L295.7 956.5L295.8 904L296 953.1L296.2 904.7L296.8 957.1L297 909.9L297.1 957.3L297.3 908.1L297.5 952.6L297.7 902L298.1 903L298.2 952.6L298.6 958.7L298.8 911.1L299 953.7L299.2 901.3L299.5 904.5L299.8 952.2L300.1 956.9L300.3 913.2L300.8 955.3L301 908.7L301.2 947.8L301.4 895.2L301.8 906.9L302 956.8L302.1 911.4L302.3 961.1L302.7 951.9L302.9 901.9L303.2 902.3L303.4 955.3L303.6 907.4L303.8 957.1L304.2 955.6L304.4 902.3L304.5 954.4L304.8 901.8L305.1 907.9L305.2 952.7L305.7 958.7L305.8 909.6L306 958.2L306.2 908.2L306.6 901.7L306.8 950.8L307.3 909.1L307.5 954.8L307.5 954.8L307.7 914.4L308 903.7L308.2 947.3L308.8 906.8L309 957.3L309.2 908.2L309.3 958.9L309.5 902.9L309.7 953.8L310.3 904.5L310.5 952.3L310.7 907.5L310.8 955.1L311.2 962.8L311.4 903.9L311.8 903.2L312 953.2L312.1 900.9L312.3 950.2L312.7 959.4L312.9 907.5L313.2 903.6L313.4 954.2L313.6 900.3L313.8 950.3L314 904.8L314.2 954.8L314.5 959.3L314.7 906.4L315.2 950.7L315.5 901L315.7 956.8L315.8 906.9L316.2 908.3L316.4 959.5L316.5 904.1L316.8 951.7L317.1 952.9L317.3 901.4L317.7 900.4L317.9 960.9L318.2 958.3L318.4 903.5L318.8 902.8L319 954.2L319 954.2L319.2 900L319.5 903.6L319.7 956.3L320.1 959.1L320.2 909.8L320.8 946.6L321 903L321 903L321.2 951.4L321.8 906.1L322 957L322.3 957.4L322.5 903.5L322.7 950.6L322.9 896.8L323.2 902.2L323.4 958.1L323.6 909.1L323.8 956.9L324.1 952.6L324.3 908.9L324.7 901.5L324.9 954.6L325.1 906.6L325.2 952.7L325.6 958.7L325.8 908.3L326 951.7L326.2 904.4L326.5 904.3L326.8 954L327.3 906.3L327.5 957.9L327.5 957L327.7 907.2L328.2 946.6L328.4 898.1L328.8 908.3L329 955.2L329.2 905.3L329.3 954.2L329.7 954.6L329.9 904L330.2 900.9L330.4 955.9L330.8 954.7L331 905L331 905L331.2 956.1L331.5 956.9L331.8 907.4L332.1 901.8L332.3 949.9L332.5 906.9L333 953.1L333 956.9L333.2 910.4L333.8 951.1L334 898.9L334.3 903.3L334.5 957.6L334.5 957.6L334.7 908.1L335.2 955.6L335.4 900.4L335.6 951.2L335.8 903.9L336.2 901.1L336.3 954.2L336.5 907.5L336.8 953.6L337.3 907.1L337.5 953.3L337.7 896.1L337.8 951.5L338.2 956.8L338.4 903.2L338.6 950.2L338.8 906.7L339.3 952.8L339.5 900.3L339.5 900.3L339.7 946.1L340.2 903.9L340.4 954.6L340.8 953.5L341 901.9L341.2 957.1L341.4 898.1L341.5 950.3L341.7 899.3L342.1 901.9L342.3 951.1L342.7 955.6L342.8 909.6L343 949.6L343.2 904.2L343.6 898.5L343.8 952.7L344 910.9L344.5 955.5L344.7 907.6L344.9 957.7L345.2 949.2L345.4 902.3L345.6 948.5L345.8 905.8L346.4 956.7L346.5 903.6L346.5 901.5L346.7 953.7L347.1 952L347.2 901.3L347.6 899.7L347.8 949L348.2 954.8L348.4 903.5L348.5 955.5L348.8 905.4L349.3 946.6L349.5 900.3L349.5 900.3L349.7 948.6L350.2 903.8L350.4 959.5L350.8 953.7L351 898.6L351 898.6L351.5 947L351.5 951.6L351.7 902.8L352.2 953.2L352.5 902.3L352.6 952.3L352.8 899.3L353 951.8L353.2 898.7L353.6 898.7L353.8 951.4L354.1 953.4L354.3 907.2L354.7 901.7L354.9 956L355.2 952.3L355.4 896.3L355.8 900L356 957L356 953.6L356.1 903.7L356.5 904.5L356.7 948.8L357.2 900.9L357.5 952.3L357.6 897.8L357.8 949.8L358 907L358.2 952.9L358.6 951.6L358.8 901.5L359.3 947.3L359.5 896.1L359.5 896.1L359.7 951.8L360.2 908.8L360.4 957.8L360.8 950.8L361 898.9L361.3 896.9L361.5 953.2L361.5 953.2L361.7 905.5L362.1 907.7L362.2 954.2L362.8 904.8L363 949.7L363 949.7L363.2 899.7L363.5 902.2L363.8 949L364.1 953.8L364.3 908.7L364.7 901.6L364.8 955.7L365.2 950.5L365.4 899.1L365.8 902.2L366 950.2L366.3 952.4L366.5 904.4L366.7 951.2L366.9 902.6L367.3 896.6L367.5 948.3L367.8 949.9L368 903.2L368 903.2L368.2 951.7L368.5 952.9L368.8 904.8L369.3 946.5L369.5 898.9L369.5 899.1L369.7 953.8L370.2 904.2L370.4 953.5L370.6 902.7L370.8 949.2L371.1 952.9L371.3 898.9L371.7 898.7L371.9 952.1L372 901.2L372.2 951.3L372.6 954.3L372.8 903.9L373.2 899.3L373.4 949.1L373.5 895.4L373.7 942.8L374.3 900.9L374.5 952.3L374.8 953.7L375 906.8L375.2 952.9L375.4 896.9L375.6 948.7L375.8 897.4L376.3 953.4L376.5 904.9L376.5 904.9L376.7 955.6L377.1 952.7L377.2 902.4L377.6 896L377.8 951.9L378 898.5L378.2 947.3L378.7 906.2L378.9 953.3L379.3 952.5L379.5 899.6L379.7 946L379.8 897.8L380.2 898.8L380.4 950.5L380.8 953.2L381 904.7L381.1 953.8L381.3 903.1L381.7 897.3L381.9 948.6L382 895.3L382.2 949.5L382.8 901.9L383 952.5L383 952.2L383.5 902.3L383.5 899L383.7 948.8L384.3 899.7L384.5 950.6L384.6 901.3L384.8 950.4L385 904.2L385.2 954.1L385.6 953.2L385.8 895.8L386.3 944.9L386.5 898.6L386.5 898.6L386.7 953L387.2 904.6L387.4 951.4L387.8 952.1L388 905.4L388.2 946.5L388.3 898.5L388.5 946L388.7 900.5L389.1 903L389.3 952.4L389.7 952.7L389.8 909.4L390 947.7L390.2 901.3L390.6 902.1L390.8 945.4L391.3 900.8L391.5 952.3L391.7 906.8L391.9 955.4L392.2 945.7L392.4 896.8L392.6 946.5L392.8 898.1L393.2 899.1L393.3 954.7L393.5 903.8L393.7 951.7L394.1 953.1L394.3 903.6L394.8 944.7L395 895.4L395 895.4L395.2 944.1L395.8 901.5L395.9 953.9L396.3 954.1L396.5 896L396.7 947.2L396.9 895.2L397 946.4L397.2 899.3L397.6 898.6L397.8 948.4L398.2 952.3L398.3 902.5L398.5 950.3L398.7 901.3L399.1 893.1L399.2 944.4L399.8 900.6L400 957.1L400 957.1L400.2 905.6L400.8 951L400.9 897.6L401.1 946.1L401.3 899.3L401.7 891.2L401.9 946L402 898.9L402.2 952.5L402.6 948.5L402.8 904L403.3 945.6L403.5 897.3L403.7 947.9L403.9 895.8L404.2 901.1L404.5 948.6L404.6 901.2L404.8 954.3L405 901.3L405.2 950.3L405.5 947.3L405.8 898.6L406.3 949.9L406.5 890.2L406.5 892.6L407 945.7L407.2 904.1L407.4 953.5L407.8 951.1L408 900.5L408.1 949.6L408.3 898.9L408.7 896.8L408.9 953.1L409.1 898.9L409.2 944L409.8 908L410 951.3L410 951.3L410.2 905.6L410.8 947.5L410.9 897.2L411.1 947.2L411.3 897.4L411.6 896L411.8 946.8L412 896.9L412.2 950.2L412.8 899.2L413 951L413.1 897.2L413.3 953L413.7 949.3L413.9 899.6L414 947.7L414.2 893.9L414.6 894L414.8 941.6L415 900.2L415.2 948.3L415.7 899.3L415.9 955L416.3 950.1L416.5 902.5L416.7 949.1L416.8 898.2L417 946.5L417.2 895.2L417.8 941.3L417.9 892.4L418.3 900.6L418.5 947.4L418.7 900.8L418.9 951.6L419 903L419.2 949L419.6 948.6L419.8 903.9L420.2 896.9L420.4 947.6L420.5 893.9L420.7 941.5L421.2 898.3L421.5 947.8L421.7 899.9L421.8 949.3L422 903.1L422.2 953L422.6 950L422.8 903.6L423.3 944.6L423.5 900.1L423.7 943.8L423.9 896.1L424 943.8L424.2 895.5L424.6 894.5L424.8 948.4L425 899.7L425.5 949.2L425.5 951.4L425.7 900.3L426.1 900.9L426.3 946.7L426.8 896.7L427 946.1L427.2 897.3L427.4 947.8L427.8 942.4L428 893.8L428.3 895.8L428.5 944.3L428.7 900.3L428.9 948.7L429.2 948.9L429.4 900.1L429.6 950.2L429.8 903.5L430 949.5L430.2 902.6L430.7 947.5L430.9 900.2L431.1 943.9L431.2 897.9L431.6 893.5L431.8 940.9L432.2 943.6L432.4 894.7L432.8 901L432.9 946.1L433.1 901.4L433.3 948.2L433.5 901.4L433.7 949.8L434 954.7L434.2 901.6L434.8 947.7L435 892.5L435 894L435.1 941.1L435.7 897.5L435.9 941.4L436.2 942.6L436.4 898.5L436.8 896.2L437 949.4L437 949.4L437.2 900.8L437.5 897.9L437.8 952.6L438.3 899.2L438.5 950.1L438.5 950.1L439 898.5L439 894.2L439.2 941.5L439.6 946.4L439.8 891.3L440.2 895.9L440.3 944.7L440.5 897.5L440.7 942.2L441.2 898.9L441.5 950.4L441.6 900.6L441.8 950.6L442.2 947.3L442.4 898.1L442.5 949.8L442.8 901.6L443.3 942.2L443.5 899.4L443.7 947.4L443.8 894.5L444 941.3L444.2 890.2L444.6 897.9L444.8 940.5L445.3 896L445.5 943.4L445.7 898.3L445.9 945.7L446.1 899.1L446.2 946.9L446.6 951.3L446.8 905.6L447 950.2L447.2 902.5L447.7 945.4L447.9 894.9L448.1 944.5L448.3 900.8L448.5 939.9L449 889.7L449 889.7L449.2 944L449.8 889.3L450 943.8L450.1 895.2L450.3 944.6L450.7 947.5L450.9 898.3L451.1 948.1L451.2 901.3L451.8 954.2L452 902.8L452 902.8L452.5 945.7L452.5 951.3L452.7 897.8L453.3 943.6L453.5 894.3L453.7 944.6L453.8 893L454.2 892.3L454.4 942.8L454.8 939.2L455 892L455 900.7L455.1 945.7L455.7 892.8L455.9 944.3L456 901.8L456.2 948.3L456.6 952.1L456.8 901.3L457.2 900.2L457.3 949.1L457.7 946.7L457.9 896.1L458.3 895.7L458.5 944.5L458.5 942.2L459 890.2L459 890.2L459.2 937.1L459.6 941.8L459.8 890.4L460.1 893.4L460.3 939.9L460.5 893.6L460.7 942.4L461.2 900.1L461.4 952.9L461.6 903.3L461.8 950.5L462.2 951.1L462.3 902.5L462.7 901.3L462.9 953.2L463.2 946.4L463.5 899.2L463.8 897.7L464 946.2L464 946.2L464.2 890.8L464.8 938.5L464.9 895.2L465.1 939.5L465.3 891.1L465.7 892.7L465.9 942.7L466 892.3L466.2 939.6L466.8 896.7L467 943.4L467.2 900.1L467.4 946.1L467.7 951.5L467.9 899.4L468.1 952.5L468.2 901.6L468.6 900.3L468.8 947.9L469.2 951.9L469.4 895.8L469.8 898.3L470 941.7L470.3 941L470.5 888.2L470.5 888.2L470.7 937.6L471 938.6L471.2 891.8L471.8 939.8L472 892.2L472.3 894.5L472.5 943.3L472.7 895.3L472.9 947L473.1 900.6L473.3 952.7L473.6 948.8L473.8 904.9L474.2 899.2L474.4 949.8L474.8 949.8L474.9 898.2L475.1 945.9L475.3 899.4L475.7 894.2L475.9 940.5L476.2 941.2L476.4 890.7L476.6 939.2L476.8 893.2L477.2 891.1L477.3 936.3L477.5 894.4L477.7 939.2L478.2 895.3L478.5 941.5L478.6 890.7L478.8 938L479 894.7L479.2 946.3L479.8 901L479.9 947.5L480.1 904L480.3 947.8L480.7 946.8L480.8 903.1L481 949.2L481.2 901.5L481.8 946.2L482 898.4L482.2 942.3L482.3 892.5L482.5 940.4L482.7 891L483 890.4L483.2 939.8L483.8 886.7L484 941.6L484 941.6L484.2 890.3L484.5 892.4L484.8 936.8L485.1 943.9L485.3 896.6L485.7 893.1L485.8 943.4L486 899.8L486.2 943.6L486.6 949.1L486.8 903.1L487.3 946.4L487.5 898.9L487.5 898.9L487.7 945.3L488 941.3L488.2 901.9L488.6 896L488.8 940.6L489.2 939.9L489.3 893.6L489.5 943.5L489.8 892.3L490.1 891.1L490.3 931.7L490.6 940.6L490.8 889.5L491 938.6L491.2 895.5L491.6 888.8L491.8 934.5L492.3 891.1L492.5 940.6L492.5 940.6L492.7 893.1L493 895.8L493.2 943.1L493.8 899.4L494 945L494.2 900.9L494.3 948.8L494.7 949.9L494.9 897.6L495.1 946.3L495.2 902.4L495.8 944.3L496 894.3L496 894.3L496.2 937.8L496.6 945.5L496.8 891.3L497.3 937.5L497.5 887.1L497.5 887.1L497.7 932.1L498.2 888.1L498.4 934.2L498.8 932.8L499 888.3L499 888.3L499.5 933.9L499.8 888.9L499.9 940.5L500.1 892.4L500.3 937.1L500.8 894.4L501 941L501.2 896.6L501.4 943.2L501.8 941.7L502 898.4L502.3 903.5L502.5 949.4L502.5 949.4L502.7 898.5L503.2 943.6L503.4 898.5L503.8 894.5L504 943.8L504.2 894.7L504.3 942.3L504.7 933.7L504.9 891.5L505.2 888.8L505.5 935.2L505.8 933.6L506 888.2L506.2 932.8L506.4 884.1L506.6 930.1L506.8 884.6L507.1 889.5L507.3 932.2L507.7 933.9L507.8 884.5L508 936L508.2 890.4L508.6 890L508.8 942L509.3 894.1L509.5 945.4L509.5 945.4L509.7 900.3L510.1 898.9L510.2 946.7L510.8 898.4L511 946.5L511 946.5L511.2 899.7L511.5 891.6L511.8 939.7L512.1 940.9L512.3 888.6L512.5 937.4L512.7 892.7L513.2 928.1L513.4 891.4L513.8 888.2L514 935.4L514.3 930.2L514.5 882.4L514.5 882.4L514.7 929.3L515.2 883L515.5 933.8L515.6 882.7L515.8 929.7L516 886.1L516.2 932.7L516.7 891.1L516.9 940.9L517.1 889.5L517.3 935.4L517.8 894.5L518 939.8L518.2 894.3L518.4 942.3L518.6 896.3L518.8 940.8L519.1 943.3L519.3 895.2L519.7 896.4L519.9 943.8L520.1 897.5L520.2 939.8L520.6 942.3L520.8 895.4L521 939L521.2 894.2L521.7 931.5L521.9 887L522.1 931.1L522.2 888.4L522.7 883.1L522.8 925.3L523 883.8L523.2 928.4L523.6 928L523.8 882.5L524.1 880.7L524.3 924.2L524.7 930.9L524.9 880.8L525.2 885.2L525.4 933.1L525.6 886.3L525.8 930.5L526 889L526.2 933.9L526.5 939.2L526.7 897L527.3 942.2L527.5 893.4L527.5 895.5L527.6 940.5L528.2 897.1L528.4 942L528.6 896.5L528.8 941.4L529.1 944.1L529.3 897L529.5 942L529.7 892.7L530.2 938.1L530.5 891.8L530.6 936.3L530.8 892.1L531 934.5L531.2 886.8L531.5 883.8L531.7 926.1L532.3 885.5L532.5 925L532.6 879.4L532.8 920.6L533.2 931L533.4 883.7L533.6 925.4L533.8 880.8L534.3 919.2L534.5 878.8L534.5 878.8L534.7 927.1L535 928.5L535.2 887.7L535.8 930.3L536 883.4L536 883.4L536.5 931.8L536.8 892.9L536.9 939.6L537.2 937.9L537.5 891.9L537.8 893.4L538 939L538.2 897.3L538.4 946.8L538.6 895.2L538.8 940.3L539.3 895.5L539.5 940.7L539.7 898.9L539.9 941.9L540.2 937.5L540.4 893.3L540.6 936.5L540.8 889.4L541 930.4L541.5 888.9L541.7 926.6L541.9 883.2L542.1 925.5L542.2 888.3L542.8 922.2L543 879.7L543.2 922.2L543.4 878.6L543.6 923.2L543.7 878.3L544.1 879.3L544.3 923.2L544.7 925.3L544.8 879.4L545 926.1L545.2 882L545.6 880.7L545.8 923.6L546.3 882.4L546.5 929L546.5 929.5L546.7 884.5L547.1 884.5L547.2 929.3L547.6 932.7L547.8 892.5L548.2 894.3L548.4 938.5L548.8 936.9L548.9 891.4L549.1 939.5L549.3 898.8L549.7 895.6L549.8 940.7L550.2 941L550.4 895.1L550.8 894.6L551 938.3L551.3 934.7L551.5 893.2L551.7 935.1L551.9 893L552 932.2L552.2 886.8L552.8 929.3L553 884.2L553.2 924.6L553.4 882.3L553.5 925.5L553.8 883.9L554.3 921.6L554.5 881.1L554.7 918.3L554.9 877.4L555.2 877L555.4 917.9L555.6 875.9L555.8 918L556.3 876.3L556.5 919.1L556.7 880.5L556.9 920.1L557.1 878.5L557.2 921.3L557.8 881.9L558 927.4L558 927.4L558.2 882.7L558.5 883.9L558.8 926.1L559.3 888.4L559.5 930.9L559.7 890.5L559.8 933.1L560 893L560.2 931.4L560.8 895L561 937.9L561.1 893.9L561.3 938.4L561.7 935.1L561.9 893.4L562 939.1L562.2 896L562.6 894.5L562.8 938.6L563.2 937.6L563.3 895L563.5 935.2L563.8 894.4L564.1 890.5L564.3 934.2L564.7 930.4L564.8 885.4L565 929.3L565.2 887.1L565.8 925.2L566 883.2L566.1 921.1L566.3 879.9L566.7 878.2L566.9 920.6L567.2 918.2L567.4 877.7L567.6 916.3L567.8 874.6L568 915.7L568.2 873.6L568.5 874.6L568.7 916.5L569.3 875.9L569.5 919.4L569.6 871.8L569.8 919L570 875.4L570.2 921L570.8 877.8L571 919.6L571.3 921.3L571.5 880.9L571.5 880.9L571.7 923L572.2 884.1L572.4 926.3L572.6 885.6L572.8 929.2L573.2 931.4L573.3 889L573.7 889.8L573.9 939.7L574.2 935.6L574.5 892.1L574.8 891.9L575 937.3L575 937.3L575.2 893.9L575.8 938.7L575.9 896.1L576.1 937.4L576.3 892L576.5 936.7L576.7 894.2L577 891.8L577.2 934.7L577.8 891.8L578 932L578.2 886.9L578.3 933.4L578.7 933.5L578.9 887.2L579.1 930.5L579.2 886.4L579.8 927.5L580 880.9L580 880.9L580.2 926.5L580.5 924.2L580.8 879.3L581.3 922L581.5 877.5L581.7 920L581.8 874.9L582 919L582.2 875.6L582.8 915.5L583 873.1L583.2 913.9L583.3 870.8L583.5 913.1L583.7 872.7L584.1 871L584.2 915.5L584.8 871.7L585 914.7L585 914.7L585.2 872.8L585.5 872.7L585.8 916.5L586.1 917.7L586.3 870.2L586.7 875.4L586.9 917.6L587 877L587.2 918.8L587.8 875.5L588 923.1L588.2 881.3L588.3 925.7L588.5 882.7L588.7 925.5L589.2 882.2L589.5 926.7L589.6 878.6L589.8 925.6L590 882L590.2 926.4L590.8 886.2L590.9 931.4L591.1 888.9L591.3 931.9L591.8 887.9L592 930.3L592.2 890.4L592.4 932.9L592.6 888.7L592.8 933.4L593.1 934.5L593.3 892L593.7 892.2L593.9 937.7L594.1 891.1L594.2 937.2L594.6 938.5L594.8 890.7L595.2 892.1L595.4 936.2L595.5 889.6L595.8 935.1L596.1 936L596.3 892.7L596.7 889.6L596.8 935.9L597.2 937.2L597.4 893.2L597.6 936.5L597.8 892.5L598.3 936.8L598.5 891.1L598.7 930.2L598.9 890.3L599.2 889.3L599.4 934.5L599.6 889.9L599.8 934.1L600 890L600.2 931.2L600.5 933.8L600.7 890.6L601.3 931.2L601.5 886.5L601.6 928.4L601.8 888L602.2 885L602.4 929.5L602.6 883.6L602.8 927.7L603.1 927.1L603.3 883.7L603.7 881.1L603.9 926.1L604.2 922.2L604.4 876.5L604.6 922.3L604.8 877.8L605.2 875.7L605.3 920L605.7 916.3L605.9 872.4L606.1 917.9L606.3 871.6L606.7 868.8L606.8 915.3L607 867.6L607.2 912.8L607.6 911.9L607.8 868.6L608.3 912.5L608.5 868.4L608.5 868.4L608.7 912.5L609.2 871.5L609.4 914.3L609.6 872L609.8 917.8L610 874.1L610.5 918L610.7 875.3L610.9 923.4L611.1 878.9L611.2 922.8L611.8 881.6L612 929.1L612 929.1L612.2 884.3L612.6 884.6L612.8 931.9L613.3 885L613.5 932.6L613.5 932.6L613.7 886.8L614.2 928.9L614.4 884.7L614.6 924.4L614.8 881.9L615 923.2L615.5 876.3L615.7 919.7L615.9 870.3L616.1 916.8L616.2 868.6L616.8 913.2L617 867.4L617.2 911L617.4 863.6L617.8 867.4L618 913.7L618.1 869L618.3 916L618.7 916.8L618.8 873.6L619.2 879.8L619.4 923.1L619.6 880.3L619.8 927.2L620.2 932.2L620.3 885.1L620.5 926.3L620.7 878.3L621.2 922.4L621.5 876L621.8 870.7L622 916.4L622 916.4L622.2 866.9L622.8 909.7L622.9 866.7L623.3 866.3L623.5 915.7L623.7 875.7L623.9 921.6L624 878.4L624.2 923.6L624.8 883.2L625 927.1L625.2 879.2L625.3 923.3L625.7 920.1L625.9 869.8L626.1 916.3L626.2 866.8L626.8 914.3L627 865.3L627 865.3L627.2 910L627.8 873.7L627.9 922.7L628.1 875.9L628.3 927.6L628.5 882L628.7 928.9L629.2 876.1L629.4 922.4L629.8 914.2L630 868.7L630.3 866.7L630.5 913.3L630.7 865.6L630.9 915.9L631 872.6L631.2 918.8L631.8 878.3L632 926.2L632 926.2L632.2 876.7L632.7 912.4L632.9 868.8L633.1 912.9L633.3 863.3L633.7 868.4L633.8 918.4L634 874.1L634.2 923.8L634.6 925.9L634.8 876.6L635 913.8L635.5 866.6L635.7 908.1L635.9 861.9L636.2 868L636.4 920.4L636.6 872.6L636.8 921.5L637.2 919.9L637.4 871.5L637.5 913.1L637.8 860.9L638.3 914.1L638.5 866.8L638.5 871.9L639 922.7L639 923.2L639.2 872.4L639.6 862.6L639.8 908.5L640.3 871.6L640.5 920.6L640.5 920.6L640.7 876L641.2 910.6L641.4 864L641.8 873L642 918.9L642.2 874.2L642.3 919.5L642.7 910.9L642.9 867.2L643.2 866.8L643.5 917.3L643.6 867.7L643.8 920.2L644.2 917.9L644.4 866.2L644.8 869.6L645 916.7L645.1 867L645.3 921.9L645.7 915.5L645.9 866.5L646.2 868.4L646.5 916.7L646.8 920.2L647 871.5L647.2 920.8L647.3 869.9L647.5 912.9L647.8 859.9L648.2 918.6L648.5 868.7L648.7 923L648.8 871.2L649 914.2L649.2 862.5L649.5 866L649.8 914.4L650.1 924.6L650.3 873.8L650.5 914.8L650.7 861.3L651 864.4L651.2 914.9L651.6 918.1L651.8 871.9L652.3 917.2L652.5 863.9L652.5 862.2L652.7 912.3L653.1 921.5L653.2 875.1L653.8 910.9L654 862.2L654 862.2L654.2 912.4L654.8 873.2L654.9 921.2L655.3 913.6L655.5 867.4L655.7 911.7L655.9 867.4L656.2 869.5L656.4 923.3L656.8 916.2L657 869.5L657.2 911.2L657.3 868.8L657.7 869.2L657.9 921.6L658.2 917.1L658.5 873.4L658.8 862.7L659 914.2L659.2 868.2L659.4 918.3L659.5 873L659.8 918.1L660.1 915.7L660.3 860.5L660.7 864.8L660.8 914.3L661 869.1L661.2 919.4L661.6 917.1L661.8 867.1L662.1 868.2L662.3 915.3L662.7 922.6L662.9 875.9L663.1 916.7L663.2 870.7L663.6 864.6L663.8 915.2L664 868.9L664.2 917.2L664.5 921.6L664.8 868.8L665.1 863.7L665.3 909.2L665.5 869.4L665.7 917.9L666 917.8L666.2 876.1L666.8 915L667 866.6L667.3 871.6L667.5 919.5L667.5 919.5L667.7 874.2L668.1 862.2L668.2 912L668.8 870.6L669 921.7L669 921.7L669.2 873.5L669.7 912.1L669.9 861.9L670.3 868.8L670.5 918.4L670.8 923.9L671 871.8L671.2 916.3L671.4 863.7L671.8 867.4L672 918.5L672.3 919.4L672.5 868.6L672.7 911.6L672.9 865.9L673.2 864.8L673.5 913.3L673.8 916.9L674 870.8L674.2 919.4L674.4 869.5L674.5 913.1L674.7 863.3L675.3 921.3L675.5 870.6L675.7 918L675.9 868.3L676.2 861.3L676.4 911L676.6 868.2L676.8 915.1L677.3 869.1L677.5 919.1L677.5 919.1L677.7 863.1L678 867L678.2 919.9L678.6 921.7L678.8 876.4L679 914L679.2 860.8L679.8 915.2L679.9 864.4L680.3 872.6L680.5 919.3L680.5 913L680.7 865L681 865.1L681.2 914.7L681.6 919.7L681.8 871.5L682.3 913.8L682.5 856.7L682.5 856.7L683 910.3L683 922.4L683.2 871.1L683.8 911.2L684 863.5L684 866.5L684.5 909.5L684.7 872.4L684.9 915.7L685.2 911.2L685.5 863.1L685.5 864.5L685.6 912L686.2 873.8L686.4 917.9L686.8 918.1L686.9 865.2L687.3 862L687.5 912.3L687.7 871.4L687.9 919.2L688.2 915.1L688.4 864.6L688.8 860.7L689 910.7L689.2 863.4L689.3 925.3L689.7 916.1L689.9 867.5L690.2 865.3L690.5 912.2L690.6 863.3L690.8 915.8L691.2 917L691.4 867.2L691.8 864.4L691.9 911.4L692.1 864.1L692.3 914L692.7 914.4L692.8 865.4L693 916.6L693.2 865.9L693.6 864.6L693.8 915.4L694.2 918.8L694.3 871.7L694.7 868.2L694.9 915.2L695.1 863.4L695.2 914.2L695.7 923L695.8 871.9L696 918.9L696.2 867.9L696.6 859.5L696.7 914.9L697.1 916.2L697.3 866.8L697.5 914.1L698 868.3L698 863.5L698.2 911.1L698.8 870.4L699 916.7L699.3 917.3L699.5 865.4L699.7 908L699.9 859.9L700.2 870.5L700.5 918.4L700.8 914.3L701 863.3L701 863.3L701.2 913.3L701.8 871.3L701.9 919.7L702.3 913.7L702.5 861.6L702.5 861.6L702.7 908.3L703.2 864.8L703.4 917.7L703.8 912.4L704 866.6L704.1 913.5L704.3 863.3L704.7 863.6L704.9 912.5L705.2 919.9L705.5 870.8L705.6 910.4L705.8 863.7L706.2 864.8L706.4 916.3L706.7 917.6L706.9 865.3L707.3 863L707.5 911.5L707.7 862.7L707.8 917.2L708 865.7L708.2 917.8L708.6 918.4L708.8 865.3L709.1 864.1L709.3 915L709.7 916.5L709.9 865.1L710 909.3L710.2 862.6L710.6 858.1L710.8 911.9L711.2 918.4L711.4 862.9L711.5 915.4L711.7 865.1L712.1 859.1L712.3 911.8L712.8 869.6L713 915L713 915L713.2 865L713.6 862.2L713.8 903.4L714.1 916.7L714.3 872.5L714.5 914.2L714.7 868.5L715 862.3L715.2 903.7L715.6 919.1L715.8 867.3L716 914.6L716.2 867.8L716.7 911.7L716.9 862.8L717.2 870.7L717.5 916.6L717.8 915.9L718 861.2L718 861.2L718.2 906.5L718.8 866.2L719 916.5L719.3 915.8L719.5 862.6L719.5 862.6L719.7 911.9L720.2 866.9L720.4 914.4L720.6 867.4L720.8 914.9L721.2 910.5L721.3 861.9L721.7 867.1L721.9 914.9L722.2 912.2L722.5 862.9L722.7 911.6L722.8 856.1L723.2 863.1L723.4 915.3L723.8 911.9L723.9 865L724.3 856.2L724.5 910.3L724.7 865.1L724.9 914.7L725.2 916.7L725.4 860.4L725.6 912.3L725.8 860L726.2 862.9L726.3 914.6L726.7 914.5L726.9 868.1L727.3 860.2L727.5 916.4L727.6 861.3L727.8 913.4L728 867.4L728.2 913.9L728.5 916.3L728.8 865L729.1 864.1L729.3 911.3L729.7 914.2L729.9 868.7L730 915.8L730.2 862.1L730.6 860.7L730.8 910.4L731 868L731.2 919L731.5 910.2L731.7 863.7L732.1 859.6L732.2 911.1L732.6 915.8L732.8 871L733.2 860.9L733.4 911L733.5 859.8L733.8 915.2L734.1 919.5L734.3 867.7L734.5 915.9L735 861.3L735 854.8L735.2 909.7L735.8 868.5L736 915.5L736.3 910.6L736.5 860.2L736.5 860.2L736.7 907.9L737.1 914.6L737.2 870.2L737.8 905.2L738 860.5L738.2 910.5L738.4 857.6L738.8 869L738.9 918.1L739.3 908.8L739.5 860.7L739.7 910.7L739.8 857.3L740.2 867.1L740.4 914.8L740.8 910L741 861.8L741.3 862.5L741.5 908.9L741.7 865.6L741.9 916.8L742.2 911.9L742.5 862L742.6 907.3L742.8 859.3L743.2 861.9L743.4 917.7L743.7 914L743.9 863L744.3 853.3L744.5 910.6L744.7 866.5L744.8 914.9L745.2 913.1L745.4 861.7L745.6 911.5L745.8 862.2L746.1 863.6L746.3 914.5L746.7 915.5L746.9 863.1L747.2 853.6L747.4 906.5L747.6 864.2L747.8 914L748.2 917.6L748.4 868L748.5 908L748.7 859.6L749.3 912.3L749.5 865.9L749.6 913.8L749.8 864.8L750 906.5L750.2 864.5L750.6 855.1L750.8 910.8L751.3 866.2L751.5 910.4L751.5 910.1L751.7 859.7L752 862.8L752.2 912.9L752.6 912.7L752.8 865.1L753 910.2L753.2 856.8L753.5 858.1L753.7 912.2L754.1 918.9L754.3 862.4L754.8 908.1L755 857.3L755 857.3L755.2 909.3L755.6 914.3L755.8 864.1L756.3 905.9L756.5 856L756.5 856L757 906.6L757 917.1L757.2 867.2L757.8 906.5L758 858.9L758 861.3L758.5 914.9L758.5 918.4L758.7 865.8L759.2 904.2L759.5 859.9L759.8 862.5L760 914.8L760 914.8L760.2 866.2L760.8 906.3L761 857.1L761.3 866.7L761.5 914.4L761.7 866.4L761.9 914.6L762.2 911.8L762.4 859.1L762.8 864L763 918L763 915.1L763.5 862.8L763.7 905.1L763.9 849.6L764.3 864.3L764.5 917.6L764.6 864L764.8 911.5L765.2 903.8L765.4 856.1L765.8 861.7L765.9 916.5L766.3 913.7L766.5 861L766.7 904.7L766.9 852.9L767.2 858.8L767.4 911.6L767.8 913.2L768 861.4L768.2 907.5L768.3 856.7L768.7 858.4L768.9 913.3L769.2 916.3L769.5 864.6L769.6 907.3L769.8 857.6L770.2 857.8L770.4 914.8L770.8 917.7L771 857.1L771.3 851.1L771.5 908.5L771.7 856.7L771.8 910.2L772 858.1L772.2 914.7L772.6 905.9L772.8 857.1L773.2 859.7L773.3 912.2L773.7 911.6L773.9 862.2L774.1 906.9L774.2 858L774.6 863.8L774.8 910.2L775.2 910.7L775.4 861L775.5 910.7L775.8 860.4L776.1 860.1L776.3 908.3L776.7 912.9L776.8 859.8L777 903.1L777.2 860.3L777.6 855.6L777.8 913.2L778.1 914.3L778.3 862.4L778.5 906.7L778.7 859L779 861.7L779.2 914L779.6 918.8L779.8 862.7L780 908.2L780.2 857.6L780.5 862.1L780.7 906.2L781.1 911.1L781.3 863L781.7 854.7L781.8 907.4L782 858.5L782.2 910.3L782.6 915.7L782.8 867L783.3 902.1L783.5 855.7L783.5 855.7L783.7 910L784 913.7L784.2 862.6L784.8 903.4L785 854.5L785 854.5L785.2 910.7L785.5 913.7L785.7 865.4L786.3 907.4L786.5 857.7L786.5 862.7L786.7 913.2L787 911.6L787.2 861.2L787.6 858.8L787.8 903.6L788.3 862.3L788.5 916.4L788.5 916.4L788.7 860.3L789.2 902.6L789.4 854.4L789.6 910.4L789.8 862.1L790 909.3L790.2 859.8L790.5 859.2L790.7 904L791.2 863.6L791.5 912.1L791.8 910.8L792 860.4L792.2 904.5L792.4 854.3L792.8 862.5L793 910.8L793.3 908.3L793.5 859.8L793.5 859.8L793.7 907.4L794.2 863.9L794.4 911L794.8 910L795 862.1L795.4 858.7L795.5 905.4L795.7 862.4L795.9 915.7L796.2 907.7L796.5 859.2L796.8 851.3L797 910.5L797.2 865.7L797.4 912L797.8 909.6L797.9 857.3L798.3 857.1L798.5 908.5L798.7 862.8L798.9 915.4L799.2 907.7L799.4 855.7L799.8 856.2L800 908.2L800.2 862.6L800.3 910.4L800.7 909.4L800.9 855.6L801.1 909L801.2 853L801.8 911.3L802 861.5L802.2 912.5L802.4 854.6L802.8 861.1L802.9 909.3L803.3 911.4L803.5 861L803.7 912.5L803.9 852.3L804.2 857.8L804.4 909.8L804.8 912.1L805 859.7L805.2 904.5L805.3 856.9L805.7 856.9L805.9 909.6L806.2 908.8L806.5 864.6L806.8 854.2L807 905.9L807.2 852.6L807.4 908.1L807.8 915.1L807.9 860L808.1 909L808.3 860.2L808.7 854.3L808.9 904L809.2 909.3L809.4 856.9L809.8 858.4L810 908L810.1 853.1L810.3 909.6L810.7 911.7L810.9 860.2L811.1 908.9L811.2 855.7L811.6 856.9L811.8 906.5L812.2 910L812.4 859.8L812.5 907.6L812.8 856L813.1 859.8L813.3 914.1L813.7 910.4L813.8 858.5L814.2 851.6L814.4 904L814.6 856.1L814.8 908.2L815.1 914.7L815.3 859.6L815.5 907.8L815.7 856.3L816.1 861.2L816.2 910.8L816.6 909.5L816.8 861.7L817 905.7L817.2 859.6L817.8 911.6L817.9 858.5L818.1 908.6L818.3 858.2L818.5 901.9L818.7 855.2L819 855.6L819.2 912.9L819.6 909.7L819.8 859.7L820.1 856.3L820.3 904.1L820.5 858.9L820.7 910.1L821.1 912.1L821.2 855.4L821.6 853.1L821.8 903.1L822 861.5L822.2 913.4L822.5 913.3L822.7 859L823.1 850.6L823.3 905.1L823.5 865.6L824 912.3L824 912.3L824.2 853.4L824.6 852.8L824.8 907.6L825.1 912.5L825.3 861.6L825.5 908.7L825.7 861.1L826 855.1L826.2 902.8L826.6 909L826.8 863L827.2 856.5L827.3 902.7L827.5 854.7L827.8 905.9L828.1 911.7L828.3 865L828.8 906.8L829 853.7L829 853.7L829.2 906.6L829.6 910.3L829.8 862L830.3 902.5L830.5 856.1L830.5 856.1L830.7 905.9L831 912.9L831.2 862.6L831.6 855.9L831.8 902.8L832 857.4L832.2 908.6L832.5 908.1L832.7 857.8L833.1 853L833.2 901.6L833.8 859.9L834 914.6L834 914.6L834.2 858.2L834.8 903.3L834.9 850.1L835.3 865.8L835.5 909.6L835.5 909.6L836 857.7L836 852.6L836.2 900.2L836.8 861.9L837 912L837 906.9L837.5 857.2L837.5 854.8L837.7 905.4L838.2 864.7L838.5 909.9L838.8 903L839 851.1L839 851.1L839.2 905.4L839.6 910.4L839.8 864.1L840.3 903.5L840.5 855.4L840.5 855.4L840.7 907.6L841 912.5L841.2 864.5L841.8 906.2L842 852.1L842 854.5L842.5 907.6L842.5 909.9L842.7 861.6L843.1 857L843.2 897.6L843.8 858.8L844 909.8L844 909.8L844.2 863.7L844.8 904.8L844.9 855.1L845.3 858.7L845.5 911.2L845.5 909.4L845.7 861L846.2 901L846.4 854.5L846.8 859.6L847 913.9L847 907.6L847.5 853.1L847.5 853.1L847.7 910.2L848.2 860.4L848.5 911.4L848.8 906.8L849 852.5L849 852.5L849.2 902.4L849.5 911.7L849.8 862.1L850.3 904.9L850.5 852.9L850.8 852.3L851 906.9L851.2 860.1L851.4 912.1L851.8 906.6L852 852.5L852.3 853.8L852.5 908.9L852.5 909.7L852.7 862.6L853.2 900.8L853.4 855.6L853.8 859.2L854 909.9L854 909.9L854.2 861.6L854.5 855.5L854.7 903.8L855.3 858L855.5 909.3L855.8 908.8L856 855.1L856 851.7L856.2 902.8L856.8 857.8L857 914.5L857.3 908.2L857.5 860.7L857.7 900.3L857.9 853L858.2 861.6L858.5 912.7L858.8 906.3L859 855.1L859.2 905L859.3 848.4L859.7 860.9L859.9 915.8L860.3 900.9L860.5 854.1L860.5 854.1L861 908.6L861.2 861.3L861.4 908.8L861.8 904L862 851.4L862.3 857.9L862.5 909.7L862.5 909.7L862.7 862.8L863.2 904.1L863.4 851L863.8 858.7L864 910.2L864 910.2L864.2 855.7L864.7 901L864.9 851.3L865.3 858.6L865.5 910.8L865.8 910.6L866 859.3L866.2 903.9L866.4 856.6L866.8 858.1L866.9 913.2L867.3 904.9L867.5 855.7L867.7 901.3L867.9 851.7L868.2 860.6L868.4 913.6L868.8 907.2L869 851.5L869 851.5L869.2 903.6L869.7 862L869.9 910.1L870.3 903.4L870.5 853.6L870.5 855.6L871 913.7L871 913.7L871.2 862.1L871.8 900.7L872 855L872.3 855L872.5 914L872.5 914L873 863L873.2 898.6L873.4 851.5L873.8 857.3L874 909.4L874.3 908.5L874.5 855.5L874.5 851.2L874.7 900.2L875.2 858.7L875.5 912.5L875.8 910.7L876 853.5L876 853.5L876.2 900.6L876.8 858L876.9 912.3L877.3 906.3L877.5 853.5L877.7 906.3L877.8 847.6L878.2 857.1L878.4 910.7L878.8 910.3L879 852.2L879 852.9L879.5 904.9L879.7 859.5L879.9 910.5L880.1 851.6L880.2 904L880.8 857.5L881 906.2L881.2 861.2L881.4 913.1L881.8 899L881.9 853.7L882.3 857.5L882.5 908.8L882.5 908.8L883 859.9L883 853.7L883.2 897.6L883.8 858L884 912.4L884.3 903.3L884.5 852.9L884.5 852.9L884.7 911.3L885.2 858.9L885.5 916.1L885.6 856L885.8 904.7L886.2 899.2L886.4 856.1L886.5 911L886.8 861.2L887.3 899.2L887.5 851.5L887.5 852.6L888 901L888 907.7L888.2 857.6L888.6 851.7L888.8 905.1L889.3 853.6L889.5 913.6L889.5 913.6L889.7 855.4L890.1 850.4L890.2 901.5L890.8 859.5L891 907.3L891.3 906.5L891.5 858.6L891.5 850.8L891.8 902.8L892.3 858.4L892.5 914.6L892.5 907.4L893 854.8L893 854.8L893.2 901.2L893.8 859.3L894 905.8L894.3 902.4L894.5 851.3L894.5 851.3L894.7 908.8L895.2 858.7L895.4 908.6L895.6 853.2L895.8 899.2L896 856.3L896.2 906.9L896.5 909L896.7 863.3L897.3 901.4L897.5 853.8L897.7 906.5L897.8 855.9L898 904.9L898.2 853.7L898.6 848.8L898.8 899.5L899.3 857.8L899.5 913L899.5 913L899.7 857L900 852.7L900.2 901L900.6 910.2L900.8 861.5L901 908L901.2 855L901.6 852.2L901.8 904.5L902.1 857.3L902.3 911L902.8 902.2L903 850.2L903 850.2L903.2 905.9L903.7 908.3L903.9 859L904.1 901.9L904.4 847.5L904.7 903.4L904.9 858.4L905.2 909.9L905.5 854.9L905.8 901.7L906 856.6L906 856.6L906.3 908L906.6 858.1L906.9 903.6L907.2 848.5L907.5 905.1L907.5 904.6L907.8 858.8L908.1 907.5L908.4 850.5L908.8 904L909 857.5L909 855.2L909.4 911L909.7 852.6L910 904L910 908.3L910.4 858.1L910.8 909.7L911 854.4L911 852.5L911.4 906.5L911.5 899.5L911.8 857.4L912.2 912.2L912.5 853.2L912.5 850.9L913 903.6L913 903.5L913.3 860L913.7 909.2L914 861.2L914.1 846.2L914.5 910.2L914.5 912.3L915 860.9L915 862.6L915.4 905.6L915.5 890.8L915.8 854.9L916.2 911L916.5 866.9L916.7 849L917 901.4L917.1 909.4L917.5 858.1L917.6 855.5L918 905.3L918 905.8L918.5 850.9L918.5 853.1L919 908L919 908.8L919.5 852.7L919.5 852.7L920 911L920 908.9L920.5 855.4L920.5 856.3L920.9 905.6L921 902.5L921.5 853.7L921.5 854.4L922 908.1L922 908.1L922.5 846.9L922.5 846.9L923 909.9L923 912.4L923.5 854.3L923.7 850.2L924 902.6L924.1 909.9L924.5 876.3L924.7 853.5L925 880L925 880L925.3 905.1L925.5 893.7L925.8 854.4L926 862L926.5 902.9L926.5 902.9L927 854.8L927 854.8L927.5 901.3L927.6 906.9L928 877.5L928 877.5L928.3 853.8L928.5 867.6L928.9 910.2L929 906.8L929.5 853.2L929.5 853.7L930 898.3L930.2 909.9L930.5 884.5L930.5 884.5L930.8 852.3L931 857.5L931.5 910.3L931.5 910.3L932 872L932 872L932.4 854L932.5 858.9L933 905.3L933.1 906L933.5 884.2L933.5 884.2L934 855.5L934 855.5L934.5 884.4L934.5 884.4L934.8 909L935 903.7L935.5 869.1L935.5 869.1L936 848.6L936 852.2L936.5 901.2L936.5 901.2L936.8 914.8L937 904.3L937.5 861L937.5 861L937.7 852.5L938 860.2L938.5 890.7L938.5 890.7" fill="none" stroke="#00ff00" stroke-width="1.25" stroke-linejoin="round"/>
<path d="M937.5 861L937.5 861L937.7 852.5L938 860.2L938.5 890.7L938.5 890.7L939 908.4L939 906.1L939.5 881.7L939.5 881.7L940 849.8L940.1 849.3L940.5 872.5L940.5 872.5L941 906.4L941.2 910.1L941.5 902.6L941.5 902.6L942 877.1L942 877.1L942.5 853.5L942.7 849.6L943 864.4L943 864.4L943.5 902.1L943.5 902.1L943.9 910.7L944 909.5L944.5 887L944.5 887L945 857.7L945 857.7L945.5 851.8L945.6 850.6L946 878.4L946 878.4L946.5 909.1L946.5 909.4L947 903L947 903.7L947.5 886.3L947.5 886.3L948 859.1L948 859.1L948.5 847.8L948.5 847.8L949 871.9L949 871.9L949.5 897.8L949.5 897.8L950 907.8L950.2 910.4L950.5 904.2L950.5 904.2L951 876L951 876L951.5 853.3L951.5 854.4L951.8 859.2L952 855.7L952.5 873.9L952.5 873.9L953 904L953 903.1L953.2 912.9L953.5 909.5L954 894.4L954 894.4L954.5 873.2L954.5 873.2L955 849.6L955.1 849L955.5 856.3L955.5 856.3L956 878.7L956 878.7L956.5 900.8L956.5 900.8L956.8 912.8L957 910.9L957.5 897.5L957.5 897.5L958 868.1L958 868.1L958.5 853.7L958.9 850.5L959 858.7L959 858.7L959.5 879.3L959.5 879.3L960 905.1L960 905.1L960.4 911.6L960.5 910.2L961 898.1L961 898.1L961.5 870.1L961.5 870.1L962 850.9L962.1 849.1L962.5 858.2L962.5 858.2L963 875.6L963 875.6L963.5 900.5L963.5 900.5L963.9 914.2L964 913.9L964.5 894.9L964.5 894.9L965 875.2L965 875.2L965.5 854.2L965.5 854.2L965.8 849.4L966 852.9L966.5 874.9L966.5 874.9L967 900.4L967 900L967.5 908.8L967.7 913.4L968 905.6L968 905.6L968.5 876.5L968.5 876.5L969 858L969 858.5L969.3 851.9L969.6 852.2L970 865.2L970 865.2L970.5 895L970.5 895L971 910.6L971 910.6L971.5 903.8L971.6 905.2L972 888.5L972 888.5L972.5 862.9L972.5 862.9L972.9 847.1L973 851.7L973.5 862.2L973.5 861.5L974 880.2L974 880.2L974.5 903.5L974.5 903.5L974.9 914.7L975.1 911.3L975.5 893.2L975.5 893.2L976 872.4L976 872.4L976.5 851.4L976.8 847.7L977 854.9L977 854.9L977.5 874.2L977.5 874.2L978 896.4L978 895.9L978.5 912.6L978.7 916.4L979 905L979 905L979.5 879L979.5 879.4L980 860.7L980 860.7L980.5 850L980.5 848.9L981 862L981 862L981.5 888.6L981.5 888.6L981.9 904.8L982 902.1L982.5 913.5L982.5 913.3L983 898L983 898L983.5 867.3L983.5 867.3L984 855L984.3 850.8L984.5 855.4L984.6 853.8L985 869.5L985 869.5L985.5 898.9L985.5 898.9L986 907.4L986 907.4L986.1 911.7L986.5 908.5L987 887.2L987 887.2L987.5 861.7L987.5 861.7L988 851.3L988 851.3L988.2 857.2L988.5 856.5L989 877L989 877L989.5 902.6L989.5 902.6L990 909.5L990.1 909.5L990.5 904.4L990.5 904.4L991 881.1L991 881.1L991.5 856L991.5 856.1L991.9 851.2L992 852L992.5 860.7L992.5 860.7L993 883L993 883L993.5 909.1L993.7 907.3L993.9 911.9L994 909.5L994.5 901.7L994.5 901.7L995 878.4L995 878.4L995.5 851.9L995.6 851L996 853.8L996.2 853.5L996.5 861.8L996.5 861.8L997 887.5L997 887.5L997.5 907.3L997.9 910.6L998 906.3L998.2 907.4L998.5 900.5L998.5 900.5L999 874.1L999 874.1L999.5 853.9L999.7 851.2L1000 855.1L1000.2 852.4L1000.5 863.1L1000.5 863.1L1001 886.1L1001 886.1L1001.5 908.1L1001.6 904.5L1001.7 908.4L1002.2 909.2L1002.5 898.6L1002.5 898.6L1003 875L1003 875L1003.5 856.9L1003.5 856.9L1003.8 850.5L1004.2 852.3L1004.4 860.2L1004.5 859.7L1005 886.3L1005 886.3L1005.5 908.5L1005.8 907.6L1005.9 910.6L1006 909.6L1006.5 902.5L1006.5 902.9L1007 872.7L1007 872.7L1007.5 854.1L1007.6 855.5L1008 850.8L1008 850.8L1008.5 858.8L1008.5 858.8L1008.9 880.3L1009 879.8L1009.5 903.3L1009.7 902.3L1010 910.4L1010 910.9L1010.5 904L1010.5 904L1011 881.8L1011 881.8L1011.5 862.2L1011.5 862.2L1011.9 851.4L1012.1 849.2L1012.5 853.4L1012.5 853.4L1013 876.3L1013 876.3L1013.5 897.3L1013.5 897.3L1014 908.5L1014.3 912.4L1014.5 906.1L1014.5 906.2L1015 888.7L1015 888.7L1015.5 867.8L1015.5 867.8L1016 852.4L1016 852.4L1016.1 847L1016.5 850.3L1017 869.6L1017 869.6L1017.5 889.8L1017.5 889.8L1018 906.3L1018 906.3L1018.3 915.7L1018.5 914.1L1019 895L1019 895L1019.5 875.3L1019.5 875.8L1020 857.3L1020 857.3L1020.5 847L1020.5 847L1021 860L1021 860L1021.5 878.1L1021.5 878.1L1022 898.6L1022 898.6L1022.4 912.1L1022.7 911.4L1023 902.6L1023 902.9L1023.5 889.7L1023.5 889.7L1024 864.7L1024 864.7L1024.5 850.9L1024.8 848L1025 855.4L1025.1 852.5L1025.5 864.7L1025.5 864.7L1026 891.8L1026 891.8L1026.5 903.8L1026.5 903.8L1026.9 908L1027.1 909L1027.5 900.6L1027.5 900.6L1028 874.4L1028 874.4L1028.5 858.2L1028.5 858.2L1029 849L1029.2 848.3L1029.5 858L1029.5 858L1030 875.2L1030 875.2L1030.5 894.6L1030.5 894.6L1030.9 908L1031 906.7L1031.2 915L1031.5 910.2L1032 889.9L1032 889.9L1032.5 872.9L1032.5 872.9L1033 851.8L1033 852.9L1033.2 845.8L1033.6 847L1034 862.6L1034 862.6L1034.5 877.8L1034.5 877.8L1035 901.9L1035 901.9L1035.5 911.8L1035.7 911.8L1036 900.6L1036.2 903.7L1036.4 892.9L1036.5 896L1037 865.8L1037 865.8L1037.5 853.8L1037.5 855.2L1037.8 850.2L1038 852.3L1038.5 861L1038.5 861L1039 884L1039 884L1039.4 900L1039.5 898.5L1040 909L1040.1 913.2L1040.5 905.5L1040.5 905.5L1041 883.5L1041 883.5L1041.5 866.7L1041.5 866.7L1042 849.6L1042 849.6L1042.4 845.4L1042.5 846.1L1043 865.1L1043 865.1L1043.5 886.4L1043.5 884.1L1044 905L1044 905L1044.5 911.6L1044.5 911.6L1045 900.2L1045.1 901.1L1045.5 889.6L1045.5 889.6L1046 865L1046 865.6L1046.5 853.7L1046.5 854L1046.9 848.7L1047.1 849.3L1047.4 857.6L1047.5 857.2L1048 883.4L1048 883.4L1048.5 898.4L1048.5 898.4L1049 908.8L1049.3 910.7L1049.5 907.7L1049.5 907.7L1050 887.9L1050 887.9L1050.5 870.6L1050.5 871.2L1051 852.7L1051 852.7L1051.3 843L1051.5 846.6L1052 861.8L1052 861.8L1052.5 876.9L1052.5 876.9L1053 898.6L1053 898.6L1053.5 910L1053.6 911L1053.8 904.1L1054 905.5L1054.5 893.5L1054.5 893.5L1055 871.2L1055 871.2L1055.5 855.8L1055.5 855.8L1055.7 849.9L1056.1 847.3L1056.5 852.8L1056.5 852.8L1057 872.8L1057 872.8L1057.5 891.8L1057.5 891.8L1058 909.3L1058.2 908.3L1058.4 912.9L1058.5 910.8L1059 895.3L1059 895.3L1059.5 880.1L1059.5 880.3L1060 859.3L1060 859.3L1060.4 848.9L1060.6 848.1L1061 853.5L1061 853.3L1061.5 863.9L1061.5 863.9L1062 886.9L1062 886.9L1062.5 903.2L1062.5 903.2L1062.9 909.8L1063.3 913.2L1063.4 908.2L1063.5 908.5L1064 888.3L1064 888.3L1064.5 873.5L1064.5 873.5L1065 853.5L1065 853.5L1065.4 847.3L1065.5 847.8L1066 857.1L1066 857.1L1066.4 869.6L1066.5 869.3L1067 890.7L1067 890.7L1067.4 906.6L1067.5 904.1L1067.9 910.6L1068 910.4L1068.5 905.2L1068.5 905.2L1069 883.1L1069 883.1L1069.4 865.3L1069.5 867.7L1070 855.4L1070 855.9L1070.3 846.1L1070.5 846.5L1071 859L1071 859L1071.5 872.3L1071.5 872.3L1072 892.6L1072 892.6L1072.4 908.3L1072.7 906.3L1072.9 909.3L1073.3 910.8L1073.5 904.1L1073.5 904.1L1074 885.1L1074 885.1L1074.5 869.1L1074.5 869.1L1075 857.6L1075 857.6L1075.5 845.8L1075.5 845.9L1076 856.4L1076 856.4L1076.5 869.9L1076.5 869.6L1077 886.6L1077 886.6L1077.5 905L1077.5 905L1078 910L1078.1 906.8L1078.2 910.7L1078.5 909L1079 890.9L1079 890.9L1079.5 874.2L1079.5 874.7L1080 860.7L1080 860.7L1080.5 849.2L1080.9 847.5L1081 851.2L1081 849L1081.5 860.7L1081.5 860.7L1082 877.7L1082 877.7L1082.5 898.8L1082.5 898.3L1082.9 905.1L1083 904.5L1083.5 912.3L1083.5 912.7L1084 902.6L1084 902.6L1084.5 886.1L1084.5 886.1L1085 870.2L1085 870.2L1085.5 851.4L1085.7 846.5L1085.9 852.4L1086.2 849.4L1086.4 854.9L1086.5 851.7L1087 865L1087 865L1087.5 884.2L1087.5 884.2L1088 896.6L1088 896.6L1088.5 909.3L1088.5 909.3L1088.8 913.4L1089 909.6L1089.5 902.3L1089.5 902.3L1090 886.3L1090 886.3L1090.5 867.4L1090.5 867.4L1091 858.1L1091 858.1L1091.5 847.5L1091.7 844.9L1092 850.6L1092 850.6L1092.4 863.2L1092.5 863.1L1092.9 874.7L1093 874.2L1093.5 897.5L1093.5 897.5L1094 907.2L1094.1 905.1L1094.4 912.3L1094.8 910.2L1095 905.5L1095 905.9L1095.5 887.6L1095.6 889.5L1096 878.3L1096 878.3L1096.5 860.9L1096.5 860.9L1096.9 850.2L1097 847.8L1097.5 852.2L1097.7 848.9L1098 854.1L1098 854.1L1098.5 872.9L1098.5 872.9L1099 888.8L1099 888.8L1099.5 901L1099.5 901L1099.9 912.6L1100 912L1100.5 902.9L1100.5 902.9L1101 893.5L1101 893.5L1101.5 870.2L1101.5 870.2L1102 854.9L1102 854.9L1102.4 849.5L1102.6 849.8L1103 857.2L1103 857.2L1103.5 882.8L1103.5 882.8L1104 902.8L1104 902L1104.5 910.5L1104.5 910.5L1105 896L1105 896L1105.5 866.7L1105.5 866.7L1106 852.4L1106.3 848.5L1106.5 854.4L1106.5 853.5L1107 886.2L1107 886.2L1107.5 908.7L1107.7 913L1107.8 903.5L1108 905.3L1108.5 882.3L1108.5 882.3L1109 848.9L1109.2 846.1L1109.5 855.4L1109.5 855.4L1110 886.1L1110 886.1L1110.5 905.9L1110.6 911.1L1111 902.6L1111 903.1L1111.5 865.6L1111.5 865.6L1111.9 847.4L1112 849.5L1112.5 870.4L1112.5 870L1113 903L1113 903L1113.2 912.1L1113.5 907L1114 872.6L1114 872.6L1114.5 850.4L1114.5 850.6L1115 872L1115 872L1115.5 906.6L1115.7 913.8L1116 906.3L1116 906.3L1116.5 857.2L1116.5 857.2L1116.8 845.4L1117 853.1L1117.5 888.8L1117.5 888.8L1117.9 911.4L1118 911.3L1118.5 887.5L1118.5 887.5L1119 849.4L1119.1 848L1119.5 862.2L1119.5 862.2L1120 897.9L1120 897.9L1120.4 908.5L1120.5 905.4L1121 873.8L1121 873.8L1121.5 844.5L1121.5 844.5L1122 881.5L1122 881.5L1122.5 908.2L1122.5 908.1L1123 895.2L1123 895.2L1123.5 859.2L1123.5 859.2L1123.8 847L1124 851.7L1124.5 896.2L1124.5 896.2L1125 911.9L1125 911.9L1125.5 879.2L1125.5 879.2L1126 850.4L1126.1 847.7L1126.5 869.3L1126.5 869.3L1127 907.3L1127.1 912.8L1127.5 898.5L1127.5 898.5L1128 865.7L1128 865.7L1128.5 848.8L1128.5 849.2L1129 882.4L1129 882.4L1129.5 913.5L1129.5 913.5L1130 885.8L1130 885.8L1130.5 855.1L1130.7 850L1131 860.7L1131 860.7L1131.5 898.6L1131.5 898.6L1131.8 913.4L1132 909.6L1132.5 867.2L1132.5 867.2L1133 848.9L1133 849.8L1133.5 874.8L1133.5 874.8L1134 908.3L1134.2 913.2L1134.5 896.9L1134.5 896.9L1135 856L1135.3 848.1L1135.5 858.8L1135.5 858.8L1136 891.7L1136 891.7L1136.5 911.9L1136.5 911.9L1137 878.4L1137.3 851.6L1137.5 911L1137.5 911L1137.7 857.6L1138.1 858L1138.3 905.9L1138.5 860.5L1138.8 903.8L1139.2 901.5L1139.4 866L1139.5 899.4L1139.8 866.5L1140.2 867.8L1140.4 899.1L1140.8 900.4L1141 867.9L1141 867.9L1141.2 898.9L1141.6 898.7L1141.8 869.4L1142 898L1142.2 866.4L1142.7 867.1L1142.8 897.2L1143.2 894.5L1143.5 864.2L1143.7 891.8L1143.8 865.7L1144.1 891.2L1144.3 862L1144.7 858.3L1144.9 886.9L1145.3 886.2L1145.5 857.5L1145.7 885L1145.9 853.8L1146.1 882.8L1146.3 852.9L1146.5 882.7L1146.8 854.3L1147.1 850.4L1147.3 881.6L1147.5 855.5L1147.8 884.1L1148 856.1L1148.2 885.1L1148.8 862.3L1149 893.4L1149.2 864.1L1149.4 894.1L1149.6 870L1149.8 902.8L1150 874.9L1150.2 904.9L1150.8 882.9L1151 913.3L1151.2 887.1L1151.5 921.8L1151.6 892.7L1151.9 924.3L1152.1 896.2L1152.3 926.6L1152.7 931.2L1152.9 899.8L1153.3 903.6L1153.5 934.7L1153.7 903.9L1153.9 936.7" fill="none" stroke="#00ff00" stroke-width="1.9" stroke-linejoin="round"/>
</g>
<rect x="165" y="1098.5" width="989" height="1.1" fill="#dfdfdf"/>
<rect x="165" y="1149.5" width="989" height="1.1" fill="#dfdfdf"/>
<rect x="165" y="1200" width="989" height="1.1" fill="#dfdfdf"/>
<rect x="246.8" y="1072.5" width="1.1" height="160.7" fill="#dfdfdf"/>
<rect x="808.9" y="1072.5" width="1.1" height="160.7" fill="#dfdfdf"/>
<path d="M165.5 1099h10.2M1154.5 1099h-10.2M165.5 1150h10.2M1154.5 1150h-10.2M165.5 1200.6h10.2M1154.5 1200.6h-10.2M247.4 1072.5v10.3M247.4 1233.2v-10.3M809.4 1072.5v10.3M809.4 1233.2v-10.3" stroke="#262626" stroke-width="1.2" fill="none"/>
<rect x="165.5" y="1072.5" width="989" height="160.7" fill="none" stroke="#262626" stroke-width="1.2"/>
<text x="142.1" y="1105.7" font-size="21.98" textLength="13.3" lengthAdjust="spacingAndGlyphs" fill="#262626">0</text>
<text x="134.6" y="1156.7" font-size="21.98" textLength="20.8" lengthAdjust="spacingAndGlyphs" fill="#262626">-2</text>
<text x="134.6" y="1207.3" font-size="21.98" textLength="20.8" lengthAdjust="spacingAndGlyphs" fill="#262626">-4</text>
<clipPath id="c_te"><rect x="165" y="1071.9" width="989.6" height="162.1"/></clipPath>
<g clip-path="url(#c_te)">
<path d="M165 1140.7L170.6 1140.7L171.6 1134L187.5 1134L188.4 1127.4L189.4 1127.4L190.3 1134L191.2 1127.4L192.2 1127.4L193.1 1134L195 1134L195.9 1127.4L196.9 1127.4L197.8 1134L198.7 1127.4L199.7 1134L200.6 1134L201.6 1127.4L202.5 1134L203.4 1127.4L204.4 1134L205.3 1127.4L207.2 1127.4L208.1 1134L209.1 1134L210 1127.4L210.9 1127.4L211.9 1134L212.8 1127.4L213.7 1127.4L214.7 1134L215.6 1134L216.6 1127.4L233.4 1127.4L234.4 1120.7L235.3 1127.4L238.1 1127.4L239.1 1120.7L240 1127.4L240.9 1127.4L241.9 1120.7L242.8 1120.7L243.7 1127.4L245.6 1127.4L246.6 1120.7L247.5 1127.4L248.4 1127.4L249.4 1120.7L250.3 1120.7L251.2 1127.4L253.1 1127.4L254.1 1120.7L256.9 1120.7L257.8 1127.4L258.7 1120.7L259.7 1127.4L260.6 1120.7L261.6 1127.4L262.5 1120.7L263.4 1120.7L264.4 1127.4L265.3 1120.7L266.2 1127.4L267.2 1127.4L268.1 1120.7L310.3 1120.7L311.2 1114.1L312.2 1120.7L313.1 1120.7L314.1 1114.1L315.9 1114.1L316.9 1120.7L318.7 1120.7L319.7 1114.1L321.6 1114.1L322.5 1120.7L325.3 1120.7L326.2 1114.1L327.2 1120.7L328.1 1114.1L329.1 1120.7L333.7 1120.7L334.7 1114.1L336.6 1114.1L337.5 1120.7L338.4 1120.7L339.4 1114.1L342.2 1114.1L343.1 1120.7L344.1 1120.7L345 1114.1L345.9 1114.1L346.9 1120.7L347.8 1120.7L348.7 1114.1L349.7 1114.1L350.6 1120.7L352.5 1120.7L353.4 1114.1L355.3 1114.1L356.2 1120.7L357.2 1114.1L360 1114.1L360.9 1120.7L371.2 1120.7L372.2 1114.1L374 1114.1L375 1120.7L375.9 1114.1L376.9 1120.7L382.5 1120.7L383.4 1114.1L384.4 1120.7L385.3 1114.1L386.2 1114.1L387.2 1120.7L389 1120.7L390 1114.1L390.9 1114.1L391.9 1120.7L392.8 1114.1L393.7 1120.7L394.7 1120.7L395.6 1114.1L396.5 1120.7L398.4 1120.7L399.4 1114.1L400.3 1114.1L401.2 1120.7L402.2 1114.1L403.1 1120.7L404 1120.7L405 1114.1L405.9 1120.7L407.8 1120.7L408.7 1114.1L409.7 1120.7L410.6 1120.7L411.5 1114.1L412.5 1120.7L413.4 1114.1L414.4 1120.7L416.2 1120.7L417.2 1114.1L420 1114.1L420.9 1120.7L423.7 1120.7L424.7 1114.1L435 1114.1L435.9 1107.4L436.9 1120.7L437.8 1120.7L438.7 1114.1L442.5 1114.1L443.4 1120.7L444.4 1120.7L445.3 1114.1L446.2 1114.1L447.2 1107.4L448.1 1114.1L451.9 1114.1L452.8 1107.4L453.7 1114.1L462.2 1114.1L463.1 1107.4L464 1114.1L465 1114.1L465.9 1107.4L466.9 1114.1L472.5 1114.1L473.4 1107.4L474.4 1114.1L475.3 1107.4L476.2 1114.1L480.9 1114.1L481.9 1107.4L482.8 1114.1L483.7 1107.4L487.5 1107.4L488.4 1114.1L489.4 1114.1L490.3 1107.4L491.2 1107.4L492.2 1114.1L493.1 1107.4L494 1107.4L495 1114.1L495.9 1114.1L496.9 1107.4L497.8 1114.1L501.5 1114.1L502.5 1107.4L503.4 1114.1L504.4 1107.4L505.3 1114.1L506.2 1107.4L507.2 1114.1L508.1 1107.4L509 1114.1L510.9 1114.1L511.9 1107.4L512.8 1107.4L513.7 1114.1L514.7 1107.4L515.6 1114.1L516.5 1114.1L517.5 1107.4L518.4 1114.1L525 1114.1L525.9 1107.4L526.9 1107.4L527.8 1114.1L528.7 1114.1L529.7 1107.4L533.4 1107.4L534.4 1114.1L535.3 1114.1L536.2 1107.4L537.2 1114.1L538.1 1107.4L539 1107.4L540 1114.1L540.9 1107.4L542.8 1107.4L543.7 1114.1L544.7 1107.4L545.6 1107.4L546.5 1114.1L547.5 1107.4L548.4 1114.1L549.4 1107.4L552.2 1107.4L553.1 1114.1L554 1114.1L555 1107.4L555.9 1114.1L556.9 1107.4L558.7 1107.4L559.7 1114.1L561.5 1114.1L562.5 1107.4L563.4 1107.4L564.3 1114.1L565.3 1107.4L567.2 1107.4L568.1 1114.1L569 1107.4L570 1114.1L570.9 1107.4L571.8 1114.1L572.8 1114.1L573.7 1107.4L574.7 1114.1L575.6 1114.1L576.5 1107.4L577.5 1114.1L578.4 1114.1L579.3 1107.4L580.3 1107.4L581.2 1114.1L582.2 1107.4L584 1107.4L585 1114.1L585.9 1107.4L586.8 1114.1L587.8 1107.4L588.7 1114.1L589.7 1107.4L590.6 1114.1L592.5 1114.1L593.4 1107.4L594.3 1114.1L595.3 1107.4L596.2 1107.4L597.2 1114.1L598.1 1114.1L599 1107.4L606.5 1107.4L607.5 1114.1L608.4 1107.4L612.2 1107.4L613.1 1114.1L614 1107.4L615 1114.1L616.8 1114.1L617.8 1107.4L618.7 1114.1L619.7 1114.1L620.6 1107.4L622.5 1107.4L623.4 1114.1L624.3 1107.4L631.8 1107.4L632.8 1114.1L633.7 1107.4L638.4 1107.4L639.3 1114.1L640.3 1107.4L641.2 1107.4L642.2 1114.1L643.1 1107.4L645 1107.4L645.9 1114.1L646.8 1107.4L660.9 1107.4L661.8 1114.1L662.8 1107.4L680.6 1107.4L681.5 1114.1L682.5 1107.4L683.4 1114.1L684.3 1107.4L685.3 1114.1L686.2 1107.4L690.9 1107.4L691.8 1114.1L692.8 1107.4L699.3 1107.4L700.3 1114.1L701.2 1107.4L707.8 1107.4L708.7 1114.1L709.7 1107.4L727.5 1107.4L728.4 1114.1L729.3 1107.4L744.3 1107.4L745.3 1114.1L746.2 1107.4L754.7 1107.4L755.6 1114.1L756.5 1107.4L759.3 1107.4L760.3 1114.1L761.2 1107.4L762.1 1114.1L763.1 1107.4L764 1107.4L765 1114.1L765.9 1107.4L793.1 1107.4L794 1114.1L795 1107.4L797.8 1107.4L798.7 1114.1L799.6 1114.1L800.6 1107.4L802.5 1107.4L803.4 1114.1L804.3 1107.4L818.4 1107.4L819.3 1114.1L820.3 1107.4L823.1 1107.4L824 1114.1L825 1107.4L825.9 1107.4L826.8 1114.1L827.8 1107.4L848.4 1107.4L849.3 1114.1L850.3 1107.4L858.7 1107.4L859.6 1114.1L860.6 1107.4L867.1 1107.4L868.1 1114.1L869 1107.4L871.8 1107.4L872.8 1114.1L873.7 1107.4L880.3 1107.4L881.2 1114.1L882.1 1114.1L883.1 1107.4L884 1114.1L885 1107.4L908.4 1107.4L909.3 1114.1L910.3 1107.4L912.1 1107.4L913.1 1114.1L914 1107.4L923.4 1107.4L924.3 1114.1L925.3 1107.4L930.9 1107.4L931.8 1114.1L932.8 1107.4L953.4 1107.4L954.3 1114.1L955.3 1107.4L960.9 1107.4L961.8 1114.1L962.8 1107.4L969.3 1107.4L970.3 1114.1L971.2 1107.4L972.1 1107.4L973.1 1114.1L974 1107.4L977.8 1107.4L978.7 1114.1L979.6 1107.4L991.8 1107.4L992.8 1114.1L993.7 1107.4L994.6 1114.1L995.6 1107.4L1032.1 1107.4L1033.1 1114.1L1034 1107.4L1039.6 1107.4L1040.6 1114.1L1041.5 1107.4L1057.4 1107.4L1058.4 1114.1L1059.3 1107.4L1060.3 1114.1L1061.2 1107.4L1063.1 1107.4L1064 1114.1L1064.9 1107.4L1076.2 1107.4L1077.1 1114.1L1078.1 1107.4L1079 1114.1L1079.9 1107.4L1080.9 1107.4L1081.8 1114.1L1082.8 1107.4L1083.7 1107.4L1084.6 1114.1L1085.6 1114.1L1086.5 1107.4L1087.4 1107.4L1088.4 1114.1L1089.3 1107.4L1099.6 1107.4L1100.6 1114.1L1101.5 1107.4L1108.1 1107.4L1109 1114.1L1109.9 1107.4L1110.9 1114.1L1111.8 1107.4L1120.3 1107.4L1121.2 1114.1L1122.1 1107.4L1138.1 1107.4L1139 1114.1L1139.9 1107.4L1140.9 1107.4L1141.8 1114.1L1142.8 1114.1L1143.7 1107.4L1154 1107.4" fill="none" stroke="#0000ff" stroke-width="1.15" stroke-linejoin="round"/>
<path d="M165 1215.8L210 1215.8L210.9 1222.5L211.9 1215.8L230.6 1215.8L231.6 1222.5L232.5 1215.8L239.1 1215.8L240 1222.5L240.9 1215.8L242.8 1215.8L243.7 1222.5L244.7 1215.8L273.7 1215.8L274.7 1222.5L275.6 1215.8L301.9 1215.8L302.8 1222.5L303.7 1215.8L335.6 1215.8L336.6 1222.5L337.5 1215.8L343.1 1215.8L344.1 1222.5L345 1222.5L345.9 1215.8L355.3 1215.8L356.2 1222.5L358.1 1222.5L359.1 1215.8L363.7 1215.8L364.7 1222.5L365.6 1215.8L366.5 1222.5L367.5 1215.8L368.4 1222.5L369.4 1222.5L370.3 1215.8L371.2 1215.8L372.2 1222.5L374 1222.5L375 1215.8L376.9 1215.8L377.8 1222.5L382.5 1222.5L383.4 1215.8L386.2 1215.8L387.2 1222.5L388.1 1215.8L390 1215.8L390.9 1222.5L391.9 1215.8L394.7 1215.8L395.6 1222.5L399.4 1222.5L400.3 1215.8L401.2 1222.5L402.2 1215.8L403.1 1222.5L405.9 1222.5L406.9 1215.8L407.8 1215.8L408.7 1222.5L409.7 1215.8L410.6 1222.5L411.5 1222.5L412.5 1215.8L413.4 1222.5L414.4 1215.8L415.3 1215.8L416.2 1222.5L417.2 1215.8L418.1 1222.5L420 1222.5L420.9 1215.8L423.7 1215.8L424.7 1222.5L425.6 1222.5L426.5 1215.8L427.5 1222.5L428.4 1215.8L429.4 1222.5L430.3 1222.5L431.2 1215.8L432.2 1215.8L433.1 1222.5L435.9 1222.5L436.9 1215.8L437.8 1215.8L438.7 1222.5L439.7 1215.8L440.6 1215.8L441.5 1222.5L442.5 1215.8L444.4 1215.8L445.3 1222.5L446.2 1222.5L447.2 1215.8L449 1215.8L450 1222.5L450.9 1222.5L451.9 1215.8L452.8 1222.5L454.7 1222.5L455.6 1215.8L457.5 1215.8L458.4 1222.5L459.4 1222.5L460.3 1215.8L461.2 1222.5L462.2 1215.8L463.1 1222.5L464 1222.5L465 1215.8L465.9 1215.8L466.9 1222.5L467.8 1215.8L468.7 1222.5L469.7 1215.8L473.4 1215.8L474.4 1222.5L475.3 1222.5L476.2 1215.8L477.2 1222.5L478.1 1222.5L479 1215.8L480 1215.8L480.9 1222.5L481.9 1215.8L485.6 1215.8L486.5 1222.5L487.5 1222.5L488.4 1215.8L489.4 1222.5L490.3 1222.5L491.2 1215.8L492.2 1222.5L498.7 1222.5L499.7 1215.8L501.5 1215.8L502.5 1222.5L503.4 1215.8L504.4 1222.5L505.3 1215.8L507.2 1215.8L508.1 1222.5L510 1222.5L510.9 1215.8L511.9 1222.5L513.7 1222.5L514.7 1215.8L515.6 1222.5L516.5 1215.8L517.5 1215.8L518.4 1222.5L519.4 1215.8L526.9 1215.8L527.8 1222.5L528.7 1215.8L529.7 1222.5L530.6 1215.8L531.5 1222.5L535.3 1222.5L536.2 1215.8L537.2 1222.5L538.1 1215.8L539 1222.5L540 1215.8L540.9 1222.5L541.9 1215.8L544.7 1215.8L545.6 1222.5L546.5 1215.8L547.5 1222.5L548.4 1215.8L549.4 1215.8L550.3 1222.5L551.2 1222.5L552.2 1215.8L558.7 1215.8L559.7 1222.5L560.6 1215.8L561.5 1215.8L562.5 1222.5L563.4 1222.5L564.3 1215.8L570.9 1215.8L571.8 1222.5L572.8 1222.5L573.7 1215.8L574.7 1222.5L575.6 1215.8L576.5 1222.5L577.5 1222.5L578.4 1215.8L579.3 1222.5L580.3 1222.5L581.2 1215.8L584 1215.8L585 1222.5L585.9 1215.8L586.8 1215.8L587.8 1222.5L588.7 1215.8L589.7 1222.5L590.6 1215.8L596.2 1215.8L597.2 1222.5L598.1 1215.8L599 1222.5L600 1215.8L600.9 1222.5L601.8 1215.8L602.8 1215.8L603.7 1222.5L604.7 1215.8L605.6 1222.5L606.5 1215.8L607.5 1222.5L608.4 1215.8L609.3 1222.5L610.3 1222.5L611.2 1215.8L612.2 1222.5L613.1 1222.5L614 1215.8L618.7 1215.8L619.7 1222.5L620.6 1222.5L621.5 1215.8L624.3 1215.8L625.3 1222.5L626.2 1215.8L628.1 1215.8L629 1222.5L631.8 1222.5L632.8 1215.8L633.7 1222.5L634.7 1222.5L635.6 1215.8L642.2 1215.8L643.1 1222.5L644 1215.8L645 1222.5L645.9 1215.8L646.8 1222.5L650.6 1222.5L651.5 1215.8L652.5 1222.5L653.4 1222.5L654.3 1215.8L655.3 1215.8L656.2 1222.5L657.2 1222.5L658.1 1215.8L659 1222.5L660 1215.8L661.8 1215.8L662.8 1222.5L663.7 1222.5L664.7 1215.8L665.6 1215.8L666.5 1222.5L667.5 1215.8L668.4 1215.8L669.3 1222.5L670.3 1222.5L671.2 1215.8L672.2 1222.5L673.1 1215.8L674 1215.8L675 1222.5L675.9 1215.8L680.6 1215.8L681.5 1222.5L682.5 1215.8L683.4 1215.8L684.3 1222.5L685.3 1215.8L686.2 1222.5L687.2 1215.8L688.1 1222.5L689 1215.8L690 1215.8L690.9 1222.5L691.8 1215.8L692.8 1222.5L693.7 1222.5L694.7 1215.8L695.6 1222.5L696.5 1215.8L697.5 1222.5L698.4 1215.8L699.3 1215.8L700.3 1222.5L701.2 1222.5L702.2 1215.8L703.1 1222.5L704 1215.8L705 1222.5L705.9 1215.8L712.5 1215.8L713.4 1222.5L716.2 1222.5L717.2 1215.8L718.1 1215.8L719 1222.5L721.8 1222.5L722.8 1215.8L723.7 1222.5L724.7 1215.8L727.5 1215.8L728.4 1222.5L729.3 1215.8L730.3 1222.5L732.2 1222.5L733.1 1215.8L734 1222.5L735.9 1222.5L736.8 1215.8L737.8 1222.5L738.7 1215.8L739.7 1215.8L740.6 1222.5L741.5 1215.8L742.5 1222.5L743.4 1215.8L745.3 1215.8L746.2 1222.5L748.1 1222.5L749 1215.8L750 1215.8L750.9 1222.5L751.8 1215.8L754.7 1215.8L755.6 1222.5L756.5 1215.8L757.5 1215.8L758.4 1222.5L759.3 1222.5L760.3 1215.8L761.2 1222.5L763.1 1222.5L764 1215.8L765 1222.5L765.9 1215.8L766.8 1215.8L767.8 1222.5L768.7 1215.8L769.6 1215.8L770.6 1222.5L774.3 1222.5L775.3 1215.8L776.2 1222.5L779 1222.5L780 1215.8L780.9 1215.8L781.8 1222.5L782.8 1215.8L783.7 1222.5L784.6 1215.8L785.6 1215.8L786.5 1222.5L787.5 1215.8L791.2 1215.8L792.1 1222.5L793.1 1222.5L794 1215.8L795 1215.8L795.9 1222.5L797.8 1222.5L798.7 1215.8L800.6 1215.8L801.5 1222.5L802.5 1215.8L806.2 1215.8L807.1 1222.5L808.1 1215.8L809 1215.8L810 1222.5L810.9 1215.8L813.7 1215.8L814.6 1222.5L815.6 1215.8L820.3 1215.8L821.2 1222.5L822.1 1215.8L824 1215.8L825 1222.5L825.9 1215.8L829.6 1215.8L830.6 1222.5L831.5 1215.8L832.5 1222.5L833.4 1215.8L836.2 1215.8L837.1 1222.5L838.1 1215.8L839 1222.5L840 1215.8L847.5 1215.8L848.4 1222.5L849.3 1215.8L850.3 1222.5L851.2 1215.8L857.8 1215.8L858.7 1222.5L859.6 1215.8L868.1 1215.8L869 1222.5L870 1222.5L870.9 1215.8L878.4 1215.8L879.3 1222.5L880.3 1215.8L1036.8 1215.8L1037.8 1222.5L1038.7 1215.8L1045.3 1215.8L1046.2 1222.5L1047.1 1215.8L1049 1215.8L1049.9 1222.5L1050.9 1215.8L1098.7 1215.8L1099.6 1222.5L1100.6 1215.8L1101.5 1209.1L1103.4 1209.1L1104.3 1215.8L1105.3 1209.1L1106.2 1215.8L1154 1215.8" fill="none" stroke="#00ffff" stroke-width="1.15" stroke-linejoin="round"/>
<path d="M165 1105.3L165.9 1112L166.9 1112L167.8 1105.3L168.7 1112L169.7 1105.3L170.6 1112L172.5 1112L173.4 1105.3L174.4 1112L177.2 1112L178.1 1105.3L179.1 1112L180 1105.3L184.7 1105.3L185.6 1112L186.6 1112L187.5 1105.3L188.4 1105.3L189.4 1112L190.3 1105.3L192.2 1105.3L193.1 1112L194.1 1112L195 1105.3L196.9 1105.3L197.8 1112L198.7 1105.3L199.7 1098.7L200.6 1105.3L201.6 1098.7L202.5 1105.3L203.4 1105.3L204.4 1098.7L205.3 1098.7L206.2 1105.3L207.2 1098.7L208.1 1098.7L209.1 1105.3L210 1105.3L210.9 1098.7L211.9 1105.3L212.8 1098.7L219.4 1098.7L220.3 1105.3L221.2 1098.7L225.9 1098.7L226.9 1092L227.8 1098.7L228.7 1092L229.7 1098.7L234.4 1098.7L235.3 1105.3L236.2 1105.3L237.2 1098.7L238.1 1105.3L239.1 1098.7L244.7 1098.7L245.6 1105.3L246.6 1098.7L252.2 1098.7L253.1 1105.3L254.1 1098.7L255.9 1098.7L256.9 1105.3L257.8 1098.7L261.6 1098.7L262.5 1105.3L263.4 1092L264.4 1105.3L265.3 1098.7L266.2 1098.7L267.2 1092L268.1 1098.7L269.1 1098.7L270 1092L270.9 1105.3L271.9 1092L273.7 1092L274.7 1098.7L275.6 1092L276.6 1098.7L279.4 1098.7L280.3 1092L281.2 1092L282.2 1098.7L283.1 1098.7L284.1 1092L285 1098.7L288.7 1098.7L289.7 1092L290.6 1092L291.6 1098.7L292.5 1092L293.4 1098.7L294.4 1092L295.3 1092L296.2 1098.7L297.2 1098.7L298.1 1092L299.1 1098.7L300 1098.7L300.9 1092L301.9 1098.7L302.8 1092L308.4 1092L309.4 1098.7L310.3 1092L312.2 1092L313.1 1098.7L314.1 1098.7L315 1092L316.9 1092L317.8 1098.7L318.7 1098.7L319.7 1092L320.6 1098.7L321.6 1092L322.5 1098.7L323.4 1098.7L324.4 1092L325.3 1092L326.2 1098.7L327.2 1092L328.1 1098.7L329.1 1098.7L330 1092L330.9 1098.7L331.9 1098.7L332.8 1092L333.7 1098.7L334.7 1092L335.6 1098.7L341.2 1098.7L342.2 1092L343.1 1098.7L345.9 1098.7L346.9 1092L347.8 1098.7L348.7 1098.7L349.7 1092L350.6 1092L351.6 1098.7L352.5 1092L353.4 1098.7L354.4 1092L355.3 1092L356.2 1085.4L357.2 1092L358.1 1098.7L359.1 1085.4L360.9 1085.4L361.9 1092L362.8 1085.4L363.7 1085.4L364.7 1092L365.6 1092L366.5 1085.4L367.5 1092L368.4 1092L369.4 1085.4L370.3 1092L371.2 1085.4L374 1085.4L375 1092L378.7 1092L379.7 1085.4L380.6 1085.4L381.5 1092L382.5 1085.4L383.4 1085.4L384.4 1092L389 1092L390 1085.4L390.9 1092L396.5 1092L397.5 1085.4L398.4 1092L404 1092L405 1085.4L405.9 1092L406.9 1085.4L407.8 1092L408.7 1085.4L409.7 1092L410.6 1092L411.5 1085.4L412.5 1092L414.4 1092L415.3 1085.4L416.2 1092L423.7 1092L424.7 1085.4L425.6 1092L426.5 1092L427.5 1085.4L429.4 1085.4L430.3 1092L432.2 1092L433.1 1085.4L440.6 1085.4L441.5 1092L442.5 1092L443.4 1085.4L444.4 1092L447.2 1092L448.1 1085.4L452.8 1085.4L453.7 1092L454.7 1085.4L455.6 1085.4L456.5 1092L457.5 1085.4L458.4 1085.4L459.4 1092L460.3 1092L461.2 1085.4L462.2 1092L463.1 1085.4L464 1092L465 1085.4L465.9 1085.4L466.9 1092L467.8 1092L468.7 1085.4L469.7 1092L470.6 1085.4L475.3 1085.4L476.2 1092L477.2 1085.4L478.1 1085.4L479 1092L480 1092L480.9 1078.8L481.9 1078.8L482.8 1085.4L485.6 1085.4L486.5 1078.8L487.5 1085.4L488.4 1085.4L489.4 1078.8L490.3 1085.4L497.8 1085.4L498.7 1092L499.7 1085.4L517.5 1085.4L518.4 1078.8L519.4 1085.4L520.3 1092L521.2 1085.4L523.1 1085.4L524 1078.8L525 1085.4L525.9 1078.8L526.9 1085.4L527.8 1092L528.7 1078.8L529.7 1085.4L530.6 1085.4L531.5 1078.8L532.5 1085.4L533.4 1085.4L534.4 1078.8L535.3 1085.4L540.9 1085.4L541.9 1078.8L542.8 1085.4L544.7 1085.4L545.6 1078.8L547.5 1078.8L548.4 1085.4L549.4 1078.8L550.3 1085.4L551.2 1078.8L552.2 1085.4L555 1085.4L555.9 1078.8L556.9 1085.4L562.5 1085.4L563.4 1078.8L564.3 1078.8L565.3 1085.4L573.7 1085.4L574.7 1078.8L575.6 1085.4L581.2 1085.4L582.2 1078.8L583.1 1085.4L584 1085.4L585 1078.8L585.9 1085.4L592.5 1085.4L593.4 1078.8L594.3 1078.8L595.3 1085.4L596.2 1078.8L597.2 1085.4L598.1 1085.4L599 1078.8L600 1085.4L601.8 1085.4L602.8 1078.8L603.7 1085.4L604.7 1085.4L605.6 1078.8L606.5 1078.8L607.5 1085.4L608.4 1078.8L609.3 1078.8L610.3 1085.4L611.2 1078.8L612.2 1078.8L613.1 1085.4L614 1078.8L615 1078.8L615.9 1085.4L618.7 1085.4L619.7 1078.8L620.6 1085.4L623.4 1085.4L624.3 1078.8L625.3 1078.8L626.2 1085.4L627.2 1085.4L628.1 1078.8L629 1085.4L630.9 1085.4L631.8 1078.8L632.8 1085.4L634.7 1085.4L635.6 1078.8L636.5 1085.4L642.2 1085.4L643.1 1078.8L644 1085.4L645 1085.4L645.9 1078.8L646.8 1085.4L647.8 1085.4L648.7 1078.8L650.6 1078.8L651.5 1085.4L652.5 1078.8L653.4 1085.4L656.2 1085.4L657.2 1078.8L658.1 1085.4L660.9 1085.4L661.8 1078.8L662.8 1078.8L663.7 1085.4L664.7 1085.4L665.6 1078.8L666.5 1085.4L667.5 1085.4L668.4 1078.8L669.3 1085.4L670.3 1085.4L671.2 1078.8L672.2 1085.4L673.1 1078.8L674 1085.4L675 1078.8L675.9 1085.4L676.8 1085.4L677.8 1078.8L678.7 1078.8L679.7 1085.4L680.6 1078.8L681.5 1085.4L682.5 1085.4L683.4 1078.8L684.3 1085.4L685.3 1078.8L686.2 1085.4L687.2 1078.8L688.1 1085.4L691.8 1085.4L692.8 1078.8L693.7 1085.4L694.7 1085.4L695.6 1078.8L696.5 1085.4L699.3 1085.4L700.3 1078.8L701.2 1085.4L702.2 1078.8L703.1 1085.4L704 1078.8L705 1078.8L705.9 1085.4L709.7 1085.4L710.6 1078.8L711.5 1085.4L713.4 1085.4L714.3 1078.8L715.3 1085.4L716.2 1078.8L717.2 1085.4L718.1 1078.8L721.8 1078.8L722.8 1085.4L723.7 1078.8L725.6 1078.8L726.5 1085.4L727.5 1078.8L728.4 1085.4L729.3 1078.8L730.3 1078.8L731.2 1085.4L732.2 1078.8L734 1078.8L735 1085.4L735.9 1085.4L736.8 1078.8L737.8 1085.4L739.7 1085.4L740.6 1078.8L743.4 1078.8L744.3 1085.4L745.3 1078.8L746.2 1078.8L747.2 1085.4L748.1 1085.4L749 1078.8L750 1085.4L750.9 1078.8L752.8 1078.8L753.7 1085.4L754.7 1078.8L755.6 1085.4L758.4 1085.4L759.3 1078.8L760.3 1085.4L761.2 1085.4L762.1 1078.8L763.1 1078.8L764 1085.4L765 1078.8L765.9 1085.4L768.7 1085.4L769.6 1078.8L770.6 1085.4L771.5 1085.4L772.5 1078.8L773.4 1085.4L774.3 1085.4L775.3 1078.8L776.2 1078.8L777.1 1085.4L778.1 1078.8L779 1078.8L780 1085.4L783.7 1085.4L784.6 1078.8L785.6 1085.4L786.5 1085.4L787.5 1078.8L788.4 1085.4L791.2 1085.4L792.1 1078.8L795 1078.8L795.9 1085.4L798.7 1085.4L799.6 1092L800.6 1078.8L801.5 1078.8L802.5 1085.4L808.1 1085.4L809 1078.8L810 1078.8L810.9 1085.4L811.8 1078.8L812.8 1085.4L815.6 1085.4L816.5 1078.8L817.5 1078.8L818.4 1085.4L824 1085.4L825 1078.8L826.8 1078.8L827.8 1085.4L830.6 1085.4L831.5 1078.8L832.5 1078.8L833.4 1085.4L834.3 1078.8L835.3 1085.4L836.2 1085.4L837.1 1078.8L838.1 1085.4L840 1085.4L840.9 1078.8L841.8 1092L842.8 1078.8L843.7 1085.4L844.6 1085.4L845.6 1078.8L846.5 1085.4L848.4 1085.4L849.3 1078.8L851.2 1078.8L852.1 1085.4L853.1 1078.8L854 1078.8L855 1085.4L855.9 1078.8L857.8 1078.8L858.7 1085.4L859.6 1078.8L860.6 1078.8L861.5 1085.4L863.4 1085.4L864.3 1078.8L865.3 1085.4L866.2 1078.8L867.1 1085.4L870.9 1085.4L871.8 1078.8L872.8 1085.4L873.7 1078.8L874.6 1078.8L875.6 1085.4L876.5 1078.8L877.5 1085.4L878.4 1085.4L879.3 1078.8L880.3 1085.4L881.2 1078.8L882.1 1078.8L883.1 1085.4L884 1078.8L885 1085.4L887.8 1085.4L888.7 1078.8L889.6 1078.8L890.6 1085.4L891.5 1085.4L892.5 1078.8L893.4 1085.4L894.3 1085.4L895.3 1078.8L896.2 1085.4L899 1085.4L900 1078.8L900.9 1085.4L902.8 1085.4L903.7 1078.8L905.6 1078.8L906.5 1085.4L907.5 1078.8L910.3 1078.8L911.2 1085.4L912.1 1078.8L913.1 1085.4L914 1085.4L915 1078.8L915.9 1085.4L916.8 1078.8L917.8 1078.8L918.7 1085.4L919.6 1078.8L920.6 1085.4L928.1 1085.4L929 1078.8L930 1085.4L930.9 1078.8L931.8 1078.8L932.8 1085.4L933.7 1078.8L934.6 1085.4L935.6 1078.8L937.5 1078.8L938.4 1085.4L940.3 1085.4L941.2 1078.8L942.1 1085.4L944 1085.4L945 1078.8L946.8 1078.8L947.8 1085.4L948.7 1085.4L949.6 1078.8L950.6 1085.4L951.5 1078.8L952.5 1085.4L953.4 1078.8L954.3 1085.4L955.3 1085.4L956.2 1078.8L957.1 1078.8L958.1 1085.4L959 1085.4L959.9 1078.8L960.9 1085.4L961.8 1078.8L962.8 1085.4L964.6 1085.4L965.6 1078.8L967.4 1078.8L968.4 1085.4L970.3 1085.4L971.2 1078.8L972.1 1085.4L974.9 1085.4L975.9 1078.8L976.8 1078.8L977.8 1085.4L978.7 1078.8L979.6 1085.4L980.6 1078.8L982.4 1078.8L983.4 1085.4L984.3 1085.4L985.3 1078.8L986.2 1078.8L987.1 1085.4L988.1 1078.8L989 1078.8L989.9 1085.4L990.9 1085.4L991.8 1078.8L994.6 1078.8L995.6 1085.4L996.5 1078.8L997.4 1085.4L998.4 1078.8L999.3 1078.8L1000.3 1085.4L1001.2 1078.8L1002.1 1085.4L1004 1085.4L1004.9 1078.8L1005.9 1078.8L1006.8 1085.4L1010.6 1085.4L1011.5 1078.8L1012.4 1085.4L1014.3 1085.4L1015.3 1078.8L1017.1 1078.8L1018.1 1085.4L1019 1078.8L1019.9 1085.4L1020.9 1078.8L1021.8 1085.4L1023.7 1085.4L1024.6 1078.8L1025.6 1085.4L1026.5 1078.8L1027.4 1085.4L1028.4 1085.4L1029.3 1078.8L1031.2 1078.8L1032.1 1085.4L1039.6 1085.4L1040.6 1078.8L1044.3 1078.8L1045.3 1085.4L1046.2 1078.8L1047.1 1085.4L1049.9 1085.4L1050.9 1078.8L1051.8 1085.4L1054.6 1085.4L1055.6 1078.8L1056.5 1078.8L1057.4 1085.4L1060.3 1085.4L1061.2 1078.8L1064.9 1078.8L1065.9 1085.4L1066.8 1085.4L1067.8 1078.8L1068.7 1085.4L1070.6 1085.4L1071.5 1078.8L1072.4 1085.4L1073.4 1085.4L1074.3 1078.8L1075.3 1085.4L1076.2 1078.8L1077.1 1085.4L1078.1 1085.4L1079 1078.8L1079.9 1085.4L1082.8 1085.4L1083.7 1078.8L1084.6 1085.4L1085.6 1078.8L1086.5 1085.4L1089.3 1085.4L1090.3 1078.8L1091.2 1085.4L1092.1 1078.8L1093.1 1085.4L1094 1085.4L1094.9 1078.8L1095.9 1085.4L1096.8 1078.8L1097.8 1078.8L1098.7 1085.4L1099.6 1085.4L1100.6 1078.8L1101.5 1085.4L1102.4 1078.8L1104.3 1078.8L1105.3 1085.4L1109 1085.4L1109.9 1078.8L1110.9 1085.4L1111.8 1085.4L1112.8 1078.8L1113.7 1085.4L1114.6 1085.4L1115.6 1078.8L1116.5 1085.4L1120.3 1085.4L1121.2 1078.8L1122.1 1085.4L1123.1 1085.4L1124 1078.8L1124.9 1085.4L1125.9 1085.4L1126.8 1078.8L1128.7 1078.8L1129.6 1085.4L1130.6 1085.4L1131.5 1078.8L1132.4 1085.4L1135.3 1085.4L1136.2 1078.8L1137.1 1085.4L1138.1 1085.4L1139 1092L1139.9 1085.4L1140.9 1078.8L1141.8 1085.4L1143.7 1085.4L1144.6 1078.8L1145.6 1085.4L1146.5 1085.4L1147.4 1078.8L1148.4 1085.4L1149.3 1078.8L1150.3 1085.4L1154 1085.4" fill="none" stroke="#00ff00" stroke-width="1.15" stroke-linejoin="round"/>
<path d="M165 1232.8L166.9 1232.8L167.8 1226.1L168.7 1226.1L169.7 1232.8L170.6 1226.1L171.6 1232.8L172.5 1232.8L173.4 1226.1L176.2 1226.1L177.2 1232.8L178.1 1232.8L179.1 1226.1L180 1226.1L180.9 1232.8L181.9 1226.1L182.8 1226.1L183.7 1232.8L184.7 1232.8L185.6 1226.1L188.4 1226.1L189.4 1232.8L190.3 1232.8L191.2 1226.1L192.2 1232.8L193.1 1226.1L194.1 1232.8L195 1232.8L195.9 1226.1L196.9 1232.8L197.8 1232.8L198.7 1226.1L199.7 1226.1L200.6 1232.8L201.6 1226.1L202.5 1232.8L206.2 1232.8L207.2 1226.1L208.1 1232.8L209.1 1226.1L210 1226.1L210.9 1232.8L211.9 1226.1L212.8 1226.1L213.7 1232.8L214.7 1226.1L215.6 1232.8L216.6 1226.1L217.5 1232.8L218.4 1226.1L219.4 1232.8L220.3 1226.1L221.2 1226.1L222.2 1232.8L223.1 1226.1L224.1 1232.8L225.9 1232.8L226.9 1226.1L229.7 1226.1L230.6 1232.8L231.6 1226.1L232.5 1232.8L233.4 1226.1L234.4 1232.8L235.3 1226.1L236.2 1226.1L237.2 1232.8L239.1 1232.8L240 1226.1L240.9 1232.8L241.9 1226.1L242.8 1232.8L243.7 1232.8L244.7 1226.1L245.6 1232.8L246.6 1226.1L247.5 1232.8L249.4 1232.8L250.3 1226.1L253.1 1226.1L254.1 1232.8L255 1226.1L255.9 1232.8L256.9 1226.1L257.8 1226.1L258.7 1232.8L260.6 1232.8L261.6 1226.1L264.4 1226.1L265.3 1232.8L266.2 1226.1L267.2 1226.1L268.1 1232.8L269.1 1226.1L270 1226.1L270.9 1232.8L271.9 1226.1L272.8 1226.1L273.7 1232.8L274.7 1232.8L275.6 1226.1L276.6 1226.1L277.5 1232.8L278.4 1232.8L279.4 1226.1L280.3 1232.8L281.2 1226.1L282.2 1232.8L283.1 1232.8L284.1 1226.1L285 1232.8L285.9 1226.1L286.9 1232.8L287.8 1226.1L293.4 1226.1L294.4 1232.8L295.3 1226.1L300 1226.1L300.9 1232.8L303.7 1232.8L304.7 1226.1L305.6 1232.8L306.6 1226.1L307.5 1226.1L308.4 1232.8L309.4 1226.1L310.3 1232.8L311.2 1232.8L312.2 1226.1L313.1 1232.8L314.1 1226.1L315 1232.8L318.7 1232.8L319.7 1226.1L320.6 1232.8L321.6 1226.1L322.5 1232.8L323.4 1226.1L324.4 1232.8L325.3 1232.8L326.2 1226.1L327.2 1232.8L328.1 1232.8L329.1 1226.1L330 1226.1L330.9 1232.8L331.9 1232.8L332.8 1226.1L334.7 1226.1L335.6 1232.8L336.6 1232.8L337.5 1226.1L340.3 1226.1L341.2 1232.8L342.2 1226.1L343.1 1232.8L345.9 1232.8L346.9 1226.1L347.8 1226.1L348.7 1232.8L349.7 1232.8L350.6 1226.1L351.6 1226.1L352.5 1232.8L354.4 1232.8L355.3 1226.1L356.2 1232.8L357.2 1226.1L358.1 1232.8L361.9 1232.8L362.8 1226.1L364.7 1226.1L365.6 1232.8L366.5 1232.8L367.5 1226.1L368.4 1232.8L370.3 1232.8L371.2 1226.1L373.1 1226.1L374 1232.8L375 1226.1L375.9 1232.8L378.7 1232.8L379.7 1226.1L380.6 1232.8L381.5 1226.1L382.5 1226.1L383.4 1232.8L386.2 1232.8L387.2 1226.1L388.1 1226.1L389 1232.8L390 1226.1L390.9 1232.8L391.9 1226.1L392.8 1226.1L393.7 1232.8L398.4 1232.8L399.4 1226.1L400.3 1232.8L403.1 1232.8L404 1226.1L405 1226.1L405.9 1232.8L407.8 1232.8L408.7 1226.1L409.7 1226.1L410.6 1232.8L411.5 1232.8L412.5 1226.1L413.4 1232.8L416.2 1232.8L417.2 1226.1L418.1 1226.1L419 1232.8L420 1226.1L420.9 1232.8L421.9 1226.1L426.5 1226.1L427.5 1232.8L428.4 1226.1L435.9 1226.1L436.9 1232.8L438.7 1232.8L439.7 1226.1L441.5 1226.1L442.5 1232.8L443.4 1232.8L444.4 1226.1L447.2 1226.1L448.1 1232.8L449 1226.1L452.8 1226.1L453.7 1232.8L454.7 1226.1L455.6 1219.5L456.5 1226.1L458.4 1226.1L459.4 1232.8L460.3 1232.8L461.2 1226.1L462.2 1232.8L463.1 1226.1L464 1219.5L465 1226.1L469.7 1226.1L470.6 1219.5L471.5 1226.1L472.5 1219.5L473.4 1226.1L474.4 1232.8L475.3 1232.8L476.2 1226.1L479 1226.1L480 1232.8L480.9 1226.1L481.9 1226.1L482.8 1232.8L483.7 1226.1L484.7 1232.8L485.6 1226.1L490.3 1226.1L491.2 1232.8L492.2 1232.8L493.1 1226.1L497.8 1226.1L498.7 1232.8L499.7 1226.1L506.2 1226.1L507.2 1232.8L509 1232.8L510 1226.1L510.9 1232.8L511.9 1226.1L513.7 1226.1L514.7 1232.8L515.6 1232.8L516.5 1226.1L520.3 1226.1L521.2 1219.5L522.2 1226.1L523.1 1226.1L524 1232.8L525 1226.1L526.9 1226.1L527.8 1219.5L528.7 1226.1L529.7 1232.8L530.6 1226.1L531.5 1232.8L532.5 1226.1L533.4 1219.5L534.4 1226.1L536.2 1226.1L537.2 1232.8L538.1 1232.8L539 1226.1L540 1232.8L540.9 1226.1L541.9 1226.1L542.8 1232.8L543.7 1232.8L544.7 1226.1L545.6 1232.8L546.5 1226.1L548.4 1226.1L549.4 1232.8L550.3 1232.8L551.2 1226.1L556.9 1226.1L557.8 1219.5L558.7 1226.1L559.7 1232.8L560.6 1226.1L561.5 1226.1L562.5 1232.8L563.4 1226.1L565.3 1226.1L566.2 1232.8L567.2 1226.1L568.1 1226.1L569 1219.5L570 1226.1L577.5 1226.1L578.4 1232.8L579.3 1226.1L583.1 1226.1L584 1219.5L585 1226.1L588.7 1226.1L589.7 1232.8L590.6 1226.1L591.5 1232.8L592.5 1226.1L594.3 1226.1L595.3 1232.8L596.2 1226.1L598.1 1226.1L599 1232.8L600 1226.1L600.9 1226.1L601.8 1232.8L602.8 1226.1L603.7 1219.5L604.7 1219.5L605.6 1226.1L608.4 1226.1L609.3 1232.8L610.3 1226.1L611.2 1226.1L612.2 1232.8L614 1232.8L615 1226.1L615.9 1232.8L616.8 1226.1L617.8 1232.8L618.7 1219.5L619.7 1226.1L621.5 1226.1L622.5 1232.8L623.4 1226.1L625.3 1226.1L626.2 1232.8L627.2 1226.1L628.1 1232.8L629 1226.1L632.8 1226.1L633.7 1232.8L634.7 1226.1L635.6 1232.8L636.5 1232.8L637.5 1226.1L645.9 1226.1L646.8 1232.8L647.8 1226.1L648.7 1226.1L649.7 1232.8L650.6 1226.1L653.4 1226.1L654.3 1232.8L655.3 1226.1L659 1226.1L660 1232.8L660.9 1226.1L662.8 1226.1L663.7 1232.8L664.7 1226.1L665.6 1226.1L666.5 1232.8L667.5 1232.8L668.4 1226.1L673.1 1226.1L674 1232.8L675 1226.1L675.9 1226.1L676.8 1232.8L677.8 1226.1L679.7 1226.1L680.6 1232.8L681.5 1226.1L682.5 1232.8L683.4 1232.8L684.3 1226.1L687.2 1226.1L688.1 1232.8L689 1226.1L690.9 1226.1L691.8 1232.8L692.8 1226.1L694.7 1226.1L695.6 1232.8L696.5 1226.1L697.5 1226.1L698.4 1232.8L699.3 1232.8L700.3 1226.1L701.2 1232.8L702.2 1226.1L703.1 1232.8L704 1226.1L705 1232.8L705.9 1226.1L706.8 1226.1L707.8 1232.8L708.7 1226.1L710.6 1226.1L711.5 1232.8L712.5 1226.1L719 1226.1L720 1232.8L720.9 1232.8L721.8 1226.1L722.8 1232.8L723.7 1226.1L724.7 1232.8L725.6 1226.1L726.5 1226.1L727.5 1219.5L728.4 1232.8L729.3 1226.1L734 1226.1L735 1232.8L735.9 1226.1L736.8 1232.8L737.8 1226.1L742.5 1226.1L743.4 1232.8L744.3 1232.8L745.3 1226.1L746.2 1226.1L747.2 1232.8L748.1 1226.1L749 1232.8L750 1226.1L751.8 1226.1L752.8 1219.5L753.7 1226.1L758.4 1226.1L759.3 1232.8L760.3 1226.1L770.6 1226.1L771.5 1219.5L772.5 1226.1L774.3 1226.1L775.3 1232.8L776.2 1226.1L780.9 1226.1L781.8 1232.8L782.8 1226.1L783.7 1232.8L784.6 1226.1L785.6 1232.8L786.5 1226.1L792.1 1226.1L793.1 1219.5L794 1226.1L797.8 1226.1L798.7 1232.8L799.6 1226.1L800.6 1226.1L801.5 1232.8L802.5 1232.8L803.4 1226.1L804.3 1226.1L805.3 1232.8L806.2 1226.1L807.1 1232.8L808.1 1226.1L809 1226.1L810 1232.8L810.9 1226.1L811.8 1226.1L812.8 1232.8L813.7 1226.1L823.1 1226.1L824 1232.8L825 1226.1L825.9 1232.8L826.8 1226.1L827.8 1226.1L828.7 1232.8L829.6 1226.1L832.5 1226.1L833.4 1219.5L834.3 1232.8L835.3 1226.1L840 1226.1L840.9 1232.8L841.8 1226.1L842.8 1219.5L843.7 1226.1L845.6 1226.1L846.5 1232.8L847.5 1226.1L848.4 1219.5L849.3 1226.1L851.2 1226.1L852.1 1232.8L853.1 1226.1L856.8 1226.1L857.8 1232.8L858.7 1226.1L862.5 1226.1L863.4 1219.5L864.3 1226.1L868.1 1226.1L869 1219.5L870 1232.8L870.9 1226.1L875.6 1226.1L876.5 1232.8L877.5 1226.1L884 1226.1L885 1232.8L885.9 1226.1L886.8 1232.8L887.8 1226.1L889.6 1226.1L890.6 1232.8L891.5 1219.5L892.5 1232.8L893.4 1226.1L894.3 1226.1L895.3 1219.5L896.2 1226.1L899 1226.1L900 1219.5L900.9 1226.1L904.6 1226.1L905.6 1232.8L906.5 1226.1L911.2 1226.1L912.1 1232.8L913.1 1226.1L915 1226.1L915.9 1232.8L916.8 1226.1L930 1226.1L930.9 1232.8L931.8 1226.1L932.8 1232.8L933.7 1219.5L934.6 1226.1L941.2 1226.1L942.1 1232.8L943.1 1232.8L944 1226.1L954.3 1226.1L955.3 1232.8L956.2 1226.1L959 1226.1L959.9 1232.8L960.9 1219.5L961.8 1226.1L962.8 1219.5L963.7 1226.1L966.5 1226.1L967.4 1232.8L968.4 1226.1L978.7 1226.1L979.6 1232.8L980.6 1226.1L986.2 1226.1L987.1 1232.8L988.1 1226.1L990.9 1226.1L991.8 1232.8L992.8 1226.1L1000.3 1226.1L1001.2 1232.8L1002.1 1226.1L1019.9 1226.1L1020.9 1232.8L1022.8 1232.8L1023.7 1226.1L1024.6 1226.1L1025.6 1232.8L1026.5 1226.1L1033.1 1226.1L1034 1232.8L1034.9 1226.1L1035.9 1232.8L1036.8 1226.1L1037.8 1232.8L1038.7 1226.1L1041.5 1226.1L1042.4 1232.8L1043.4 1226.1L1046.2 1226.1L1047.1 1232.8L1048.1 1226.1L1049 1219.5L1049.9 1219.5L1050.9 1226.1L1053.7 1226.1L1054.6 1232.8L1055.6 1226.1L1056.5 1226.1L1057.4 1232.8L1058.4 1226.1L1061.2 1226.1L1062.1 1219.5L1063.1 1226.1L1064.9 1226.1L1065.9 1232.8L1066.8 1219.5L1067.8 1226.1L1068.7 1232.8L1069.6 1226.1L1070.6 1226.1L1071.5 1232.8L1072.4 1232.8L1073.4 1226.1L1075.3 1226.1L1076.2 1232.8L1077.1 1226.1L1078.1 1232.8L1079 1226.1L1084.6 1226.1L1085.6 1219.5L1086.5 1232.8L1088.4 1232.8L1089.3 1226.1L1090.3 1232.8L1092.1 1232.8L1093.1 1226.1L1094.9 1226.1L1095.9 1232.8L1096.8 1226.1L1097.8 1232.8L1098.7 1226.1L1100.6 1226.1L1101.5 1232.8L1102.4 1226.1L1111.8 1226.1L1112.8 1232.8L1113.7 1226.1L1115.6 1226.1L1116.5 1219.5L1117.4 1232.8L1118.4 1226.1L1119.3 1226.1L1120.3 1232.8L1121.2 1226.1L1123.1 1226.1L1124 1232.8L1124.9 1226.1L1126.8 1226.1L1127.8 1232.8L1128.7 1226.1L1129.6 1219.5L1130.6 1226.1L1134.3 1226.1L1135.3 1232.8L1136.2 1232.8L1137.1 1226.1L1139 1226.1L1139.9 1219.5L1140.9 1226.1L1143.7 1226.1L1144.6 1232.8L1145.6 1226.1L1153.1 1226.1L1154 1232.8" fill="none" stroke="#ffff00" stroke-width="1.15" stroke-linejoin="round"/>
</g>
<rect x="165" y="1387" width="989" height="1.1" fill="#dfdfdf"/>
<rect x="411.7" y="1306.5" width="1.1" height="162.8" fill="#dfdfdf"/>
<rect x="659" y="1306.5" width="1.1" height="162.8" fill="#dfdfdf"/>
<rect x="906.2" y="1306.5" width="1.1" height="162.8" fill="#dfdfdf"/>
<path d="M165.5 1387.5h10.2M1154.5 1387.5h-10.2M412.2 1306.5v10.3M412.2 1469.3v-10.3M659.5 1306.5v10.3M659.5 1469.3v-10.3M906.8 1306.5v10.3M906.8 1469.3v-10.3" stroke="#262626" stroke-width="1.2" fill="none"/>
<rect x="165.5" y="1306.5" width="989" height="162.8" fill="none" stroke="#262626" stroke-width="1.2"/>
<text x="115.6" y="1313.2" font-size="21.98" textLength="39.8" lengthAdjust="spacingAndGlyphs" fill="#262626">100</text>
<text x="142.1" y="1394.2" font-size="21.98" textLength="13.3" lengthAdjust="spacingAndGlyphs" fill="#262626">0</text>
<text x="108.1" y="1476" font-size="21.98" textLength="47.3" lengthAdjust="spacingAndGlyphs" fill="#262626">-100</text>
<clipPath id="c_vo"><rect x="165" y="1305.9" width="989.6" height="164.2"/></clipPath>
<g clip-path="url(#c_vo)">
<path d="M165 1420.5L165.9 1422.2L264.4 1422.2L265.3 1418.7L266.2 1422.2L617.8 1422.2L618.7 1426.2L619.7 1422.2L1073.4 1422.2L1074.3 1425.7L1075.3 1422.2L1076.2 1425.2L1077.1 1422.2L1154 1422.2" fill="none" stroke="#2a2aff" stroke-width="1.5" stroke-linejoin="round"/>
<path d="M165 1424L165.9 1410L166.9 1396L167.8 1392L405 1392L405.9 1384L406.9 1392L409.7 1392L410.6 1384L411.5 1384L412.5 1392L420.9 1392L421.9 1384L422.8 1392L426.5 1392L427.5 1384L428.4 1392L434 1392L435 1384L435.9 1392L450.9 1392L451.9 1384L452.8 1392L453.7 1392L454.7 1384L455.6 1392L459.4 1392L460.3 1384L461.2 1392L471.5 1392L472.5 1384L473.4 1392L481.9 1392L482.8 1384L483.7 1392L484.7 1384L485.6 1392L486.5 1384L488.4 1384L489.4 1392L490.3 1384L491.2 1392L492.2 1392L493.1 1384L494 1384L495 1392L495.9 1392L496.9 1384L497.8 1384L498.7 1392L500.6 1392L501.5 1384L502.5 1384L503.4 1392L504.4 1392L505.3 1384L506.2 1392L508.1 1392L509 1384L510 1392L510.9 1384L511.9 1384L512.8 1392L513.7 1384L514.7 1392L518.4 1392L519.4 1384L520.3 1392L521.2 1392L522.2 1384L523.1 1392L524 1384L525 1392L525.9 1384L526.9 1392L527.8 1384L528.7 1392L529.7 1392L530.6 1384L531.5 1384L532.5 1392L536.2 1392L537.2 1384L538.1 1384L539 1392L540 1392L540.9 1384L541.9 1392L542.8 1384L544.7 1384L545.6 1392L548.4 1392L549.4 1384L550.3 1392L553.1 1392L554 1384L555 1392L555.9 1384L556.9 1392L558.7 1392L559.7 1384L560.6 1392L568.1 1392L569 1384L570 1392L577.5 1392L578.4 1384L579.3 1392L584 1392L585 1384L585.9 1392L591.5 1392L592.5 1384L593.4 1392L594.3 1392L595.3 1384L596.2 1392L597.2 1384L598.1 1392L599 1384L600 1392L600.9 1384L601.8 1392L602.8 1384L603.7 1384L604.7 1392L614 1392L615 1384L615.9 1392L621.5 1392L622.5 1384L623.4 1392L624.3 1392L625.3 1384L626.2 1392L627.2 1392L628.1 1384L629 1392L631.8 1392L632.8 1384L633.7 1392L635.6 1392L636.5 1384L637.5 1384L638.4 1392L644 1392L645 1384L646.8 1384L647.8 1392L648.7 1384L649.7 1392L650.6 1384L651.5 1392L660 1392L660.9 1384L661.8 1392L667.5 1392L668.4 1384L669.3 1392L684.3 1392L685.3 1384L686.2 1384L687.2 1392L691.8 1392L692.8 1384L693.7 1392L701.2 1392L702.2 1384L703.1 1392L713.4 1392L714.3 1384L715.3 1392L717.2 1392L718.1 1384L719 1384L720 1392L733.1 1392L734 1384L735 1392L779 1392L780 1384L780.9 1392L781.8 1392L782.8 1384L783.7 1392L786.5 1392L787.5 1384L788.4 1392L802.5 1392L803.4 1384L804.3 1392L806.2 1392L807.1 1384L808.1 1392L813.7 1392L814.6 1384L815.6 1392L820.3 1392L821.2 1384L822.1 1392L829.6 1392L830.6 1384L831.5 1392L853.1 1392L854 1384L855 1392L921.5 1392L922.5 1384L923.4 1392L1021.8 1392L1022.8 1384L1023.7 1392L1036.8 1392L1037.8 1384L1038.7 1392L1039.6 1384L1040.6 1392L1041.5 1384L1042.4 1384L1043.4 1392L1051.8 1392L1052.8 1384L1053.7 1392L1054.6 1384L1056.5 1384L1057.4 1392L1060.3 1392L1061.2 1384L1062.1 1392L1063.1 1392L1064 1384L1064.9 1392L1065.9 1384L1066.8 1392L1067.8 1384L1068.7 1384L1069.6 1392L1070.6 1384L1071.5 1392L1072.4 1392L1073.4 1384L1074.3 1392L1078.1 1392L1079 1384L1079.9 1384L1080.9 1392L1081.8 1384L1085.6 1384L1086.5 1392L1087.4 1384L1090.3 1384L1091.2 1392L1092.1 1384L1094 1384L1094.9 1392L1095.9 1384L1096.8 1384L1097.8 1392L1098.7 1384L1099.6 1392L1100.6 1384L1101.5 1392L1102.4 1384L1103.4 1392L1104.3 1384L1109 1384L1109.9 1392L1110.9 1392L1111.8 1384L1112.8 1392L1113.7 1384L1115.6 1384L1116.5 1392L1117.4 1384L1118.4 1392L1119.3 1384L1121.2 1384L1122.1 1392L1123.1 1384L1124 1384L1124.9 1392L1126.8 1392L1127.8 1384L1128.7 1384L1129.6 1392L1130.6 1392L1131.5 1384L1132.4 1384L1133.4 1392L1134.3 1384L1136.2 1384L1137.1 1392L1138.1 1384L1139 1392L1139.9 1384L1140.9 1384L1141.8 1392L1142.8 1392L1143.7 1384L1144.6 1384L1145.6 1392L1146.5 1384L1147.4 1384L1148.4 1392L1149.3 1392L1150.3 1384L1151.2 1392L1152.1 1384L1153.1 1384L1154 1392" fill="none" stroke="#00ffff" stroke-width="1.15" stroke-linejoin="round"/>
<path d="M165 1393L165.9 1396L166.9 1398.8L172.5 1398.8L173.4 1395.6L174.4 1398.8L180.9 1398.8L181.9 1397.2L182.8 1398.8L192.2 1398.8L193.1 1400.4L194.1 1398.8L200.6 1398.8L201.6 1395.6L202.5 1398.8L204.4 1398.8L205.3 1402L206.2 1398.8L212.8 1398.8L213.7 1400.4L214.7 1398.8L217.5 1398.8L218.4 1400.4L219.4 1400.4L220.3 1398.8L223.1 1398.8L224.1 1397.2L225 1398.8L225.9 1397.2L226.9 1398.8L227.8 1398.8L228.7 1402L229.7 1398.8L240.9 1398.8L241.9 1397.2L242.8 1398.8L247.5 1398.8L248.4 1402L249.4 1398.8L259.7 1398.8L260.6 1400.4L261.6 1400.4L262.5 1398.8L264.4 1398.8L265.3 1395.6L266.2 1398.8L270 1398.8L270.9 1397.2L271.9 1398.8L273.7 1398.8L274.7 1400.4L275.6 1398.8L280.3 1398.8L281.2 1400.4L282.2 1398.8L288.7 1398.8L289.7 1395.6L290.6 1398.8L291.6 1400.4L292.5 1398.8L293.4 1397.2L294.4 1398.8L300.9 1398.8L301.9 1402L302.8 1398.8L303.7 1397.2L304.7 1398.8L305.6 1400.4L306.6 1398.8L307.5 1397.2L308.4 1398.8L312.2 1398.8L313.1 1400.4L314.1 1400.4L315 1398.8L315.9 1400.4L316.9 1395.6L317.8 1398.8L319.7 1398.8L320.6 1395.6L321.6 1397.2L322.5 1398.8L323.4 1397.2L324.4 1398.8L328.1 1398.8L329.1 1395.6L330 1398.8L333.7 1398.8L334.7 1397.2L335.6 1398.8L336.6 1398.8L337.5 1402L338.4 1398.8L357.2 1398.8L358.1 1402L359.1 1402L360 1398.8L365.6 1398.8L366.5 1397.2L367.5 1398.8L368.4 1398.8L369.4 1397.2L370.3 1398.8L378.7 1398.8L379.7 1397.2L380.6 1398.8L384.4 1398.8L385.3 1400.4L386.2 1398.8L387.2 1395.6L388.1 1398.8L390 1398.8L390.9 1397.2L391.9 1398.8L395.6 1398.8L396.5 1397.2L397.5 1398.8L401.2 1398.8L402.2 1395.6L403.1 1398.8L404 1395.6L405 1398.8L412.5 1398.8L413.4 1400.4L414.4 1400.4L415.3 1398.8L416.2 1400.4L417.2 1395.6L418.1 1395.6L419 1398.8L423.7 1398.8L424.7 1395.6L425.6 1398.8L426.5 1395.6L427.5 1398.8L428.4 1395.6L429.4 1397.2L430.3 1398.8L432.2 1398.8L433.1 1397.2L434 1398.8L445.3 1398.8L446.2 1402L447.2 1398.8L449 1398.8L450 1402L450.9 1398.8L451.9 1398.8L452.8 1402L453.7 1398.8L458.4 1398.8L459.4 1400.4L460.3 1395.6L461.2 1397.2L462.2 1398.8L464 1398.8L465 1402L465.9 1402L466.9 1398.8L468.7 1398.8L469.7 1395.6L470.6 1395.6L471.5 1398.8L473.4 1398.8L474.4 1402L475.3 1398.8L489.4 1398.8L490.3 1395.6L491.2 1400.4L492.2 1398.8L493.1 1402L494 1402L495 1398.8L502.5 1398.8L503.4 1397.2L504.4 1398.8L505.3 1400.4L506.2 1398.8L511.9 1398.8L512.8 1395.6L513.7 1402L514.7 1398.8L515.6 1402L516.5 1398.8L520.3 1398.8L521.2 1397.2L522.2 1398.8L523.1 1402L524 1397.2L525 1398.8L539 1398.8L540 1395.6L540.9 1400.4L541.9 1398.8L555 1398.8L555.9 1395.6L556.9 1398.8L561.5 1398.8L562.5 1400.4L563.4 1395.6L564.3 1398.8L576.5 1398.8L577.5 1400.4L578.4 1398.8L579.3 1398.8L580.3 1400.4L581.2 1397.2L582.2 1398.8L585 1398.8L585.9 1395.6L586.8 1397.2L587.8 1398.8L592.5 1398.8L593.4 1400.4L594.3 1398.8L595.3 1395.6L596.2 1398.8L598.1 1398.8L599 1397.2L600 1398.8L604.7 1398.8L605.6 1400.4L606.5 1398.8L611.2 1398.8L612.2 1402L613.1 1398.8L616.8 1398.8L617.8 1397.2L618.7 1398.8L632.8 1398.8L633.7 1402L634.7 1398.8L635.6 1397.2L636.5 1400.4L637.5 1400.4L638.4 1398.8L645.9 1398.8L646.8 1402L647.8 1398.8L657.2 1398.8L658.1 1397.2L659 1398.8L660 1400.4L660.9 1398.8L663.7 1398.8L664.7 1395.6L665.6 1398.8L666.5 1397.2L667.5 1398.8L672.2 1398.8L673.1 1402L674 1397.2L675 1398.8L690 1398.8L690.9 1400.4L691.8 1398.8L700.3 1398.8L701.2 1402L702.2 1398.8L703.1 1402L704 1398.8L705 1395.6L705.9 1398.8L706.8 1400.4L707.8 1395.6L708.7 1398.8L709.7 1395.6L710.6 1398.8L711.5 1395.6L712.5 1398.8L713.4 1398.8L714.3 1400.4L715.3 1398.8L721.8 1398.8L722.8 1402L723.7 1400.4L724.7 1398.8L725.6 1398.8L726.5 1400.4L727.5 1398.8L728.4 1395.6L729.3 1395.6L730.3 1397.2L731.2 1398.8L732.2 1402L733.1 1398.8L734 1400.4L735 1398.8L741.5 1398.8L742.5 1402L743.4 1398.8L747.2 1398.8L748.1 1402L749 1398.8L750 1397.2L750.9 1398.8L757.5 1398.8L758.4 1400.4L759.3 1398.8L763.1 1398.8L764 1400.4L765 1398.8L775.3 1398.8L776.2 1397.2L777.1 1398.8L779 1398.8L780 1402L780.9 1400.4L781.8 1402L782.8 1398.8L784.6 1398.8L785.6 1402L786.5 1398.8L793.1 1398.8L794 1400.4L795 1398.8L795.9 1395.6L796.8 1397.2L797.8 1400.4L798.7 1398.8L805.3 1398.8L806.2 1400.4L807.1 1398.8L808.1 1397.2L809 1398.8L810 1398.8L810.9 1395.6L811.8 1398.8L814.6 1398.8L815.6 1402L816.5 1402L817.5 1398.8L818.4 1395.6L819.3 1398.8L824 1398.8L825 1397.2L825.9 1400.4L826.8 1398.8L827.8 1402L828.7 1398.8L836.2 1398.8L837.1 1400.4L838.1 1398.8L841.8 1398.8L842.8 1400.4L843.7 1395.6L844.6 1398.8L846.5 1398.8L847.5 1395.6L848.4 1400.4L849.3 1398.8L855 1398.8L855.9 1397.2L856.8 1398.8L858.7 1398.8L859.6 1400.4L860.6 1398.8L865.3 1398.8L866.2 1395.6L867.1 1398.8L868.1 1400.4L869 1398.8L873.7 1398.8L874.6 1395.6L875.6 1398.8L876.5 1397.2L877.5 1395.6L878.4 1398.8L879.3 1402L880.3 1402L881.2 1398.8L882.1 1397.2L883.1 1398.8L893.4 1398.8L894.3 1397.2L895.3 1398.8L896.2 1398.8L897.1 1400.4L898.1 1398.8L899 1402L900 1398.8L900.9 1397.2L901.8 1398.8L902.8 1398.8L903.7 1395.6L904.6 1402L905.6 1398.8L906.5 1398.8L907.5 1397.2L908.4 1397.2L909.3 1398.8L911.2 1398.8L912.1 1395.6L913.1 1398.8L914 1397.2L915 1398.8L918.7 1398.8L919.6 1402L920.6 1400.4L921.5 1398.8L930 1398.8L930.9 1397.2L931.8 1400.4L932.8 1398.8L934.6 1398.8L935.6 1395.6L936.5 1398.8L938.4 1398.8L939.3 1400.4L940.3 1398.8L945 1398.8L945.9 1395.6L946.8 1398.8L947.8 1395.6L948.7 1398.8L949.6 1398.8L950.6 1395.6L951.5 1395.6L952.5 1398.8L953.4 1402L954.3 1402L955.3 1398.8L956.2 1400.4L957.1 1398.8L958.1 1398.8L959 1400.4L959.9 1398.8L962.8 1398.8L963.7 1397.2L964.6 1400.4L965.6 1397.2L966.5 1398.8L970.3 1398.8L971.2 1400.4L972.1 1398.8L974.9 1398.8L975.9 1402L976.8 1398.8L978.7 1398.8L979.6 1397.2L980.6 1398.8L981.5 1398.8L982.4 1395.6L983.4 1398.8L989 1398.8L989.9 1397.2L990.9 1398.8L996.5 1398.8L997.4 1395.6L998.4 1398.8L1000.3 1398.8L1001.2 1400.4L1002.1 1398.8L1010.6 1398.8L1011.5 1397.2L1012.4 1398.8L1015.3 1398.8L1016.2 1402L1017.1 1398.8L1020.9 1398.8L1021.8 1400.4L1022.8 1398.8L1026.5 1398.8L1027.4 1400.4L1028.4 1398.8L1030.3 1398.8L1031.2 1397.2L1032.1 1395.6L1033.1 1398.8L1043.4 1398.8L1044.3 1400.4L1045.3 1398.8L1046.2 1395.6L1047.1 1398.8L1066.8 1398.8L1067.8 1395.6L1068.7 1398.8L1070.6 1398.8L1071.5 1395.6L1072.4 1398.8L1073.4 1398.8L1074.3 1402L1075.3 1398.8L1076.2 1402L1077.1 1398.8L1079 1398.8L1079.9 1402L1080.9 1398.8L1081.8 1400.4L1082.8 1398.8L1083.7 1400.4L1084.6 1398.8L1094.9 1398.8L1095.9 1402L1096.8 1395.6L1097.8 1398.8L1100.6 1398.8L1101.5 1397.2L1102.4 1398.8L1105.3 1398.8L1106.2 1400.4L1107.1 1398.8L1111.8 1398.8L1112.8 1402L1113.7 1398.8L1120.3 1398.8L1121.2 1395.6L1122.1 1400.4L1123.1 1398.8L1124 1402L1124.9 1398.8L1138.1 1398.8L1139 1400.4L1139.9 1398.8L1140.9 1395.6L1141.8 1398.8L1142.8 1397.2L1143.7 1398.8L1145.6 1398.8L1146.5 1402L1147.4 1402L1148.4 1398.8L1152.1 1398.8L1153.1 1395.6L1154 1398.8" fill="none" stroke="#00ff00" stroke-width="1.15" stroke-linejoin="round"/>
<path d="M165 1444L165.7 1428L166.3 1412L167 1404L167.6 1392.6L168.3 1400L169 1407.6L169.6 1392.6L170.3 1407.6L170.9 1392.6L171.6 1400L172.3 1407.6L172.9 1383.4L173.6 1400L176.2 1400L176.9 1416L177.5 1383.4L178.2 1416L178.9 1392.6L179.5 1383.4L180.2 1407.6L180.8 1400L181.5 1392.6L182.2 1392.6L182.8 1407.6L183.5 1407.6L184.1 1383.4L184.8 1392.6L185.5 1416L186.1 1407.6L186.8 1400L187.4 1392.6L188.1 1407.6L190.1 1407.6L190.7 1400L191.4 1407.6L192.1 1392.6L192.7 1407.6L193.4 1400L194.7 1400L195.3 1407.6L196 1407.6L196.7 1392.6L197.3 1407.6L198 1392.6L198.6 1392.6L199.3 1383.4L200 1407.6L200.6 1407.6L201.3 1392.6L201.9 1407.6L202.6 1407.6L203.3 1392.6L203.9 1392.6L204.6 1400L205.2 1392.6L205.9 1400L206.6 1392.6L207.2 1407.6L207.9 1392.6L208.5 1407.6L209.2 1407.6L209.9 1392.6L210.5 1392.6L211.2 1400L211.8 1407.6L213.8 1407.6L214.5 1400L215.1 1407.6L215.8 1416L216.5 1400L217.1 1400L217.8 1392.6L218.4 1407.6L219.1 1400L219.8 1400L220.4 1392.6L221.1 1407.6L221.7 1400L222.4 1400L223.1 1392.6L223.7 1400L224.4 1392.6L225 1407.6L225.7 1407.6L226.4 1392.6L227 1407.6L227.7 1392.6L228.3 1407.6L229 1416L229.7 1400L230.3 1392.6L231 1407.6L231.6 1383.4L232.3 1392.6L233 1400L233.6 1407.6L234.3 1383.4L234.9 1416L235.6 1407.6L236.3 1400L236.9 1407.6L237.6 1383.4L238.2 1392.6L238.9 1392.6L239.6 1400L240.2 1400L240.9 1392.6L241.5 1400L242.2 1407.6L242.9 1400L243.5 1400L244.2 1392.6L246.2 1392.6L246.8 1407.6L247.5 1400L248.1 1407.6L250.1 1407.6L250.8 1392.6L251.4 1407.6L252.1 1383.4L252.7 1416L253.4 1392.6L254.1 1407.6L254.7 1392.6L255.4 1400L256 1416L256.7 1400L257.4 1392.6L258 1400L258.7 1392.6L261.3 1392.6L262 1407.6L262.6 1400L263.3 1407.6L264 1407.6L264.6 1392.6L266.6 1392.6L267.3 1407.6L269.9 1407.6L270.6 1400L271.2 1407.6L271.9 1400L272.5 1407.6L273.2 1407.6L273.9 1392.6L274.5 1400L275.2 1407.6L275.8 1407.6L276.5 1400L277.2 1400L277.8 1392.6L278.5 1407.6L279.1 1400L279.8 1407.6L280.5 1400L281.1 1407.6L281.8 1407.6L282.4 1416L283.1 1392.6L283.8 1392.6L284.4 1400L285.1 1407.6L285.7 1392.6L286.4 1392.6L287.1 1400L287.7 1400L288.4 1392.6L289 1400L291 1400L291.7 1383.4L292.3 1407.6L293 1400L293.7 1400L294.3 1407.6L295 1392.6L295.6 1392.6L296.3 1407.6L297 1400L297.6 1400L298.3 1392.6L298.9 1407.6L299.6 1392.6L300.3 1407.6L300.9 1400L301.6 1400L302.2 1407.6L302.9 1392.6L303.6 1407.6L304.2 1400L304.9 1400L305.5 1392.6L306.2 1407.6L306.9 1400L307.5 1407.6L308.2 1383.4L308.8 1392.6L310.8 1392.6L311.5 1407.6L312.1 1400L312.8 1392.6L313.4 1407.6L314.1 1400L314.8 1400L315.4 1407.6L317.4 1407.6L318.1 1400L318.7 1383.4L319.4 1400L320 1407.6L320.7 1392.6L321.4 1407.6L322 1407.6L322.7 1400L323.3 1392.6L324 1407.6L324.7 1407.6L325.3 1392.6L326 1407.6L326.6 1392.6L327.3 1407.6L328 1400L328.6 1407.6L329.3 1400L329.9 1416L330.6 1400L331.3 1407.6L331.9 1407.6L332.6 1392.6L333.2 1383.4L333.9 1416L334.6 1383.4L335.2 1400L336.5 1400L337.2 1392.6L337.9 1407.6L338.5 1392.6L339.2 1392.6L339.8 1400L340.5 1392.6L343.1 1392.6L343.8 1400L344.5 1392.6L345.1 1400L345.8 1392.6L348.4 1392.6L349.1 1400L349.7 1407.6L350.4 1400L351.1 1392.6L351.7 1407.6L353 1407.6L353.7 1392.6L354.4 1407.6L355 1407.6L355.7 1392.6L356.3 1407.6L357 1392.6L357.7 1392.6L358.3 1407.6L359 1400L359.6 1400L360.3 1407.6L362.3 1407.6L362.9 1400L363.6 1407.6L364.3 1407.6L364.9 1400L365.6 1407.6L368.9 1407.6L369.5 1392.6L370.2 1407.6L370.8 1407.6L371.5 1392.6L372.2 1392.6L372.8 1407.6L373.5 1392.6L374.8 1392.6L375.5 1407.6L376.1 1400L376.8 1407.6L377.4 1407.6L378.1 1400L378.8 1407.6L379.4 1400L380.1 1392.6L380.7 1400L381.4 1392.6L382.1 1392.6L382.7 1407.6L383.4 1392.6L384 1383.4L384.7 1407.6L385.4 1392.6L386.7 1392.6L387.3 1416L388 1392.6L388.7 1400L389.3 1392.6L390 1400L390.6 1392.6L391.3 1392.6L392 1400L392.6 1407.6L393.3 1400L393.9 1407.6L394.6 1407.6L395.3 1400L395.9 1392.6L396.6 1400L397.2 1392.6L397.9 1392.6L398.6 1407.6L399.9 1407.6L400.5 1400L401.2 1407.6L401.9 1400L402.5 1407.6L403.2 1392.6L403.8 1407.6L404.5 1400L405.8 1400L406.5 1407.6L407.1 1400L407.8 1407.6L408.5 1392.6L409.1 1400L409.8 1407.6L410.4 1400L411.1 1392.6L411.8 1392.6L412.4 1400L413.1 1392.6L413.7 1400L414.4 1407.6L415.1 1383.4L415.7 1407.6L416.4 1400L417 1392.6L417.7 1400L418.4 1416L419 1407.6L419.7 1400L420.3 1400L421 1407.6L421.7 1392.6L422.3 1407.6L423.6 1407.6L424.3 1400L425 1400L425.6 1407.6L426.3 1400L426.9 1407.6L428.2 1407.6L428.9 1400L429.6 1400L430.2 1416L430.9 1407.6L431.5 1392.6L432.2 1407.6L432.9 1392.6L433.5 1392.6L434.2 1400L434.8 1407.6L435.5 1392.6L436.2 1400L436.8 1407.6L437.5 1416L438.1 1392.6L438.8 1400L439.5 1392.6L440.1 1407.6L440.8 1400L441.4 1392.6L442.1 1407.6L444.1 1407.6L444.7 1400L445.4 1407.6L446.1 1392.6L446.7 1400L447.4 1400L448 1407.6L448.7 1407.6L449.4 1400L450 1416L450.7 1407.6L451.3 1407.6L452 1392.6L452.7 1407.6L453.3 1407.6L454 1400L454.6 1407.6L455.3 1383.4L456 1400L456.6 1392.6L457.3 1407.6L457.9 1407.6L458.6 1392.6L459.3 1392.6L459.9 1407.6L460.6 1400L461.2 1400L461.9 1392.6L462.6 1392.6L463.2 1407.6L463.9 1416L464.5 1392.6L466.5 1392.6L467.2 1400L467.8 1400L468.5 1407.6L469.2 1416L469.8 1392.6L470.5 1400L471.1 1392.6L471.8 1392.6L472.5 1400L473.1 1400L473.8 1407.6L475.1 1407.6L475.8 1400L477.1 1400L477.7 1407.6L478.4 1392.6L479.1 1400L479.7 1407.6L480.4 1416L481 1392.6L481.7 1400L482.4 1407.6L483 1400L483.7 1407.6L484.3 1416L485 1400L485.6 1392.6L486.3 1400L487 1392.6L487.6 1392.6L488.3 1407.6L488.9 1392.6L489.6 1407.6L490.9 1407.6L491.6 1400L492.2 1400L492.9 1416L493.6 1383.4L494.2 1407.6L494.9 1416L495.5 1400L496.2 1407.6L496.9 1400L497.5 1392.6L498.2 1392.6L498.8 1407.6L499.5 1400L500.2 1407.6L500.8 1400L501.5 1392.6L502.1 1407.6L504.1 1407.6L504.8 1383.4L505.4 1392.6L506.1 1392.6L506.8 1400L507.4 1407.6L508.1 1407.6L508.7 1400L509.4 1407.6L510.1 1400L510.7 1392.6L511.4 1400L512 1400L512.7 1383.4L513.4 1407.6L514 1407.6L514.7 1392.6L515.3 1383.4L516 1392.6L516.7 1407.6L517.3 1400L518 1407.6L518.6 1392.6L519.3 1400L520 1407.6L520.6 1400L521.3 1400L521.9 1392.6L522.6 1407.6L523.3 1407.6L523.9 1392.6L524.6 1400L525.2 1400L525.9 1407.6L526.6 1400L527.2 1400L527.9 1392.6L528.5 1400L529.2 1400L529.9 1392.6L531.2 1392.6L531.8 1400L532.5 1392.6L533.2 1400L533.8 1392.6L535.8 1392.6L536.5 1416L537.1 1392.6L537.8 1407.6L538.4 1407.6L539.1 1400L541.7 1400L542.4 1407.6L543.1 1400L543.7 1400L544.4 1407.6L545 1407.6L545.7 1400L546.3 1400L547 1407.6L547.7 1392.6L548.3 1407.6L549.6 1407.6L550.3 1400L551 1407.6L553.6 1407.6L554.3 1392.6L554.9 1407.6L555.6 1407.6L556.2 1400L556.9 1400L557.6 1392.6L558.2 1400L558.9 1400L559.5 1407.6L560.2 1392.6L560.9 1400L561.5 1407.6L562.2 1392.6L562.8 1407.6L563.5 1392.6L564.2 1407.6L564.8 1392.6L565.5 1407.6L566.1 1392.6L566.8 1407.6L568.1 1407.6L568.8 1400L570.8 1400L571.4 1383.4L572.1 1407.6L572.7 1407.6L573.4 1392.6L574.1 1407.6L574.7 1392.6L575.4 1407.6L577.4 1407.6L578 1392.6L578.7 1407.6L579.3 1400L580 1416L580.7 1407.6L582 1407.6L582.6 1400L583.3 1407.6L584 1407.6L584.6 1400L585.3 1400L585.9 1383.4L586.6 1392.6L587.3 1383.4L587.9 1392.6L588.6 1392.6L589.2 1407.6L589.9 1407.6L590.6 1392.6L591.2 1407.6L591.9 1407.6L592.5 1416L593.2 1400L593.9 1400L594.5 1407.6L596.5 1407.6L597.2 1400L597.8 1407.6L598.5 1392.6L599.1 1407.6L599.8 1383.4L600.5 1392.6L601.1 1407.6L602.4 1407.6L603.1 1392.6L603.7 1407.6L606.4 1407.6L607 1400L607.7 1416L608.4 1407.6L609 1407.6L609.7 1400L610.3 1392.6L611 1407.6L611.7 1400L612.3 1392.6L613 1407.6L614.3 1407.6L615 1400L615.6 1400L616.3 1407.6L616.9 1407.6L617.6 1392.6L618.3 1407.6L618.9 1392.6L619.6 1392.6L620.2 1400L620.9 1416L621.6 1400L622.2 1407.6L622.9 1400L623.5 1407.6L624.2 1400L624.9 1407.6L625.5 1383.4L626.2 1392.6L626.8 1407.6L627.5 1407.6L628.2 1400L628.8 1392.6L629.5 1407.6L630.1 1400L630.8 1400L631.5 1407.6L632.1 1400L632.8 1392.6L634.8 1392.6L635.4 1400L636.7 1400L637.4 1407.6L638.1 1407.6L638.7 1400L639.4 1407.6L640 1392.6L640.7 1400L641.4 1400L642 1407.6L642.7 1383.4L643.3 1400L644 1392.6L644.7 1392.6L645.3 1383.4L646 1400L646.6 1407.6L647.3 1392.6L648 1407.6L648.6 1392.6L649.3 1392.6L649.9 1407.6L650.6 1407.6L651.3 1392.6L651.9 1400L652.6 1416L653.2 1407.6L653.9 1400L654.6 1392.6L655.2 1407.6L655.9 1407.6L656.5 1400L657.2 1392.6L657.9 1392.6L658.5 1400L659.2 1400L659.8 1392.6L660.5 1407.6L661.1 1392.6L661.8 1407.6L662.5 1400L667.1 1400L667.7 1407.6L668.4 1407.6L669.1 1383.4L669.7 1392.6L670.4 1407.6L671.7 1407.6L672.4 1392.6L673 1407.6L673.7 1400L674.3 1392.6L675 1400L675.7 1392.6L676.3 1400L677 1407.6L677.6 1407.6L678.3 1400L679 1407.6L680.3 1407.6L680.9 1392.6L681.6 1407.6L682.3 1383.4L682.9 1392.6L683.6 1407.6L684.2 1392.6L684.9 1400L685.6 1383.4L686.2 1407.6L686.9 1400L687.5 1400L688.2 1392.6L688.9 1400L689.5 1416L690.2 1407.6L690.8 1392.6L691.5 1392.6L692.2 1407.6L692.8 1407.6L693.5 1392.6L694.1 1407.6L694.8 1400L695.5 1392.6L696.1 1392.6L696.8 1416L697.4 1400L698.1 1383.4L698.8 1400L699.4 1407.6L700.1 1400L700.7 1392.6L701.4 1407.6L702.1 1400L703.4 1400L704 1392.6L705.4 1392.6L706 1407.6L706.7 1383.4L707.3 1407.6L708.7 1407.6L709.3 1392.6L710 1400L710.6 1400L711.3 1407.6L713.3 1407.6L713.9 1392.6L714.6 1407.6L715.3 1392.6L715.9 1416L716.6 1392.6L717.2 1400L719.2 1400L719.9 1407.6L720.5 1416L721.2 1400L721.8 1407.6L722.5 1392.6L723.2 1400L723.8 1407.6L724.5 1392.6L725.1 1407.6L725.8 1407.6L726.5 1392.6L728.4 1392.6L729.1 1407.6L729.8 1392.6L730.4 1407.6L731.1 1400L731.7 1400L732.4 1407.6L733.1 1383.4L733.7 1407.6L735.7 1407.6L736.4 1383.4L737 1400L737.7 1407.6L739.7 1407.6L740.3 1392.6L741 1400L741.6 1392.6L742.3 1400L743 1407.6L743.6 1400L744.3 1392.6L744.9 1392.6L745.6 1407.6L746.3 1407.6L746.9 1383.4L747.6 1407.6L748.2 1392.6L748.9 1392.6L749.6 1407.6L750.2 1392.6L750.9 1407.6L751.5 1400L752.2 1400L752.9 1392.6L754.2 1392.6L754.8 1383.4L755.5 1392.6L756.2 1407.6L756.8 1407.6L757.5 1400L758.1 1407.6L758.8 1392.6L759.5 1400L760.1 1416L760.8 1400L761.4 1392.6L762.1 1407.6L762.8 1407.6L763.4 1400L764.1 1407.6L764.7 1407.6L765.4 1416L766.1 1400L766.7 1392.6L767.4 1400L768 1407.6L768.7 1392.6L769.4 1407.6L770 1400L770.7 1407.6L771.3 1400L772 1392.6L772.7 1407.6L773.3 1392.6L774 1392.6L774.6 1416L775.3 1407.6L775.9 1400L776.6 1407.6L777.9 1407.6L778.6 1400L779.2 1407.6L779.9 1392.6L780.6 1407.6L781.2 1400L781.9 1407.6L782.5 1392.6L783.2 1400L783.9 1400L784.5 1392.6L785.2 1400L785.8 1392.6L786.5 1407.6L787.2 1383.4L787.8 1392.6L788.5 1392.6L789.1 1400L789.8 1400L790.5 1407.6L791.1 1407.6L791.8 1400L792.4 1400L793.1 1407.6L793.8 1392.6L794.4 1400L795.7 1400L796.4 1392.6L797.1 1400L798.4 1400L799 1407.6L799.7 1392.6L800.4 1400L801 1400L801.7 1407.6L802.3 1400L803.7 1400L804.3 1407.6L805 1400L805.6 1407.6L806.3 1400L807 1407.6L807.6 1392.6L808.3 1400L808.9 1400L809.6 1416L810.3 1392.6L810.9 1392.6L811.6 1407.6L812.2 1392.6L812.9 1407.6L813.6 1407.6L814.2 1400L814.9 1383.4L815.5 1400L816.2 1407.6L817.5 1407.6L818.2 1392.6L818.8 1400L819.5 1400L820.2 1392.6L820.8 1400L821.5 1407.6L822.1 1407.6L822.8 1400L823.5 1392.6L824.1 1400L824.8 1392.6L825.4 1400L826.1 1407.6L826.8 1392.6L827.4 1400L828.1 1392.6L828.7 1400L829.4 1407.6L830.1 1400L830.7 1400L831.4 1407.6L832 1407.6L832.7 1400L834 1400L834.7 1392.6L836 1392.6L836.6 1400L837.3 1392.6L838 1407.6L838.6 1407.6L839.3 1400L839.9 1400L840.6 1392.6L841.3 1407.6L841.9 1407.6L842.6 1383.4L843.2 1400L843.9 1407.6L844.6 1416L845.2 1400L845.9 1392.6L846.5 1400L847.2 1407.6L847.9 1400L848.5 1407.6L849.2 1400L849.8 1400L850.5 1392.6L851.2 1400L851.8 1407.6L852.5 1407.6L853.1 1392.6L853.8 1407.6L854.5 1392.6L855.1 1392.6L855.8 1407.6L856.4 1400L857.8 1400L858.4 1392.6L859.1 1392.6L859.7 1400L860.4 1407.6L862.4 1407.6L863 1400L863.7 1407.6L864.4 1400L867.7 1400L868.3 1392.6L869 1407.6L869.6 1416L870.3 1407.6L871 1400L871.6 1392.6L872.3 1407.6L872.9 1392.6L873.6 1400L874.3 1407.6L874.9 1392.6L875.6 1400L876.9 1400L877.6 1407.6L878.2 1392.6L878.9 1400L879.5 1392.6L880.2 1400L880.9 1407.6L881.5 1400L882.2 1407.6L882.8 1392.6L883.5 1407.6L884.8 1407.6L885.5 1400L886.1 1407.6L886.8 1407.6L887.5 1400L888.1 1407.6L888.8 1392.6L889.4 1407.6L890.1 1392.6L890.8 1392.6L891.4 1407.6L892.1 1407.6L892.7 1400L893.4 1392.6L894 1400L894.7 1400L895.4 1407.6L896 1383.4L896.7 1400L897.3 1400L898 1407.6L898.7 1400L899.3 1407.6L900 1400L900.6 1392.6L901.3 1407.6L903.3 1407.6L903.9 1400L904.6 1407.6L905.3 1407.6L905.9 1400L906.6 1400L907.2 1407.6L907.9 1400L908.6 1392.6L909.2 1400L911.2 1400L911.9 1392.6L912.5 1392.6L913.2 1407.6L913.8 1400L914.5 1407.6L915.2 1400L915.8 1392.6L916.5 1392.6L917.1 1400L917.8 1407.6L918.5 1392.6L919.1 1407.6L919.8 1407.6L920.4 1400L921.1 1392.6L921.8 1407.6L922.4 1407.6L923.1 1400L923.7 1407.6L925.7 1407.6L926.4 1400L927 1407.6L927.7 1400L928.4 1392.6L929 1407.6L929.7 1400L930.3 1416L931 1400L932.3 1400L933 1392.6L933.6 1407.6L934.3 1392.6L935 1400L935.6 1407.6L936.3 1407.6L936.9 1392.6L937.6 1400L938.3 1383.4L938.9 1400L939.6 1392.6L940.2 1392.6L940.9 1400L941.6 1407.6L942.2 1407.6L942.9 1392.6L943.5 1400L944.2 1407.6L944.9 1407.6L945.5 1400L946.2 1400L946.8 1407.6L948.2 1407.6L948.8 1392.6L949.5 1407.6L950.1 1392.6L950.8 1392.6L951.4 1407.6L952.1 1392.6L952.8 1407.6L953.4 1392.6L954.1 1400L954.7 1383.4L955.4 1416L956.1 1392.6L956.7 1407.6L957.4 1407.6L958 1400L958.7 1392.6L959.4 1392.6L960 1400L960.7 1407.6L961.3 1400L962 1400L962.7 1392.6L963.3 1392.6L964 1400L964.6 1392.6L965.3 1400L966 1407.6L966.6 1392.6L967.3 1400L968.6 1400L969.3 1392.6L969.9 1400L970.6 1407.6L971.2 1400L971.9 1407.6L973.2 1407.6L973.9 1392.6L974.5 1407.6L975.2 1407.6L975.9 1400L976.5 1407.6L977.2 1416L977.8 1407.6L980.5 1407.6L981.1 1400L981.8 1392.6L982.5 1400L983.1 1400L983.8 1392.6L984.4 1392.6L985.1 1407.6L985.8 1392.6L986.4 1407.6L987.1 1392.6L989.1 1392.6L989.7 1407.6L990.4 1400L991 1392.6L991.7 1400L992.4 1392.6L993 1407.6L993.7 1392.6L994.3 1407.6L995 1416L995.7 1400L996.3 1392.6L997 1407.6L997.6 1407.6L998.3 1400L999 1392.6L999.6 1400L1000.3 1407.6L1000.9 1400L1001.6 1383.4L1002.3 1400L1002.9 1407.6L1003.6 1392.6L1004.2 1407.6L1004.9 1407.6L1005.6 1392.6L1006.9 1392.6L1007.5 1407.6L1008.2 1400L1008.8 1392.6L1010.2 1392.6L1010.8 1407.6L1011.5 1392.6L1012.1 1407.6L1012.8 1392.6L1013.5 1400L1014.1 1392.6L1014.8 1383.4L1015.4 1383.4L1016.1 1392.6L1016.8 1392.6L1017.4 1383.4L1018.1 1400L1018.7 1392.6L1019.4 1407.6L1020.1 1400L1020.7 1383.4L1021.4 1392.6L1022 1407.6L1022.7 1400L1023.4 1392.6L1024 1392.6L1024.7 1400L1025.3 1400L1026 1407.6L1026.7 1392.6L1028.6 1392.6L1029.3 1407.6L1030 1392.6L1030.6 1407.6L1031.3 1407.6L1031.9 1392.6L1032.6 1407.6L1033.3 1392.6L1034.6 1392.6L1035.2 1407.6L1035.9 1416L1036.6 1407.6L1037.2 1407.6L1037.9 1392.6L1038.5 1407.6L1039.2 1392.6L1039.9 1392.6L1040.5 1400L1041.2 1400L1041.8 1407.6L1042.5 1392.6L1043.2 1400L1043.8 1407.6L1044.5 1400L1045.1 1407.6L1046.5 1407.6L1047.1 1400L1047.8 1416L1048.4 1400L1049.1 1400L1049.8 1383.4L1050.4 1392.6L1051.1 1400L1051.7 1407.6L1052.4 1392.6L1053.1 1400L1053.7 1400L1054.4 1392.6L1055 1392.6L1055.7 1407.6L1057.7 1407.6L1058.3 1400L1059 1392.6L1059.7 1407.6L1060.3 1400L1061 1416L1061.6 1400L1062.3 1392.6L1063 1383.4L1063.6 1392.6L1064.3 1400L1064.9 1400L1065.6 1392.6L1066.3 1407.6L1066.9 1400L1067.6 1392.6L1068.2 1407.6L1068.9 1392.6L1069.5 1407.6L1070.2 1400L1070.9 1392.6L1071.5 1407.6L1072.2 1400L1072.8 1400L1073.5 1407.6L1074.8 1407.6L1075.5 1400L1076.1 1392.6L1076.8 1392.6L1077.5 1416L1078.1 1400L1078.8 1407.6L1079.4 1392.6L1080.1 1407.6L1080.8 1407.6L1081.4 1392.6L1082.1 1400L1083.4 1400L1084.1 1407.6L1084.7 1407.6L1085.4 1383.4L1086 1392.6L1086.7 1392.6L1087.4 1407.6L1088 1407.6L1088.7 1392.6L1089.3 1407.6L1090 1392.6L1090.7 1407.6L1091.3 1400L1092 1407.6L1092.6 1392.6L1093.3 1407.6L1094 1400L1094.6 1383.4L1095.3 1392.6L1095.9 1392.6L1096.6 1407.6L1097.3 1407.6L1097.9 1392.6L1098.6 1392.6L1099.2 1407.6L1100.6 1407.6L1101.2 1392.6L1101.9 1407.6L1102.5 1407.6L1103.2 1392.6L1103.9 1407.6L1106.5 1407.6L1107.2 1400L1107.8 1392.6L1108.5 1392.6L1109.1 1407.6L1109.8 1400L1110.5 1392.6L1111.1 1400L1111.8 1392.6L1112.4 1392.6L1113.1 1400L1113.8 1400L1114.4 1407.6L1115.1 1400L1115.7 1392.6L1116.4 1400L1117.1 1407.6L1117.7 1400L1118.4 1400L1119 1407.6L1119.7 1407.6L1120.4 1392.6L1121 1407.6L1121.7 1407.6L1122.3 1400L1123 1383.4L1123.7 1383.4L1124.3 1407.6L1125 1400L1125.6 1383.4L1126.3 1400L1126.9 1400L1127.6 1392.6L1128.3 1407.6L1130.2 1407.6L1130.9 1400L1131.6 1407.6L1132.2 1407.6L1132.9 1392.6L1133.5 1400L1134.2 1400L1134.9 1392.6L1135.5 1407.6L1136.2 1407.6L1136.8 1392.6L1137.5 1407.6L1138.2 1407.6L1138.8 1392.6L1139.5 1407.6L1140.1 1400L1140.8 1400L1141.5 1392.6L1142.1 1400L1142.8 1407.6L1143.4 1407.6L1144.1 1400L1144.8 1407.6L1145.4 1392.6L1146.1 1407.6L1146.7 1400L1147.4 1392.6L1148.1 1392.6L1148.7 1407.6L1149.4 1383.4L1150 1383.4L1150.7 1407.6L1151.4 1392.6L1152 1407.6L1152.7 1400L1153.3 1392.6L1154 1392.6" fill="none" stroke="#ffff00" stroke-width="1.15" stroke-linejoin="round"/>
</g>
<g id="cassiope">
<defs><clipPath id="hexc"><polygon points="234.1,53.5 256.2,15.1 300.9,15.1 323.1,53.5 302.8,88.5 254.4,88.5"/></clipPath>
<linearGradient id="earthg" x1="0" y1="0" x2="1" y2="1"><stop offset="0" stop-color="#3f86d8"/><stop offset="0.45" stop-color="#b9d8f4"/><stop offset="0.75" stop-color="#5a9be0"/><stop offset="1" stop-color="#2a6fc4"/></linearGradient>
<filter id="lb" x="-20%" y="-20%" width="140%" height="140%"><feGaussianBlur stdDeviation="0.55"/></filter>
<filter id="lb2" x="-20%" y="-20%" width="140%" height="140%"><feGaussianBlur stdDeviation="0.9"/></filter>
</defs>
<polygon points="228.9,53.2 253.4,10.2 304.2,10.2 329.2,53.2 304.2,96.5 253.4,96.5" fill="#fff" stroke="#bfe6f2" stroke-width="0.8"/>
<g clip-path="url(#hexc)"><g filter="url(#lb)">
<rect x="230" y="12" width="100" height="80" fill="#04060c"/>
<path d="M234.1 61.0 Q278.4 54.4 324.5 48.9 L324.5 90.4 L234.1 90.4 Z" fill="#1a8452" filter="url(#lb2)"/>
<path d="M234.1 68.5 Q278.4 59.5 324.5 52.3 L324.5 90.4 L234.1 90.4 Z" fill="#072a20" filter="url(#lb2)"/>
<path d="M234.1 75.3 Q278.4 60.2 324.5 53.5 L324.5 90.4 L234.1 90.4 Z" fill="url(#earthg)"/>
<ellipse cx="268.9" cy="71.5" rx="16.0" ry="3.8" fill="#fff" fill-opacity="0.55" transform="rotate(-14 268.9 71.5)"/>
<ellipse cx="285.9" cy="65.9" rx="14.1" ry="2.8" fill="#fff" fill-opacity="0.5" transform="rotate(-14 285.9 65.9)"/>
<ellipse cx="300.9" cy="61.2" rx="11.3" ry="2.6" fill="#fff" fill-opacity="0.5" transform="rotate(-14 300.9 61.2)"/>
<ellipse cx="262.4" cy="80.0" rx="10.4" ry="2.8" fill="#fff" fill-opacity="0.45" transform="rotate(-14 262.4 80.0)"/>
<ellipse cx="291.5" cy="75.3" rx="11.3" ry="3.3" fill="#fff" fill-opacity="0.6" transform="rotate(-14 291.5 75.3)"/>
<ellipse cx="307.5" cy="67.8" rx="7.5" ry="2.8" fill="#fff" fill-opacity="0.4" transform="rotate(-14 307.5 67.8)"/>
<path d="M251.1 89.4 Q272.7 84.7 284.0 81.4 T298.1 84.7 L304.7 90.4 L251.1 90.4 Z" fill="#fff"/>
<polygon points="296.7,83.3 311.1,74.2 303.0,88.9" fill="#2c6fc0"/>
</g>
<circle cx="258.4" cy="26.5" r="0.9" fill="#cfd6ff"/>
<circle cx="240.2" cy="50.4" r="0.7" fill="#cfd6ff"/>
<circle cx="295.3" cy="16.5" r="0.5" fill="#cfd6ff"/>
<circle cx="301.9" cy="40.5" r="0.45" fill="#cfd6ff"/>
<circle cx="272.7" cy="20.2" r="0.4" fill="#cfd6ff"/>
<circle cx="292.5" cy="47.5" r="0.4" fill="#cfd6ff"/>
<circle cx="310.4" cy="44.2" r="0.4" fill="#cfd6ff"/>
<circle cx="248.2" cy="40.5" r="0.35" fill="#cfd6ff"/>
<path d="M262.8 47.1 L252.5 46.6" stroke="#6b6f78" stroke-width="0.5"/>
<path d="M272.7 55.5 L265.9 63.2" stroke="#6b6f78" stroke-width="0.5"/>
<path d="M280.2 32.0 L263.3 42.8" stroke="#7d7f86" stroke-width="0.4"/>
<path d="M285.9 50.4 L302.4 74.8" stroke="#e8f2ff" stroke-width="0.7"/>
<circle cx="252.8" cy="46.6" r="1" fill="#e8a33a"/>
<circle cx="266.1" cy="62.9" r="0.8" fill="#d9902f"/>
<polygon points="271.3,54.8 278.8,43.8 288.0,42.5 288.0,45.6 280.2,55.7 275.1,56.8" fill="#d9b46a"/>
<polygon points="280.2,44.2 287.3,42.9 287.0,46.1 282.9,47.1" fill="#8a5a2a"/>
<polygon points="268.0,36.2 266.9,30.3 272.7,31.5 287.6,41.4 278.8,43.9" fill="#1d5fb4"/>
<polygon points="262.5,46.9 267.8,36.0 279.0,43.9 271.3,54.8" fill="#3b86dc"/>
<polygon points="262.5,46.9 266.9,30.3 268.0,30.7 263.5,47.1" fill="#c7892f"/>
</g>
<circle cx="278.8" cy="80.6" r="3.3" fill="#1d6cc5"/>
<rect x="276.8" y="80.0" width="4.2" height="0.9" fill="#fff"/>
<text x="260.8" y="90.8" font-size="4.3" font-weight="bold" textLength="35" lengthAdjust="spacingAndGlyphs" fill="#2aa3dc">CASSIOPE</text>
</g>
<g id="esa">
<defs><pattern id="hatch" width="2.1" height="2.1" patternUnits="userSpaceOnUse" patternTransform="rotate(-58 997 54)"><rect width="2.1" height="2.1" fill="#0b2b6c"/><rect y="1.35" width="2.1" height="0.75" fill="#fff"/></pattern>
<pattern id="hatch2" width="2.0" height="2.0" patternUnits="userSpaceOnUse" patternTransform="rotate(24 997 54)"><rect width="2.0" height="0.7" fill="#fff"/></pattern>
<clipPath id="esac"><circle cx="997.3" cy="53.9" r="19.7"/></clipPath></defs>
<circle cx="997.3" cy="53.9" r="19.7" fill="url(#hatch)"/>
<g clip-path="url(#esac)"><path d="M977 56 L1004 56 L1010 74 L977 74 Z" fill="url(#hatch2)"/></g>
<circle cx="1009.2" cy="54.6" r="8.9" fill="#fff"/>
<path d="M1003.4 51.2 Q1008 46.8 1013.8 49.4 M1002.2 55.2 L1016 53.2 M1004 59.4 Q1009.5 63.4 1015.4 58.2" stroke="#0b2b6c" stroke-width="1.5" fill="none"/>
<circle cx="985.6" cy="53.2" r="1.5" fill="#fff"/>
<text x="1021.0" y="65.9" font-size="44.5" font-weight="bold" textLength="67.6" lengthAdjust="spacingAndGlyphs" fill="#0b2b6c" stroke="#0b2b6c" stroke-width="0.9">esa</text>
</g>
</svg>
</body></html>
